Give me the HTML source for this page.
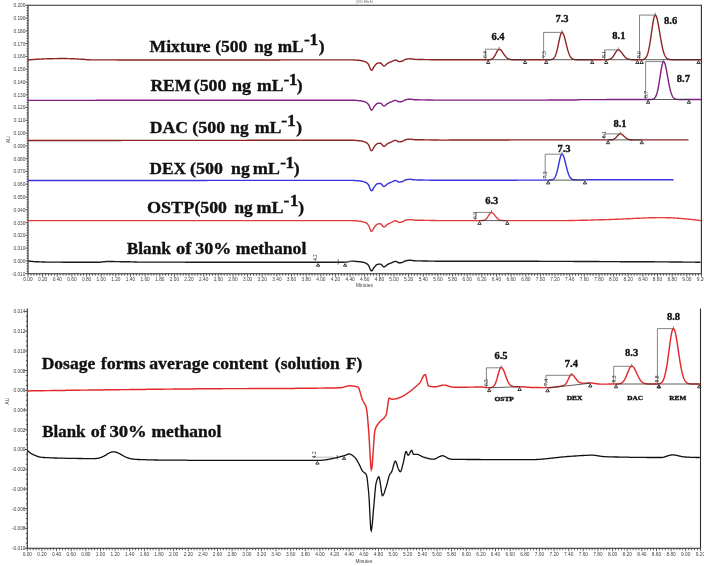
<!DOCTYPE html><html><head><meta charset="utf-8"><style>html,body{margin:0;padding:0;background:#fff;}svg{display:block}.tk{font-family:"Liberation Sans",sans-serif;font-size:4.8px;fill:#3c3c3c}.lb{font-family:"Liberation Serif",serif;font-weight:bold;fill:#111;stroke:#111;stroke-width:0.35px}</style></head><body>
<svg width="704" height="566" viewBox="0 0 704 566">
<rect width="704" height="566" fill="#fff"/>
<line x1="25.3" y1="5.3" x2="28" y2="5.3" stroke="#2e2e2e" stroke-width="0.8"/>
<text x="25.4" y="7.2" text-anchor="end" class="tk">0.200</text>
<line x1="26.6" y1="7.9" x2="28" y2="7.9" stroke="#2e2e2e" stroke-width="0.8"/>
<line x1="26.6" y1="10.4" x2="28" y2="10.4" stroke="#2e2e2e" stroke-width="0.8"/>
<line x1="26.6" y1="13" x2="28" y2="13" stroke="#2e2e2e" stroke-width="0.8"/>
<line x1="26.6" y1="15.5" x2="28" y2="15.5" stroke="#2e2e2e" stroke-width="0.8"/>
<line x1="25.3" y1="18.1" x2="28" y2="18.1" stroke="#2e2e2e" stroke-width="0.8"/>
<text x="25.4" y="20" text-anchor="end" class="tk">0.190</text>
<line x1="26.6" y1="20.6" x2="28" y2="20.6" stroke="#2e2e2e" stroke-width="0.8"/>
<line x1="26.6" y1="23.2" x2="28" y2="23.2" stroke="#2e2e2e" stroke-width="0.8"/>
<line x1="26.6" y1="25.7" x2="28" y2="25.7" stroke="#2e2e2e" stroke-width="0.8"/>
<line x1="26.6" y1="28.3" x2="28" y2="28.3" stroke="#2e2e2e" stroke-width="0.8"/>
<line x1="25.3" y1="30.9" x2="28" y2="30.9" stroke="#2e2e2e" stroke-width="0.8"/>
<text x="25.4" y="32.8" text-anchor="end" class="tk">0.180</text>
<line x1="26.6" y1="33.4" x2="28" y2="33.4" stroke="#2e2e2e" stroke-width="0.8"/>
<line x1="26.6" y1="36" x2="28" y2="36" stroke="#2e2e2e" stroke-width="0.8"/>
<line x1="26.6" y1="38.5" x2="28" y2="38.5" stroke="#2e2e2e" stroke-width="0.8"/>
<line x1="26.6" y1="41.1" x2="28" y2="41.1" stroke="#2e2e2e" stroke-width="0.8"/>
<line x1="25.3" y1="43.6" x2="28" y2="43.6" stroke="#2e2e2e" stroke-width="0.8"/>
<text x="25.4" y="45.5" text-anchor="end" class="tk">0.170</text>
<line x1="26.6" y1="46.2" x2="28" y2="46.2" stroke="#2e2e2e" stroke-width="0.8"/>
<line x1="26.6" y1="48.8" x2="28" y2="48.8" stroke="#2e2e2e" stroke-width="0.8"/>
<line x1="26.6" y1="51.3" x2="28" y2="51.3" stroke="#2e2e2e" stroke-width="0.8"/>
<line x1="26.6" y1="53.9" x2="28" y2="53.9" stroke="#2e2e2e" stroke-width="0.8"/>
<line x1="25.3" y1="56.4" x2="28" y2="56.4" stroke="#2e2e2e" stroke-width="0.8"/>
<text x="25.4" y="58.3" text-anchor="end" class="tk">0.160</text>
<line x1="26.6" y1="59" x2="28" y2="59" stroke="#2e2e2e" stroke-width="0.8"/>
<line x1="26.6" y1="61.5" x2="28" y2="61.5" stroke="#2e2e2e" stroke-width="0.8"/>
<line x1="26.6" y1="64.1" x2="28" y2="64.1" stroke="#2e2e2e" stroke-width="0.8"/>
<line x1="26.6" y1="66.6" x2="28" y2="66.6" stroke="#2e2e2e" stroke-width="0.8"/>
<line x1="25.3" y1="69.2" x2="28" y2="69.2" stroke="#2e2e2e" stroke-width="0.8"/>
<text x="25.4" y="71.1" text-anchor="end" class="tk">0.150</text>
<line x1="26.6" y1="71.8" x2="28" y2="71.8" stroke="#2e2e2e" stroke-width="0.8"/>
<line x1="26.6" y1="74.3" x2="28" y2="74.3" stroke="#2e2e2e" stroke-width="0.8"/>
<line x1="26.6" y1="76.9" x2="28" y2="76.9" stroke="#2e2e2e" stroke-width="0.8"/>
<line x1="26.6" y1="79.4" x2="28" y2="79.4" stroke="#2e2e2e" stroke-width="0.8"/>
<line x1="25.3" y1="82" x2="28" y2="82" stroke="#2e2e2e" stroke-width="0.8"/>
<text x="25.4" y="83.9" text-anchor="end" class="tk">0.140</text>
<line x1="26.6" y1="84.5" x2="28" y2="84.5" stroke="#2e2e2e" stroke-width="0.8"/>
<line x1="26.6" y1="87.1" x2="28" y2="87.1" stroke="#2e2e2e" stroke-width="0.8"/>
<line x1="26.6" y1="89.6" x2="28" y2="89.6" stroke="#2e2e2e" stroke-width="0.8"/>
<line x1="26.6" y1="92.2" x2="28" y2="92.2" stroke="#2e2e2e" stroke-width="0.8"/>
<line x1="25.3" y1="94.8" x2="28" y2="94.8" stroke="#2e2e2e" stroke-width="0.8"/>
<text x="25.4" y="96.7" text-anchor="end" class="tk">0.130</text>
<line x1="26.6" y1="97.3" x2="28" y2="97.3" stroke="#2e2e2e" stroke-width="0.8"/>
<line x1="26.6" y1="99.9" x2="28" y2="99.9" stroke="#2e2e2e" stroke-width="0.8"/>
<line x1="26.6" y1="102.4" x2="28" y2="102.4" stroke="#2e2e2e" stroke-width="0.8"/>
<line x1="26.6" y1="105" x2="28" y2="105" stroke="#2e2e2e" stroke-width="0.8"/>
<line x1="25.3" y1="107.5" x2="28" y2="107.5" stroke="#2e2e2e" stroke-width="0.8"/>
<text x="25.4" y="109.4" text-anchor="end" class="tk">0.120</text>
<line x1="26.6" y1="110.1" x2="28" y2="110.1" stroke="#2e2e2e" stroke-width="0.8"/>
<line x1="26.6" y1="112.7" x2="28" y2="112.7" stroke="#2e2e2e" stroke-width="0.8"/>
<line x1="26.6" y1="115.2" x2="28" y2="115.2" stroke="#2e2e2e" stroke-width="0.8"/>
<line x1="26.6" y1="117.8" x2="28" y2="117.8" stroke="#2e2e2e" stroke-width="0.8"/>
<line x1="25.3" y1="120.3" x2="28" y2="120.3" stroke="#2e2e2e" stroke-width="0.8"/>
<text x="25.4" y="122.2" text-anchor="end" class="tk">0.110</text>
<line x1="26.6" y1="122.9" x2="28" y2="122.9" stroke="#2e2e2e" stroke-width="0.8"/>
<line x1="26.6" y1="125.4" x2="28" y2="125.4" stroke="#2e2e2e" stroke-width="0.8"/>
<line x1="26.6" y1="128" x2="28" y2="128" stroke="#2e2e2e" stroke-width="0.8"/>
<line x1="26.6" y1="130.5" x2="28" y2="130.5" stroke="#2e2e2e" stroke-width="0.8"/>
<line x1="25.3" y1="133.1" x2="28" y2="133.1" stroke="#2e2e2e" stroke-width="0.8"/>
<text x="25.4" y="135" text-anchor="end" class="tk">0.100</text>
<line x1="26.6" y1="135.7" x2="28" y2="135.7" stroke="#2e2e2e" stroke-width="0.8"/>
<line x1="26.6" y1="138.2" x2="28" y2="138.2" stroke="#2e2e2e" stroke-width="0.8"/>
<line x1="26.6" y1="140.8" x2="28" y2="140.8" stroke="#2e2e2e" stroke-width="0.8"/>
<line x1="26.6" y1="143.3" x2="28" y2="143.3" stroke="#2e2e2e" stroke-width="0.8"/>
<line x1="25.3" y1="145.9" x2="28" y2="145.9" stroke="#2e2e2e" stroke-width="0.8"/>
<text x="25.4" y="147.8" text-anchor="end" class="tk">0.090</text>
<line x1="26.6" y1="148.4" x2="28" y2="148.4" stroke="#2e2e2e" stroke-width="0.8"/>
<line x1="26.6" y1="151" x2="28" y2="151" stroke="#2e2e2e" stroke-width="0.8"/>
<line x1="26.6" y1="153.5" x2="28" y2="153.5" stroke="#2e2e2e" stroke-width="0.8"/>
<line x1="26.6" y1="156.1" x2="28" y2="156.1" stroke="#2e2e2e" stroke-width="0.8"/>
<line x1="25.3" y1="158.7" x2="28" y2="158.7" stroke="#2e2e2e" stroke-width="0.8"/>
<text x="25.4" y="160.6" text-anchor="end" class="tk">0.080</text>
<line x1="26.6" y1="161.2" x2="28" y2="161.2" stroke="#2e2e2e" stroke-width="0.8"/>
<line x1="26.6" y1="163.8" x2="28" y2="163.8" stroke="#2e2e2e" stroke-width="0.8"/>
<line x1="26.6" y1="166.3" x2="28" y2="166.3" stroke="#2e2e2e" stroke-width="0.8"/>
<line x1="26.6" y1="168.9" x2="28" y2="168.9" stroke="#2e2e2e" stroke-width="0.8"/>
<line x1="25.3" y1="171.4" x2="28" y2="171.4" stroke="#2e2e2e" stroke-width="0.8"/>
<text x="25.4" y="173.3" text-anchor="end" class="tk">0.070</text>
<line x1="26.6" y1="174" x2="28" y2="174" stroke="#2e2e2e" stroke-width="0.8"/>
<line x1="26.6" y1="176.6" x2="28" y2="176.6" stroke="#2e2e2e" stroke-width="0.8"/>
<line x1="26.6" y1="179.1" x2="28" y2="179.1" stroke="#2e2e2e" stroke-width="0.8"/>
<line x1="26.6" y1="181.7" x2="28" y2="181.7" stroke="#2e2e2e" stroke-width="0.8"/>
<line x1="25.3" y1="184.2" x2="28" y2="184.2" stroke="#2e2e2e" stroke-width="0.8"/>
<text x="25.4" y="186.1" text-anchor="end" class="tk">0.060</text>
<line x1="26.6" y1="186.8" x2="28" y2="186.8" stroke="#2e2e2e" stroke-width="0.8"/>
<line x1="26.6" y1="189.3" x2="28" y2="189.3" stroke="#2e2e2e" stroke-width="0.8"/>
<line x1="26.6" y1="191.9" x2="28" y2="191.9" stroke="#2e2e2e" stroke-width="0.8"/>
<line x1="26.6" y1="194.4" x2="28" y2="194.4" stroke="#2e2e2e" stroke-width="0.8"/>
<line x1="25.3" y1="197" x2="28" y2="197" stroke="#2e2e2e" stroke-width="0.8"/>
<text x="25.4" y="198.9" text-anchor="end" class="tk">0.050</text>
<line x1="26.6" y1="199.6" x2="28" y2="199.6" stroke="#2e2e2e" stroke-width="0.8"/>
<line x1="26.6" y1="202.1" x2="28" y2="202.1" stroke="#2e2e2e" stroke-width="0.8"/>
<line x1="26.6" y1="204.7" x2="28" y2="204.7" stroke="#2e2e2e" stroke-width="0.8"/>
<line x1="26.6" y1="207.2" x2="28" y2="207.2" stroke="#2e2e2e" stroke-width="0.8"/>
<line x1="25.3" y1="209.8" x2="28" y2="209.8" stroke="#2e2e2e" stroke-width="0.8"/>
<text x="25.4" y="211.7" text-anchor="end" class="tk">0.040</text>
<line x1="26.6" y1="212.3" x2="28" y2="212.3" stroke="#2e2e2e" stroke-width="0.8"/>
<line x1="26.6" y1="214.9" x2="28" y2="214.9" stroke="#2e2e2e" stroke-width="0.8"/>
<line x1="26.6" y1="217.4" x2="28" y2="217.4" stroke="#2e2e2e" stroke-width="0.8"/>
<line x1="26.6" y1="220" x2="28" y2="220" stroke="#2e2e2e" stroke-width="0.8"/>
<line x1="25.3" y1="222.6" x2="28" y2="222.6" stroke="#2e2e2e" stroke-width="0.8"/>
<text x="25.4" y="224.5" text-anchor="end" class="tk">0.030</text>
<line x1="26.6" y1="225.1" x2="28" y2="225.1" stroke="#2e2e2e" stroke-width="0.8"/>
<line x1="26.6" y1="227.7" x2="28" y2="227.7" stroke="#2e2e2e" stroke-width="0.8"/>
<line x1="26.6" y1="230.2" x2="28" y2="230.2" stroke="#2e2e2e" stroke-width="0.8"/>
<line x1="26.6" y1="232.8" x2="28" y2="232.8" stroke="#2e2e2e" stroke-width="0.8"/>
<line x1="25.3" y1="235.3" x2="28" y2="235.3" stroke="#2e2e2e" stroke-width="0.8"/>
<text x="25.4" y="237.2" text-anchor="end" class="tk">0.020</text>
<line x1="26.6" y1="237.9" x2="28" y2="237.9" stroke="#2e2e2e" stroke-width="0.8"/>
<line x1="26.6" y1="240.5" x2="28" y2="240.5" stroke="#2e2e2e" stroke-width="0.8"/>
<line x1="26.6" y1="243" x2="28" y2="243" stroke="#2e2e2e" stroke-width="0.8"/>
<line x1="26.6" y1="245.6" x2="28" y2="245.6" stroke="#2e2e2e" stroke-width="0.8"/>
<line x1="25.3" y1="248.1" x2="28" y2="248.1" stroke="#2e2e2e" stroke-width="0.8"/>
<text x="25.4" y="250" text-anchor="end" class="tk">0.010</text>
<line x1="26.6" y1="250.7" x2="28" y2="250.7" stroke="#2e2e2e" stroke-width="0.8"/>
<line x1="26.6" y1="253.2" x2="28" y2="253.2" stroke="#2e2e2e" stroke-width="0.8"/>
<line x1="26.6" y1="255.8" x2="28" y2="255.8" stroke="#2e2e2e" stroke-width="0.8"/>
<line x1="26.6" y1="258.3" x2="28" y2="258.3" stroke="#2e2e2e" stroke-width="0.8"/>
<line x1="25.3" y1="260.9" x2="28" y2="260.9" stroke="#2e2e2e" stroke-width="0.8"/>
<text x="25.4" y="262.8" text-anchor="end" class="tk">0.000</text>
<line x1="26.6" y1="263.5" x2="28" y2="263.5" stroke="#2e2e2e" stroke-width="0.8"/>
<line x1="26.6" y1="266" x2="28" y2="266" stroke="#2e2e2e" stroke-width="0.8"/>
<line x1="26.6" y1="268.6" x2="28" y2="268.6" stroke="#2e2e2e" stroke-width="0.8"/>
<line x1="26.6" y1="271.1" x2="28" y2="271.1" stroke="#2e2e2e" stroke-width="0.8"/>
<line x1="25.3" y1="273.7" x2="28" y2="273.7" stroke="#2e2e2e" stroke-width="0.8"/>
<text x="25.4" y="275.6" text-anchor="end" class="tk">-0.010</text>
<line x1="28" y1="273.7" x2="28" y2="276.7" stroke="#2e2e2e" stroke-width="0.8"/>
<text x="28" y="281.3" text-anchor="middle" class="tk">0.00</text>
<line x1="30.9" y1="273.7" x2="30.9" y2="275.7" stroke="#2e2e2e" stroke-width="0.8"/>
<line x1="33.9" y1="273.7" x2="33.9" y2="275.7" stroke="#2e2e2e" stroke-width="0.8"/>
<line x1="36.8" y1="273.7" x2="36.8" y2="275.7" stroke="#2e2e2e" stroke-width="0.8"/>
<line x1="39.7" y1="273.7" x2="39.7" y2="275.7" stroke="#2e2e2e" stroke-width="0.8"/>
<line x1="42.6" y1="273.7" x2="42.6" y2="276.7" stroke="#2e2e2e" stroke-width="0.8"/>
<text x="42.6" y="281.3" text-anchor="middle" class="tk">0.20</text>
<line x1="45.6" y1="273.7" x2="45.6" y2="275.7" stroke="#2e2e2e" stroke-width="0.8"/>
<line x1="48.5" y1="273.7" x2="48.5" y2="275.7" stroke="#2e2e2e" stroke-width="0.8"/>
<line x1="51.4" y1="273.7" x2="51.4" y2="275.7" stroke="#2e2e2e" stroke-width="0.8"/>
<line x1="54.4" y1="273.7" x2="54.4" y2="275.7" stroke="#2e2e2e" stroke-width="0.8"/>
<line x1="57.3" y1="273.7" x2="57.3" y2="276.7" stroke="#2e2e2e" stroke-width="0.8"/>
<text x="57.3" y="281.3" text-anchor="middle" class="tk">0.40</text>
<line x1="60.2" y1="273.7" x2="60.2" y2="275.7" stroke="#2e2e2e" stroke-width="0.8"/>
<line x1="63.1" y1="273.7" x2="63.1" y2="275.7" stroke="#2e2e2e" stroke-width="0.8"/>
<line x1="66.1" y1="273.7" x2="66.1" y2="275.7" stroke="#2e2e2e" stroke-width="0.8"/>
<line x1="69" y1="273.7" x2="69" y2="275.7" stroke="#2e2e2e" stroke-width="0.8"/>
<line x1="71.9" y1="273.7" x2="71.9" y2="276.7" stroke="#2e2e2e" stroke-width="0.8"/>
<text x="71.9" y="281.3" text-anchor="middle" class="tk">0.60</text>
<line x1="74.8" y1="273.7" x2="74.8" y2="275.7" stroke="#2e2e2e" stroke-width="0.8"/>
<line x1="77.8" y1="273.7" x2="77.8" y2="275.7" stroke="#2e2e2e" stroke-width="0.8"/>
<line x1="80.7" y1="273.7" x2="80.7" y2="275.7" stroke="#2e2e2e" stroke-width="0.8"/>
<line x1="83.6" y1="273.7" x2="83.6" y2="275.7" stroke="#2e2e2e" stroke-width="0.8"/>
<line x1="86.6" y1="273.7" x2="86.6" y2="276.7" stroke="#2e2e2e" stroke-width="0.8"/>
<text x="86.6" y="281.3" text-anchor="middle" class="tk">0.80</text>
<line x1="89.5" y1="273.7" x2="89.5" y2="275.7" stroke="#2e2e2e" stroke-width="0.8"/>
<line x1="92.4" y1="273.7" x2="92.4" y2="275.7" stroke="#2e2e2e" stroke-width="0.8"/>
<line x1="95.3" y1="273.7" x2="95.3" y2="275.7" stroke="#2e2e2e" stroke-width="0.8"/>
<line x1="98.3" y1="273.7" x2="98.3" y2="275.7" stroke="#2e2e2e" stroke-width="0.8"/>
<line x1="101.2" y1="273.7" x2="101.2" y2="276.7" stroke="#2e2e2e" stroke-width="0.8"/>
<text x="101.2" y="281.3" text-anchor="middle" class="tk">1.00</text>
<line x1="104.1" y1="273.7" x2="104.1" y2="275.7" stroke="#2e2e2e" stroke-width="0.8"/>
<line x1="107.1" y1="273.7" x2="107.1" y2="275.7" stroke="#2e2e2e" stroke-width="0.8"/>
<line x1="110" y1="273.7" x2="110" y2="275.7" stroke="#2e2e2e" stroke-width="0.8"/>
<line x1="112.9" y1="273.7" x2="112.9" y2="275.7" stroke="#2e2e2e" stroke-width="0.8"/>
<line x1="115.8" y1="273.7" x2="115.8" y2="276.7" stroke="#2e2e2e" stroke-width="0.8"/>
<text x="115.8" y="281.3" text-anchor="middle" class="tk">1.20</text>
<line x1="118.8" y1="273.7" x2="118.8" y2="275.7" stroke="#2e2e2e" stroke-width="0.8"/>
<line x1="121.7" y1="273.7" x2="121.7" y2="275.7" stroke="#2e2e2e" stroke-width="0.8"/>
<line x1="124.6" y1="273.7" x2="124.6" y2="275.7" stroke="#2e2e2e" stroke-width="0.8"/>
<line x1="127.6" y1="273.7" x2="127.6" y2="275.7" stroke="#2e2e2e" stroke-width="0.8"/>
<line x1="130.5" y1="273.7" x2="130.5" y2="276.7" stroke="#2e2e2e" stroke-width="0.8"/>
<text x="130.5" y="281.3" text-anchor="middle" class="tk">1.40</text>
<line x1="133.4" y1="273.7" x2="133.4" y2="275.7" stroke="#2e2e2e" stroke-width="0.8"/>
<line x1="136.3" y1="273.7" x2="136.3" y2="275.7" stroke="#2e2e2e" stroke-width="0.8"/>
<line x1="139.3" y1="273.7" x2="139.3" y2="275.7" stroke="#2e2e2e" stroke-width="0.8"/>
<line x1="142.2" y1="273.7" x2="142.2" y2="275.7" stroke="#2e2e2e" stroke-width="0.8"/>
<line x1="145.1" y1="273.7" x2="145.1" y2="276.7" stroke="#2e2e2e" stroke-width="0.8"/>
<text x="145.1" y="281.3" text-anchor="middle" class="tk">1.60</text>
<line x1="148" y1="273.7" x2="148" y2="275.7" stroke="#2e2e2e" stroke-width="0.8"/>
<line x1="151" y1="273.7" x2="151" y2="275.7" stroke="#2e2e2e" stroke-width="0.8"/>
<line x1="153.9" y1="273.7" x2="153.9" y2="275.7" stroke="#2e2e2e" stroke-width="0.8"/>
<line x1="156.8" y1="273.7" x2="156.8" y2="275.7" stroke="#2e2e2e" stroke-width="0.8"/>
<line x1="159.8" y1="273.7" x2="159.8" y2="276.7" stroke="#2e2e2e" stroke-width="0.8"/>
<text x="159.8" y="281.3" text-anchor="middle" class="tk">1.80</text>
<line x1="162.7" y1="273.7" x2="162.7" y2="275.7" stroke="#2e2e2e" stroke-width="0.8"/>
<line x1="165.6" y1="273.7" x2="165.6" y2="275.7" stroke="#2e2e2e" stroke-width="0.8"/>
<line x1="168.5" y1="273.7" x2="168.5" y2="275.7" stroke="#2e2e2e" stroke-width="0.8"/>
<line x1="171.5" y1="273.7" x2="171.5" y2="275.7" stroke="#2e2e2e" stroke-width="0.8"/>
<line x1="174.4" y1="273.7" x2="174.4" y2="276.7" stroke="#2e2e2e" stroke-width="0.8"/>
<text x="174.4" y="281.3" text-anchor="middle" class="tk">2.00</text>
<line x1="177.3" y1="273.7" x2="177.3" y2="275.7" stroke="#2e2e2e" stroke-width="0.8"/>
<line x1="180.3" y1="273.7" x2="180.3" y2="275.7" stroke="#2e2e2e" stroke-width="0.8"/>
<line x1="183.2" y1="273.7" x2="183.2" y2="275.7" stroke="#2e2e2e" stroke-width="0.8"/>
<line x1="186.1" y1="273.7" x2="186.1" y2="275.7" stroke="#2e2e2e" stroke-width="0.8"/>
<line x1="189" y1="273.7" x2="189" y2="276.7" stroke="#2e2e2e" stroke-width="0.8"/>
<text x="189" y="281.3" text-anchor="middle" class="tk">2.20</text>
<line x1="192" y1="273.7" x2="192" y2="275.7" stroke="#2e2e2e" stroke-width="0.8"/>
<line x1="194.9" y1="273.7" x2="194.9" y2="275.7" stroke="#2e2e2e" stroke-width="0.8"/>
<line x1="197.8" y1="273.7" x2="197.8" y2="275.7" stroke="#2e2e2e" stroke-width="0.8"/>
<line x1="200.8" y1="273.7" x2="200.8" y2="275.7" stroke="#2e2e2e" stroke-width="0.8"/>
<line x1="203.7" y1="273.7" x2="203.7" y2="276.7" stroke="#2e2e2e" stroke-width="0.8"/>
<text x="203.7" y="281.3" text-anchor="middle" class="tk">2.40</text>
<line x1="206.6" y1="273.7" x2="206.6" y2="275.7" stroke="#2e2e2e" stroke-width="0.8"/>
<line x1="209.5" y1="273.7" x2="209.5" y2="275.7" stroke="#2e2e2e" stroke-width="0.8"/>
<line x1="212.5" y1="273.7" x2="212.5" y2="275.7" stroke="#2e2e2e" stroke-width="0.8"/>
<line x1="215.4" y1="273.7" x2="215.4" y2="275.7" stroke="#2e2e2e" stroke-width="0.8"/>
<line x1="218.3" y1="273.7" x2="218.3" y2="276.7" stroke="#2e2e2e" stroke-width="0.8"/>
<text x="218.3" y="281.3" text-anchor="middle" class="tk">2.60</text>
<line x1="221.2" y1="273.7" x2="221.2" y2="275.7" stroke="#2e2e2e" stroke-width="0.8"/>
<line x1="224.2" y1="273.7" x2="224.2" y2="275.7" stroke="#2e2e2e" stroke-width="0.8"/>
<line x1="227.1" y1="273.7" x2="227.1" y2="275.7" stroke="#2e2e2e" stroke-width="0.8"/>
<line x1="230" y1="273.7" x2="230" y2="275.7" stroke="#2e2e2e" stroke-width="0.8"/>
<line x1="233" y1="273.7" x2="233" y2="276.7" stroke="#2e2e2e" stroke-width="0.8"/>
<text x="233" y="281.3" text-anchor="middle" class="tk">2.80</text>
<line x1="235.9" y1="273.7" x2="235.9" y2="275.7" stroke="#2e2e2e" stroke-width="0.8"/>
<line x1="238.8" y1="273.7" x2="238.8" y2="275.7" stroke="#2e2e2e" stroke-width="0.8"/>
<line x1="241.7" y1="273.7" x2="241.7" y2="275.7" stroke="#2e2e2e" stroke-width="0.8"/>
<line x1="244.7" y1="273.7" x2="244.7" y2="275.7" stroke="#2e2e2e" stroke-width="0.8"/>
<line x1="247.6" y1="273.7" x2="247.6" y2="276.7" stroke="#2e2e2e" stroke-width="0.8"/>
<text x="247.6" y="281.3" text-anchor="middle" class="tk">3.00</text>
<line x1="250.5" y1="273.7" x2="250.5" y2="275.7" stroke="#2e2e2e" stroke-width="0.8"/>
<line x1="253.5" y1="273.7" x2="253.5" y2="275.7" stroke="#2e2e2e" stroke-width="0.8"/>
<line x1="256.4" y1="273.7" x2="256.4" y2="275.7" stroke="#2e2e2e" stroke-width="0.8"/>
<line x1="259.3" y1="273.7" x2="259.3" y2="275.7" stroke="#2e2e2e" stroke-width="0.8"/>
<line x1="262.2" y1="273.7" x2="262.2" y2="276.7" stroke="#2e2e2e" stroke-width="0.8"/>
<text x="262.2" y="281.3" text-anchor="middle" class="tk">3.20</text>
<line x1="265.2" y1="273.7" x2="265.2" y2="275.7" stroke="#2e2e2e" stroke-width="0.8"/>
<line x1="268.1" y1="273.7" x2="268.1" y2="275.7" stroke="#2e2e2e" stroke-width="0.8"/>
<line x1="271" y1="273.7" x2="271" y2="275.7" stroke="#2e2e2e" stroke-width="0.8"/>
<line x1="274" y1="273.7" x2="274" y2="275.7" stroke="#2e2e2e" stroke-width="0.8"/>
<line x1="276.9" y1="273.7" x2="276.9" y2="276.7" stroke="#2e2e2e" stroke-width="0.8"/>
<text x="276.9" y="281.3" text-anchor="middle" class="tk">3.40</text>
<line x1="279.8" y1="273.7" x2="279.8" y2="275.7" stroke="#2e2e2e" stroke-width="0.8"/>
<line x1="282.7" y1="273.7" x2="282.7" y2="275.7" stroke="#2e2e2e" stroke-width="0.8"/>
<line x1="285.7" y1="273.7" x2="285.7" y2="275.7" stroke="#2e2e2e" stroke-width="0.8"/>
<line x1="288.6" y1="273.7" x2="288.6" y2="275.7" stroke="#2e2e2e" stroke-width="0.8"/>
<line x1="291.5" y1="273.7" x2="291.5" y2="276.7" stroke="#2e2e2e" stroke-width="0.8"/>
<text x="291.5" y="281.3" text-anchor="middle" class="tk">3.60</text>
<line x1="294.4" y1="273.7" x2="294.4" y2="275.7" stroke="#2e2e2e" stroke-width="0.8"/>
<line x1="297.4" y1="273.7" x2="297.4" y2="275.7" stroke="#2e2e2e" stroke-width="0.8"/>
<line x1="300.3" y1="273.7" x2="300.3" y2="275.7" stroke="#2e2e2e" stroke-width="0.8"/>
<line x1="303.2" y1="273.7" x2="303.2" y2="275.7" stroke="#2e2e2e" stroke-width="0.8"/>
<line x1="306.2" y1="273.7" x2="306.2" y2="276.7" stroke="#2e2e2e" stroke-width="0.8"/>
<text x="306.2" y="281.3" text-anchor="middle" class="tk">3.80</text>
<line x1="309.1" y1="273.7" x2="309.1" y2="275.7" stroke="#2e2e2e" stroke-width="0.8"/>
<line x1="312" y1="273.7" x2="312" y2="275.7" stroke="#2e2e2e" stroke-width="0.8"/>
<line x1="314.9" y1="273.7" x2="314.9" y2="275.7" stroke="#2e2e2e" stroke-width="0.8"/>
<line x1="317.9" y1="273.7" x2="317.9" y2="275.7" stroke="#2e2e2e" stroke-width="0.8"/>
<line x1="320.8" y1="273.7" x2="320.8" y2="276.7" stroke="#2e2e2e" stroke-width="0.8"/>
<text x="320.8" y="281.3" text-anchor="middle" class="tk">4.00</text>
<line x1="323.7" y1="273.7" x2="323.7" y2="275.7" stroke="#2e2e2e" stroke-width="0.8"/>
<line x1="326.7" y1="273.7" x2="326.7" y2="275.7" stroke="#2e2e2e" stroke-width="0.8"/>
<line x1="329.6" y1="273.7" x2="329.6" y2="275.7" stroke="#2e2e2e" stroke-width="0.8"/>
<line x1="332.5" y1="273.7" x2="332.5" y2="275.7" stroke="#2e2e2e" stroke-width="0.8"/>
<line x1="335.4" y1="273.7" x2="335.4" y2="276.7" stroke="#2e2e2e" stroke-width="0.8"/>
<text x="335.4" y="281.3" text-anchor="middle" class="tk">4.20</text>
<line x1="338.4" y1="273.7" x2="338.4" y2="275.7" stroke="#2e2e2e" stroke-width="0.8"/>
<line x1="341.3" y1="273.7" x2="341.3" y2="275.7" stroke="#2e2e2e" stroke-width="0.8"/>
<line x1="344.2" y1="273.7" x2="344.2" y2="275.7" stroke="#2e2e2e" stroke-width="0.8"/>
<line x1="347.2" y1="273.7" x2="347.2" y2="275.7" stroke="#2e2e2e" stroke-width="0.8"/>
<line x1="350.1" y1="273.7" x2="350.1" y2="276.7" stroke="#2e2e2e" stroke-width="0.8"/>
<text x="350.1" y="281.3" text-anchor="middle" class="tk">4.40</text>
<line x1="353" y1="273.7" x2="353" y2="275.7" stroke="#2e2e2e" stroke-width="0.8"/>
<line x1="355.9" y1="273.7" x2="355.9" y2="275.7" stroke="#2e2e2e" stroke-width="0.8"/>
<line x1="358.9" y1="273.7" x2="358.9" y2="275.7" stroke="#2e2e2e" stroke-width="0.8"/>
<line x1="361.8" y1="273.7" x2="361.8" y2="275.7" stroke="#2e2e2e" stroke-width="0.8"/>
<line x1="364.7" y1="273.7" x2="364.7" y2="276.7" stroke="#2e2e2e" stroke-width="0.8"/>
<text x="364.7" y="281.3" text-anchor="middle" class="tk">4.60</text>
<line x1="367.6" y1="273.7" x2="367.6" y2="275.7" stroke="#2e2e2e" stroke-width="0.8"/>
<line x1="370.6" y1="273.7" x2="370.6" y2="275.7" stroke="#2e2e2e" stroke-width="0.8"/>
<line x1="373.5" y1="273.7" x2="373.5" y2="275.7" stroke="#2e2e2e" stroke-width="0.8"/>
<line x1="376.4" y1="273.7" x2="376.4" y2="275.7" stroke="#2e2e2e" stroke-width="0.8"/>
<line x1="379.4" y1="273.7" x2="379.4" y2="276.7" stroke="#2e2e2e" stroke-width="0.8"/>
<text x="379.4" y="281.3" text-anchor="middle" class="tk">4.80</text>
<line x1="382.3" y1="273.7" x2="382.3" y2="275.7" stroke="#2e2e2e" stroke-width="0.8"/>
<line x1="385.2" y1="273.7" x2="385.2" y2="275.7" stroke="#2e2e2e" stroke-width="0.8"/>
<line x1="388.1" y1="273.7" x2="388.1" y2="275.7" stroke="#2e2e2e" stroke-width="0.8"/>
<line x1="391.1" y1="273.7" x2="391.1" y2="275.7" stroke="#2e2e2e" stroke-width="0.8"/>
<line x1="394" y1="273.7" x2="394" y2="276.7" stroke="#2e2e2e" stroke-width="0.8"/>
<text x="394" y="281.3" text-anchor="middle" class="tk">5.00</text>
<line x1="396.9" y1="273.7" x2="396.9" y2="275.7" stroke="#2e2e2e" stroke-width="0.8"/>
<line x1="399.9" y1="273.7" x2="399.9" y2="275.7" stroke="#2e2e2e" stroke-width="0.8"/>
<line x1="402.8" y1="273.7" x2="402.8" y2="275.7" stroke="#2e2e2e" stroke-width="0.8"/>
<line x1="405.7" y1="273.7" x2="405.7" y2="275.7" stroke="#2e2e2e" stroke-width="0.8"/>
<line x1="408.6" y1="273.7" x2="408.6" y2="276.7" stroke="#2e2e2e" stroke-width="0.8"/>
<text x="408.6" y="281.3" text-anchor="middle" class="tk">5.20</text>
<line x1="411.6" y1="273.7" x2="411.6" y2="275.7" stroke="#2e2e2e" stroke-width="0.8"/>
<line x1="414.5" y1="273.7" x2="414.5" y2="275.7" stroke="#2e2e2e" stroke-width="0.8"/>
<line x1="417.4" y1="273.7" x2="417.4" y2="275.7" stroke="#2e2e2e" stroke-width="0.8"/>
<line x1="420.4" y1="273.7" x2="420.4" y2="275.7" stroke="#2e2e2e" stroke-width="0.8"/>
<line x1="423.3" y1="273.7" x2="423.3" y2="276.7" stroke="#2e2e2e" stroke-width="0.8"/>
<text x="423.3" y="281.3" text-anchor="middle" class="tk">5.40</text>
<line x1="426.2" y1="273.7" x2="426.2" y2="275.7" stroke="#2e2e2e" stroke-width="0.8"/>
<line x1="429.1" y1="273.7" x2="429.1" y2="275.7" stroke="#2e2e2e" stroke-width="0.8"/>
<line x1="432.1" y1="273.7" x2="432.1" y2="275.7" stroke="#2e2e2e" stroke-width="0.8"/>
<line x1="435" y1="273.7" x2="435" y2="275.7" stroke="#2e2e2e" stroke-width="0.8"/>
<line x1="437.9" y1="273.7" x2="437.9" y2="276.7" stroke="#2e2e2e" stroke-width="0.8"/>
<text x="437.9" y="281.3" text-anchor="middle" class="tk">5.60</text>
<line x1="440.8" y1="273.7" x2="440.8" y2="275.7" stroke="#2e2e2e" stroke-width="0.8"/>
<line x1="443.8" y1="273.7" x2="443.8" y2="275.7" stroke="#2e2e2e" stroke-width="0.8"/>
<line x1="446.7" y1="273.7" x2="446.7" y2="275.7" stroke="#2e2e2e" stroke-width="0.8"/>
<line x1="449.6" y1="273.7" x2="449.6" y2="275.7" stroke="#2e2e2e" stroke-width="0.8"/>
<line x1="452.6" y1="273.7" x2="452.6" y2="276.7" stroke="#2e2e2e" stroke-width="0.8"/>
<text x="452.6" y="281.3" text-anchor="middle" class="tk">5.80</text>
<line x1="455.5" y1="273.7" x2="455.5" y2="275.7" stroke="#2e2e2e" stroke-width="0.8"/>
<line x1="458.4" y1="273.7" x2="458.4" y2="275.7" stroke="#2e2e2e" stroke-width="0.8"/>
<line x1="461.3" y1="273.7" x2="461.3" y2="275.7" stroke="#2e2e2e" stroke-width="0.8"/>
<line x1="464.3" y1="273.7" x2="464.3" y2="275.7" stroke="#2e2e2e" stroke-width="0.8"/>
<line x1="467.2" y1="273.7" x2="467.2" y2="276.7" stroke="#2e2e2e" stroke-width="0.8"/>
<text x="467.2" y="281.3" text-anchor="middle" class="tk">6.00</text>
<line x1="470.1" y1="273.7" x2="470.1" y2="275.7" stroke="#2e2e2e" stroke-width="0.8"/>
<line x1="473.1" y1="273.7" x2="473.1" y2="275.7" stroke="#2e2e2e" stroke-width="0.8"/>
<line x1="476" y1="273.7" x2="476" y2="275.7" stroke="#2e2e2e" stroke-width="0.8"/>
<line x1="478.9" y1="273.7" x2="478.9" y2="275.7" stroke="#2e2e2e" stroke-width="0.8"/>
<line x1="481.8" y1="273.7" x2="481.8" y2="276.7" stroke="#2e2e2e" stroke-width="0.8"/>
<text x="481.8" y="281.3" text-anchor="middle" class="tk">6.20</text>
<line x1="484.8" y1="273.7" x2="484.8" y2="275.7" stroke="#2e2e2e" stroke-width="0.8"/>
<line x1="487.7" y1="273.7" x2="487.7" y2="275.7" stroke="#2e2e2e" stroke-width="0.8"/>
<line x1="490.6" y1="273.7" x2="490.6" y2="275.7" stroke="#2e2e2e" stroke-width="0.8"/>
<line x1="493.6" y1="273.7" x2="493.6" y2="275.7" stroke="#2e2e2e" stroke-width="0.8"/>
<line x1="496.5" y1="273.7" x2="496.5" y2="276.7" stroke="#2e2e2e" stroke-width="0.8"/>
<text x="496.5" y="281.3" text-anchor="middle" class="tk">6.40</text>
<line x1="499.4" y1="273.7" x2="499.4" y2="275.7" stroke="#2e2e2e" stroke-width="0.8"/>
<line x1="502.3" y1="273.7" x2="502.3" y2="275.7" stroke="#2e2e2e" stroke-width="0.8"/>
<line x1="505.3" y1="273.7" x2="505.3" y2="275.7" stroke="#2e2e2e" stroke-width="0.8"/>
<line x1="508.2" y1="273.7" x2="508.2" y2="275.7" stroke="#2e2e2e" stroke-width="0.8"/>
<line x1="511.1" y1="273.7" x2="511.1" y2="276.7" stroke="#2e2e2e" stroke-width="0.8"/>
<text x="511.1" y="281.3" text-anchor="middle" class="tk">6.60</text>
<line x1="514" y1="273.7" x2="514" y2="275.7" stroke="#2e2e2e" stroke-width="0.8"/>
<line x1="517" y1="273.7" x2="517" y2="275.7" stroke="#2e2e2e" stroke-width="0.8"/>
<line x1="519.9" y1="273.7" x2="519.9" y2="275.7" stroke="#2e2e2e" stroke-width="0.8"/>
<line x1="522.8" y1="273.7" x2="522.8" y2="275.7" stroke="#2e2e2e" stroke-width="0.8"/>
<line x1="525.8" y1="273.7" x2="525.8" y2="276.7" stroke="#2e2e2e" stroke-width="0.8"/>
<text x="525.8" y="281.3" text-anchor="middle" class="tk">6.80</text>
<line x1="528.7" y1="273.7" x2="528.7" y2="275.7" stroke="#2e2e2e" stroke-width="0.8"/>
<line x1="531.6" y1="273.7" x2="531.6" y2="275.7" stroke="#2e2e2e" stroke-width="0.8"/>
<line x1="534.5" y1="273.7" x2="534.5" y2="275.7" stroke="#2e2e2e" stroke-width="0.8"/>
<line x1="537.5" y1="273.7" x2="537.5" y2="275.7" stroke="#2e2e2e" stroke-width="0.8"/>
<line x1="540.4" y1="273.7" x2="540.4" y2="276.7" stroke="#2e2e2e" stroke-width="0.8"/>
<text x="540.4" y="281.3" text-anchor="middle" class="tk">7.00</text>
<line x1="543.3" y1="273.7" x2="543.3" y2="275.7" stroke="#2e2e2e" stroke-width="0.8"/>
<line x1="546.3" y1="273.7" x2="546.3" y2="275.7" stroke="#2e2e2e" stroke-width="0.8"/>
<line x1="549.2" y1="273.7" x2="549.2" y2="275.7" stroke="#2e2e2e" stroke-width="0.8"/>
<line x1="552.1" y1="273.7" x2="552.1" y2="275.7" stroke="#2e2e2e" stroke-width="0.8"/>
<line x1="555" y1="273.7" x2="555" y2="276.7" stroke="#2e2e2e" stroke-width="0.8"/>
<text x="555" y="281.3" text-anchor="middle" class="tk">7.20</text>
<line x1="558" y1="273.7" x2="558" y2="275.7" stroke="#2e2e2e" stroke-width="0.8"/>
<line x1="560.9" y1="273.7" x2="560.9" y2="275.7" stroke="#2e2e2e" stroke-width="0.8"/>
<line x1="563.8" y1="273.7" x2="563.8" y2="275.7" stroke="#2e2e2e" stroke-width="0.8"/>
<line x1="566.8" y1="273.7" x2="566.8" y2="275.7" stroke="#2e2e2e" stroke-width="0.8"/>
<line x1="569.7" y1="273.7" x2="569.7" y2="276.7" stroke="#2e2e2e" stroke-width="0.8"/>
<text x="569.7" y="281.3" text-anchor="middle" class="tk">7.40</text>
<line x1="572.6" y1="273.7" x2="572.6" y2="275.7" stroke="#2e2e2e" stroke-width="0.8"/>
<line x1="575.5" y1="273.7" x2="575.5" y2="275.7" stroke="#2e2e2e" stroke-width="0.8"/>
<line x1="578.5" y1="273.7" x2="578.5" y2="275.7" stroke="#2e2e2e" stroke-width="0.8"/>
<line x1="581.4" y1="273.7" x2="581.4" y2="275.7" stroke="#2e2e2e" stroke-width="0.8"/>
<line x1="584.3" y1="273.7" x2="584.3" y2="276.7" stroke="#2e2e2e" stroke-width="0.8"/>
<text x="584.3" y="281.3" text-anchor="middle" class="tk">7.60</text>
<line x1="587.2" y1="273.7" x2="587.2" y2="275.7" stroke="#2e2e2e" stroke-width="0.8"/>
<line x1="590.2" y1="273.7" x2="590.2" y2="275.7" stroke="#2e2e2e" stroke-width="0.8"/>
<line x1="593.1" y1="273.7" x2="593.1" y2="275.7" stroke="#2e2e2e" stroke-width="0.8"/>
<line x1="596" y1="273.7" x2="596" y2="275.7" stroke="#2e2e2e" stroke-width="0.8"/>
<line x1="599" y1="273.7" x2="599" y2="276.7" stroke="#2e2e2e" stroke-width="0.8"/>
<text x="599" y="281.3" text-anchor="middle" class="tk">7.80</text>
<line x1="601.9" y1="273.7" x2="601.9" y2="275.7" stroke="#2e2e2e" stroke-width="0.8"/>
<line x1="604.8" y1="273.7" x2="604.8" y2="275.7" stroke="#2e2e2e" stroke-width="0.8"/>
<line x1="607.7" y1="273.7" x2="607.7" y2="275.7" stroke="#2e2e2e" stroke-width="0.8"/>
<line x1="610.7" y1="273.7" x2="610.7" y2="275.7" stroke="#2e2e2e" stroke-width="0.8"/>
<line x1="613.6" y1="273.7" x2="613.6" y2="276.7" stroke="#2e2e2e" stroke-width="0.8"/>
<text x="613.6" y="281.3" text-anchor="middle" class="tk">8.00</text>
<line x1="616.5" y1="273.7" x2="616.5" y2="275.7" stroke="#2e2e2e" stroke-width="0.8"/>
<line x1="619.5" y1="273.7" x2="619.5" y2="275.7" stroke="#2e2e2e" stroke-width="0.8"/>
<line x1="622.4" y1="273.7" x2="622.4" y2="275.7" stroke="#2e2e2e" stroke-width="0.8"/>
<line x1="625.3" y1="273.7" x2="625.3" y2="275.7" stroke="#2e2e2e" stroke-width="0.8"/>
<line x1="628.2" y1="273.7" x2="628.2" y2="276.7" stroke="#2e2e2e" stroke-width="0.8"/>
<text x="628.2" y="281.3" text-anchor="middle" class="tk">8.20</text>
<line x1="631.2" y1="273.7" x2="631.2" y2="275.7" stroke="#2e2e2e" stroke-width="0.8"/>
<line x1="634.1" y1="273.7" x2="634.1" y2="275.7" stroke="#2e2e2e" stroke-width="0.8"/>
<line x1="637" y1="273.7" x2="637" y2="275.7" stroke="#2e2e2e" stroke-width="0.8"/>
<line x1="640" y1="273.7" x2="640" y2="275.7" stroke="#2e2e2e" stroke-width="0.8"/>
<line x1="642.9" y1="273.7" x2="642.9" y2="276.7" stroke="#2e2e2e" stroke-width="0.8"/>
<text x="642.9" y="281.3" text-anchor="middle" class="tk">8.40</text>
<line x1="645.8" y1="273.7" x2="645.8" y2="275.7" stroke="#2e2e2e" stroke-width="0.8"/>
<line x1="648.7" y1="273.7" x2="648.7" y2="275.7" stroke="#2e2e2e" stroke-width="0.8"/>
<line x1="651.7" y1="273.7" x2="651.7" y2="275.7" stroke="#2e2e2e" stroke-width="0.8"/>
<line x1="654.6" y1="273.7" x2="654.6" y2="275.7" stroke="#2e2e2e" stroke-width="0.8"/>
<line x1="657.5" y1="273.7" x2="657.5" y2="276.7" stroke="#2e2e2e" stroke-width="0.8"/>
<text x="657.5" y="281.3" text-anchor="middle" class="tk">8.60</text>
<line x1="660.4" y1="273.7" x2="660.4" y2="275.7" stroke="#2e2e2e" stroke-width="0.8"/>
<line x1="663.4" y1="273.7" x2="663.4" y2="275.7" stroke="#2e2e2e" stroke-width="0.8"/>
<line x1="666.3" y1="273.7" x2="666.3" y2="275.7" stroke="#2e2e2e" stroke-width="0.8"/>
<line x1="669.2" y1="273.7" x2="669.2" y2="275.7" stroke="#2e2e2e" stroke-width="0.8"/>
<line x1="672.2" y1="273.7" x2="672.2" y2="276.7" stroke="#2e2e2e" stroke-width="0.8"/>
<text x="672.2" y="281.3" text-anchor="middle" class="tk">8.80</text>
<line x1="675.1" y1="273.7" x2="675.1" y2="275.7" stroke="#2e2e2e" stroke-width="0.8"/>
<line x1="678" y1="273.7" x2="678" y2="275.7" stroke="#2e2e2e" stroke-width="0.8"/>
<line x1="680.9" y1="273.7" x2="680.9" y2="275.7" stroke="#2e2e2e" stroke-width="0.8"/>
<line x1="683.9" y1="273.7" x2="683.9" y2="275.7" stroke="#2e2e2e" stroke-width="0.8"/>
<line x1="686.8" y1="273.7" x2="686.8" y2="276.7" stroke="#2e2e2e" stroke-width="0.8"/>
<text x="686.8" y="281.3" text-anchor="middle" class="tk">9.00</text>
<line x1="689.7" y1="273.7" x2="689.7" y2="275.7" stroke="#2e2e2e" stroke-width="0.8"/>
<line x1="692.7" y1="273.7" x2="692.7" y2="275.7" stroke="#2e2e2e" stroke-width="0.8"/>
<line x1="695.6" y1="273.7" x2="695.6" y2="275.7" stroke="#2e2e2e" stroke-width="0.8"/>
<line x1="698.5" y1="273.7" x2="698.5" y2="275.7" stroke="#2e2e2e" stroke-width="0.8"/>
<line x1="701.4" y1="273.7" x2="701.4" y2="276.7" stroke="#2e2e2e" stroke-width="0.8"/>
<text x="701.4" y="281.3" text-anchor="middle" class="tk">9.20</text>
<path d="M28,273.7 V5.3 H701.4 V273.7 H28" fill="none" stroke="#2e2e2e" stroke-width="1.1"/>
<text x="364.5" y="287" text-anchor="middle" class="tk" font-size="5">Minutes</text>
<text transform="translate(9.6,143) rotate(-90)" class="tk" font-size="5">AU</text>
<text x="364.5" y="2.8" text-anchor="middle" font-family="Liberation Sans, sans-serif" font-size="2.6" fill="#666">Q5SO MHz 8vl</text>
<line x1="24.6" y1="311.4" x2="27.3" y2="311.4" stroke="#2e2e2e" stroke-width="0.8"/>
<text x="25.5" y="313.3" text-anchor="end" class="tk">0.014</text>
<line x1="25.9" y1="316.3" x2="27.3" y2="316.3" stroke="#2e2e2e" stroke-width="0.8"/>
<line x1="25.9" y1="321.3" x2="27.3" y2="321.3" stroke="#2e2e2e" stroke-width="0.8"/>
<line x1="25.9" y1="326.2" x2="27.3" y2="326.2" stroke="#2e2e2e" stroke-width="0.8"/>
<line x1="24.6" y1="331.1" x2="27.3" y2="331.1" stroke="#2e2e2e" stroke-width="0.8"/>
<text x="25.5" y="333" text-anchor="end" class="tk">0.012</text>
<line x1="25.9" y1="336.1" x2="27.3" y2="336.1" stroke="#2e2e2e" stroke-width="0.8"/>
<line x1="25.9" y1="341" x2="27.3" y2="341" stroke="#2e2e2e" stroke-width="0.8"/>
<line x1="25.9" y1="345.9" x2="27.3" y2="345.9" stroke="#2e2e2e" stroke-width="0.8"/>
<line x1="24.6" y1="350.9" x2="27.3" y2="350.9" stroke="#2e2e2e" stroke-width="0.8"/>
<text x="25.5" y="352.8" text-anchor="end" class="tk">0.010</text>
<line x1="25.9" y1="355.8" x2="27.3" y2="355.8" stroke="#2e2e2e" stroke-width="0.8"/>
<line x1="25.9" y1="360.7" x2="27.3" y2="360.7" stroke="#2e2e2e" stroke-width="0.8"/>
<line x1="25.9" y1="365.7" x2="27.3" y2="365.7" stroke="#2e2e2e" stroke-width="0.8"/>
<line x1="24.6" y1="370.6" x2="27.3" y2="370.6" stroke="#2e2e2e" stroke-width="0.8"/>
<text x="25.5" y="372.5" text-anchor="end" class="tk">0.008</text>
<line x1="25.9" y1="375.5" x2="27.3" y2="375.5" stroke="#2e2e2e" stroke-width="0.8"/>
<line x1="25.9" y1="380.5" x2="27.3" y2="380.5" stroke="#2e2e2e" stroke-width="0.8"/>
<line x1="25.9" y1="385.4" x2="27.3" y2="385.4" stroke="#2e2e2e" stroke-width="0.8"/>
<line x1="24.6" y1="390.3" x2="27.3" y2="390.3" stroke="#2e2e2e" stroke-width="0.8"/>
<text x="25.5" y="392.2" text-anchor="end" class="tk">0.006</text>
<line x1="25.9" y1="395.3" x2="27.3" y2="395.3" stroke="#2e2e2e" stroke-width="0.8"/>
<line x1="25.9" y1="400.2" x2="27.3" y2="400.2" stroke="#2e2e2e" stroke-width="0.8"/>
<line x1="25.9" y1="405.1" x2="27.3" y2="405.1" stroke="#2e2e2e" stroke-width="0.8"/>
<line x1="24.6" y1="410" x2="27.3" y2="410" stroke="#2e2e2e" stroke-width="0.8"/>
<text x="25.5" y="411.9" text-anchor="end" class="tk">0.004</text>
<line x1="25.9" y1="415" x2="27.3" y2="415" stroke="#2e2e2e" stroke-width="0.8"/>
<line x1="25.9" y1="419.9" x2="27.3" y2="419.9" stroke="#2e2e2e" stroke-width="0.8"/>
<line x1="25.9" y1="424.8" x2="27.3" y2="424.8" stroke="#2e2e2e" stroke-width="0.8"/>
<line x1="24.6" y1="429.8" x2="27.3" y2="429.8" stroke="#2e2e2e" stroke-width="0.8"/>
<text x="25.5" y="431.7" text-anchor="end" class="tk">0.002</text>
<line x1="25.9" y1="434.7" x2="27.3" y2="434.7" stroke="#2e2e2e" stroke-width="0.8"/>
<line x1="25.9" y1="439.6" x2="27.3" y2="439.6" stroke="#2e2e2e" stroke-width="0.8"/>
<line x1="25.9" y1="444.6" x2="27.3" y2="444.6" stroke="#2e2e2e" stroke-width="0.8"/>
<line x1="24.6" y1="449.5" x2="27.3" y2="449.5" stroke="#2e2e2e" stroke-width="0.8"/>
<text x="25.5" y="451.4" text-anchor="end" class="tk">0.000</text>
<line x1="25.9" y1="454.4" x2="27.3" y2="454.4" stroke="#2e2e2e" stroke-width="0.8"/>
<line x1="25.9" y1="459.4" x2="27.3" y2="459.4" stroke="#2e2e2e" stroke-width="0.8"/>
<line x1="25.9" y1="464.3" x2="27.3" y2="464.3" stroke="#2e2e2e" stroke-width="0.8"/>
<line x1="24.6" y1="469.2" x2="27.3" y2="469.2" stroke="#2e2e2e" stroke-width="0.8"/>
<text x="25.5" y="471.1" text-anchor="end" class="tk">-0.002</text>
<line x1="25.9" y1="474.2" x2="27.3" y2="474.2" stroke="#2e2e2e" stroke-width="0.8"/>
<line x1="25.9" y1="479.1" x2="27.3" y2="479.1" stroke="#2e2e2e" stroke-width="0.8"/>
<line x1="25.9" y1="484" x2="27.3" y2="484" stroke="#2e2e2e" stroke-width="0.8"/>
<line x1="24.6" y1="489" x2="27.3" y2="489" stroke="#2e2e2e" stroke-width="0.8"/>
<text x="25.5" y="490.9" text-anchor="end" class="tk">-0.004</text>
<line x1="25.9" y1="493.9" x2="27.3" y2="493.9" stroke="#2e2e2e" stroke-width="0.8"/>
<line x1="25.9" y1="498.8" x2="27.3" y2="498.8" stroke="#2e2e2e" stroke-width="0.8"/>
<line x1="25.9" y1="503.8" x2="27.3" y2="503.8" stroke="#2e2e2e" stroke-width="0.8"/>
<line x1="24.6" y1="508.7" x2="27.3" y2="508.7" stroke="#2e2e2e" stroke-width="0.8"/>
<text x="25.5" y="510.6" text-anchor="end" class="tk">-0.006</text>
<line x1="25.9" y1="513.6" x2="27.3" y2="513.6" stroke="#2e2e2e" stroke-width="0.8"/>
<line x1="25.9" y1="518.6" x2="27.3" y2="518.6" stroke="#2e2e2e" stroke-width="0.8"/>
<line x1="25.9" y1="523.5" x2="27.3" y2="523.5" stroke="#2e2e2e" stroke-width="0.8"/>
<line x1="24.6" y1="528.4" x2="27.3" y2="528.4" stroke="#2e2e2e" stroke-width="0.8"/>
<text x="25.5" y="530.3" text-anchor="end" class="tk">-0.008</text>
<line x1="25.9" y1="533.4" x2="27.3" y2="533.4" stroke="#2e2e2e" stroke-width="0.8"/>
<line x1="25.9" y1="538.3" x2="27.3" y2="538.3" stroke="#2e2e2e" stroke-width="0.8"/>
<line x1="25.9" y1="543.2" x2="27.3" y2="543.2" stroke="#2e2e2e" stroke-width="0.8"/>
<line x1="24.6" y1="548.2" x2="27.3" y2="548.2" stroke="#2e2e2e" stroke-width="0.8"/>
<text x="25.5" y="550.1" text-anchor="end" class="tk">-0.010</text>
<line x1="27.3" y1="548.2" x2="27.3" y2="551.2" stroke="#2e2e2e" stroke-width="0.8"/>
<text x="27.3" y="555.8" text-anchor="middle" class="tk">0.00</text>
<line x1="30.2" y1="548.2" x2="30.2" y2="550.2" stroke="#2e2e2e" stroke-width="0.8"/>
<line x1="33.2" y1="548.2" x2="33.2" y2="550.2" stroke="#2e2e2e" stroke-width="0.8"/>
<line x1="36.1" y1="548.2" x2="36.1" y2="550.2" stroke="#2e2e2e" stroke-width="0.8"/>
<line x1="39" y1="548.2" x2="39" y2="550.2" stroke="#2e2e2e" stroke-width="0.8"/>
<line x1="41.9" y1="548.2" x2="41.9" y2="551.2" stroke="#2e2e2e" stroke-width="0.8"/>
<text x="41.9" y="555.8" text-anchor="middle" class="tk">0.20</text>
<line x1="44.9" y1="548.2" x2="44.9" y2="550.2" stroke="#2e2e2e" stroke-width="0.8"/>
<line x1="47.8" y1="548.2" x2="47.8" y2="550.2" stroke="#2e2e2e" stroke-width="0.8"/>
<line x1="50.7" y1="548.2" x2="50.7" y2="550.2" stroke="#2e2e2e" stroke-width="0.8"/>
<line x1="53.6" y1="548.2" x2="53.6" y2="550.2" stroke="#2e2e2e" stroke-width="0.8"/>
<line x1="56.6" y1="548.2" x2="56.6" y2="551.2" stroke="#2e2e2e" stroke-width="0.8"/>
<text x="56.6" y="555.8" text-anchor="middle" class="tk">0.40</text>
<line x1="59.5" y1="548.2" x2="59.5" y2="550.2" stroke="#2e2e2e" stroke-width="0.8"/>
<line x1="62.4" y1="548.2" x2="62.4" y2="550.2" stroke="#2e2e2e" stroke-width="0.8"/>
<line x1="65.3" y1="548.2" x2="65.3" y2="550.2" stroke="#2e2e2e" stroke-width="0.8"/>
<line x1="68.3" y1="548.2" x2="68.3" y2="550.2" stroke="#2e2e2e" stroke-width="0.8"/>
<line x1="71.2" y1="548.2" x2="71.2" y2="551.2" stroke="#2e2e2e" stroke-width="0.8"/>
<text x="71.2" y="555.8" text-anchor="middle" class="tk">0.60</text>
<line x1="74.1" y1="548.2" x2="74.1" y2="550.2" stroke="#2e2e2e" stroke-width="0.8"/>
<line x1="77" y1="548.2" x2="77" y2="550.2" stroke="#2e2e2e" stroke-width="0.8"/>
<line x1="80" y1="548.2" x2="80" y2="550.2" stroke="#2e2e2e" stroke-width="0.8"/>
<line x1="82.9" y1="548.2" x2="82.9" y2="550.2" stroke="#2e2e2e" stroke-width="0.8"/>
<line x1="85.8" y1="548.2" x2="85.8" y2="551.2" stroke="#2e2e2e" stroke-width="0.8"/>
<text x="85.8" y="555.8" text-anchor="middle" class="tk">0.80</text>
<line x1="88.8" y1="548.2" x2="88.8" y2="550.2" stroke="#2e2e2e" stroke-width="0.8"/>
<line x1="91.7" y1="548.2" x2="91.7" y2="550.2" stroke="#2e2e2e" stroke-width="0.8"/>
<line x1="94.6" y1="548.2" x2="94.6" y2="550.2" stroke="#2e2e2e" stroke-width="0.8"/>
<line x1="97.5" y1="548.2" x2="97.5" y2="550.2" stroke="#2e2e2e" stroke-width="0.8"/>
<line x1="100.5" y1="548.2" x2="100.5" y2="551.2" stroke="#2e2e2e" stroke-width="0.8"/>
<text x="100.5" y="555.8" text-anchor="middle" class="tk">1.00</text>
<line x1="103.4" y1="548.2" x2="103.4" y2="550.2" stroke="#2e2e2e" stroke-width="0.8"/>
<line x1="106.3" y1="548.2" x2="106.3" y2="550.2" stroke="#2e2e2e" stroke-width="0.8"/>
<line x1="109.2" y1="548.2" x2="109.2" y2="550.2" stroke="#2e2e2e" stroke-width="0.8"/>
<line x1="112.2" y1="548.2" x2="112.2" y2="550.2" stroke="#2e2e2e" stroke-width="0.8"/>
<line x1="115.1" y1="548.2" x2="115.1" y2="551.2" stroke="#2e2e2e" stroke-width="0.8"/>
<text x="115.1" y="555.8" text-anchor="middle" class="tk">1.20</text>
<line x1="118" y1="548.2" x2="118" y2="550.2" stroke="#2e2e2e" stroke-width="0.8"/>
<line x1="120.9" y1="548.2" x2="120.9" y2="550.2" stroke="#2e2e2e" stroke-width="0.8"/>
<line x1="123.9" y1="548.2" x2="123.9" y2="550.2" stroke="#2e2e2e" stroke-width="0.8"/>
<line x1="126.8" y1="548.2" x2="126.8" y2="550.2" stroke="#2e2e2e" stroke-width="0.8"/>
<line x1="129.7" y1="548.2" x2="129.7" y2="551.2" stroke="#2e2e2e" stroke-width="0.8"/>
<text x="129.7" y="555.8" text-anchor="middle" class="tk">1.40</text>
<line x1="132.7" y1="548.2" x2="132.7" y2="550.2" stroke="#2e2e2e" stroke-width="0.8"/>
<line x1="135.6" y1="548.2" x2="135.6" y2="550.2" stroke="#2e2e2e" stroke-width="0.8"/>
<line x1="138.5" y1="548.2" x2="138.5" y2="550.2" stroke="#2e2e2e" stroke-width="0.8"/>
<line x1="141.4" y1="548.2" x2="141.4" y2="550.2" stroke="#2e2e2e" stroke-width="0.8"/>
<line x1="144.4" y1="548.2" x2="144.4" y2="551.2" stroke="#2e2e2e" stroke-width="0.8"/>
<text x="144.4" y="555.8" text-anchor="middle" class="tk">1.60</text>
<line x1="147.3" y1="548.2" x2="147.3" y2="550.2" stroke="#2e2e2e" stroke-width="0.8"/>
<line x1="150.2" y1="548.2" x2="150.2" y2="550.2" stroke="#2e2e2e" stroke-width="0.8"/>
<line x1="153.1" y1="548.2" x2="153.1" y2="550.2" stroke="#2e2e2e" stroke-width="0.8"/>
<line x1="156.1" y1="548.2" x2="156.1" y2="550.2" stroke="#2e2e2e" stroke-width="0.8"/>
<line x1="159" y1="548.2" x2="159" y2="551.2" stroke="#2e2e2e" stroke-width="0.8"/>
<text x="159" y="555.8" text-anchor="middle" class="tk">1.80</text>
<line x1="161.9" y1="548.2" x2="161.9" y2="550.2" stroke="#2e2e2e" stroke-width="0.8"/>
<line x1="164.8" y1="548.2" x2="164.8" y2="550.2" stroke="#2e2e2e" stroke-width="0.8"/>
<line x1="167.8" y1="548.2" x2="167.8" y2="550.2" stroke="#2e2e2e" stroke-width="0.8"/>
<line x1="170.7" y1="548.2" x2="170.7" y2="550.2" stroke="#2e2e2e" stroke-width="0.8"/>
<line x1="173.6" y1="548.2" x2="173.6" y2="551.2" stroke="#2e2e2e" stroke-width="0.8"/>
<text x="173.6" y="555.8" text-anchor="middle" class="tk">2.00</text>
<line x1="176.5" y1="548.2" x2="176.5" y2="550.2" stroke="#2e2e2e" stroke-width="0.8"/>
<line x1="179.5" y1="548.2" x2="179.5" y2="550.2" stroke="#2e2e2e" stroke-width="0.8"/>
<line x1="182.4" y1="548.2" x2="182.4" y2="550.2" stroke="#2e2e2e" stroke-width="0.8"/>
<line x1="185.3" y1="548.2" x2="185.3" y2="550.2" stroke="#2e2e2e" stroke-width="0.8"/>
<line x1="188.3" y1="548.2" x2="188.3" y2="551.2" stroke="#2e2e2e" stroke-width="0.8"/>
<text x="188.3" y="555.8" text-anchor="middle" class="tk">2.20</text>
<line x1="191.2" y1="548.2" x2="191.2" y2="550.2" stroke="#2e2e2e" stroke-width="0.8"/>
<line x1="194.1" y1="548.2" x2="194.1" y2="550.2" stroke="#2e2e2e" stroke-width="0.8"/>
<line x1="197" y1="548.2" x2="197" y2="550.2" stroke="#2e2e2e" stroke-width="0.8"/>
<line x1="200" y1="548.2" x2="200" y2="550.2" stroke="#2e2e2e" stroke-width="0.8"/>
<line x1="202.9" y1="548.2" x2="202.9" y2="551.2" stroke="#2e2e2e" stroke-width="0.8"/>
<text x="202.9" y="555.8" text-anchor="middle" class="tk">2.40</text>
<line x1="205.8" y1="548.2" x2="205.8" y2="550.2" stroke="#2e2e2e" stroke-width="0.8"/>
<line x1="208.7" y1="548.2" x2="208.7" y2="550.2" stroke="#2e2e2e" stroke-width="0.8"/>
<line x1="211.7" y1="548.2" x2="211.7" y2="550.2" stroke="#2e2e2e" stroke-width="0.8"/>
<line x1="214.6" y1="548.2" x2="214.6" y2="550.2" stroke="#2e2e2e" stroke-width="0.8"/>
<line x1="217.5" y1="548.2" x2="217.5" y2="551.2" stroke="#2e2e2e" stroke-width="0.8"/>
<text x="217.5" y="555.8" text-anchor="middle" class="tk">2.60</text>
<line x1="220.4" y1="548.2" x2="220.4" y2="550.2" stroke="#2e2e2e" stroke-width="0.8"/>
<line x1="223.4" y1="548.2" x2="223.4" y2="550.2" stroke="#2e2e2e" stroke-width="0.8"/>
<line x1="226.3" y1="548.2" x2="226.3" y2="550.2" stroke="#2e2e2e" stroke-width="0.8"/>
<line x1="229.2" y1="548.2" x2="229.2" y2="550.2" stroke="#2e2e2e" stroke-width="0.8"/>
<line x1="232.1" y1="548.2" x2="232.1" y2="551.2" stroke="#2e2e2e" stroke-width="0.8"/>
<text x="232.1" y="555.8" text-anchor="middle" class="tk">2.80</text>
<line x1="235.1" y1="548.2" x2="235.1" y2="550.2" stroke="#2e2e2e" stroke-width="0.8"/>
<line x1="238" y1="548.2" x2="238" y2="550.2" stroke="#2e2e2e" stroke-width="0.8"/>
<line x1="240.9" y1="548.2" x2="240.9" y2="550.2" stroke="#2e2e2e" stroke-width="0.8"/>
<line x1="243.9" y1="548.2" x2="243.9" y2="550.2" stroke="#2e2e2e" stroke-width="0.8"/>
<line x1="246.8" y1="548.2" x2="246.8" y2="551.2" stroke="#2e2e2e" stroke-width="0.8"/>
<text x="246.8" y="555.8" text-anchor="middle" class="tk">3.00</text>
<line x1="249.7" y1="548.2" x2="249.7" y2="550.2" stroke="#2e2e2e" stroke-width="0.8"/>
<line x1="252.6" y1="548.2" x2="252.6" y2="550.2" stroke="#2e2e2e" stroke-width="0.8"/>
<line x1="255.6" y1="548.2" x2="255.6" y2="550.2" stroke="#2e2e2e" stroke-width="0.8"/>
<line x1="258.5" y1="548.2" x2="258.5" y2="550.2" stroke="#2e2e2e" stroke-width="0.8"/>
<line x1="261.4" y1="548.2" x2="261.4" y2="551.2" stroke="#2e2e2e" stroke-width="0.8"/>
<text x="261.4" y="555.8" text-anchor="middle" class="tk">3.20</text>
<line x1="264.3" y1="548.2" x2="264.3" y2="550.2" stroke="#2e2e2e" stroke-width="0.8"/>
<line x1="267.3" y1="548.2" x2="267.3" y2="550.2" stroke="#2e2e2e" stroke-width="0.8"/>
<line x1="270.2" y1="548.2" x2="270.2" y2="550.2" stroke="#2e2e2e" stroke-width="0.8"/>
<line x1="273.1" y1="548.2" x2="273.1" y2="550.2" stroke="#2e2e2e" stroke-width="0.8"/>
<line x1="276" y1="548.2" x2="276" y2="551.2" stroke="#2e2e2e" stroke-width="0.8"/>
<text x="276" y="555.8" text-anchor="middle" class="tk">3.40</text>
<line x1="279" y1="548.2" x2="279" y2="550.2" stroke="#2e2e2e" stroke-width="0.8"/>
<line x1="281.9" y1="548.2" x2="281.9" y2="550.2" stroke="#2e2e2e" stroke-width="0.8"/>
<line x1="284.8" y1="548.2" x2="284.8" y2="550.2" stroke="#2e2e2e" stroke-width="0.8"/>
<line x1="287.7" y1="548.2" x2="287.7" y2="550.2" stroke="#2e2e2e" stroke-width="0.8"/>
<line x1="290.7" y1="548.2" x2="290.7" y2="551.2" stroke="#2e2e2e" stroke-width="0.8"/>
<text x="290.7" y="555.8" text-anchor="middle" class="tk">3.60</text>
<line x1="293.6" y1="548.2" x2="293.6" y2="550.2" stroke="#2e2e2e" stroke-width="0.8"/>
<line x1="296.5" y1="548.2" x2="296.5" y2="550.2" stroke="#2e2e2e" stroke-width="0.8"/>
<line x1="299.5" y1="548.2" x2="299.5" y2="550.2" stroke="#2e2e2e" stroke-width="0.8"/>
<line x1="302.4" y1="548.2" x2="302.4" y2="550.2" stroke="#2e2e2e" stroke-width="0.8"/>
<line x1="305.3" y1="548.2" x2="305.3" y2="551.2" stroke="#2e2e2e" stroke-width="0.8"/>
<text x="305.3" y="555.8" text-anchor="middle" class="tk">3.80</text>
<line x1="308.2" y1="548.2" x2="308.2" y2="550.2" stroke="#2e2e2e" stroke-width="0.8"/>
<line x1="311.2" y1="548.2" x2="311.2" y2="550.2" stroke="#2e2e2e" stroke-width="0.8"/>
<line x1="314.1" y1="548.2" x2="314.1" y2="550.2" stroke="#2e2e2e" stroke-width="0.8"/>
<line x1="317" y1="548.2" x2="317" y2="550.2" stroke="#2e2e2e" stroke-width="0.8"/>
<line x1="319.9" y1="548.2" x2="319.9" y2="551.2" stroke="#2e2e2e" stroke-width="0.8"/>
<text x="319.9" y="555.8" text-anchor="middle" class="tk">4.00</text>
<line x1="322.9" y1="548.2" x2="322.9" y2="550.2" stroke="#2e2e2e" stroke-width="0.8"/>
<line x1="325.8" y1="548.2" x2="325.8" y2="550.2" stroke="#2e2e2e" stroke-width="0.8"/>
<line x1="328.7" y1="548.2" x2="328.7" y2="550.2" stroke="#2e2e2e" stroke-width="0.8"/>
<line x1="331.6" y1="548.2" x2="331.6" y2="550.2" stroke="#2e2e2e" stroke-width="0.8"/>
<line x1="334.6" y1="548.2" x2="334.6" y2="551.2" stroke="#2e2e2e" stroke-width="0.8"/>
<text x="334.6" y="555.8" text-anchor="middle" class="tk">4.20</text>
<line x1="337.5" y1="548.2" x2="337.5" y2="550.2" stroke="#2e2e2e" stroke-width="0.8"/>
<line x1="340.4" y1="548.2" x2="340.4" y2="550.2" stroke="#2e2e2e" stroke-width="0.8"/>
<line x1="343.4" y1="548.2" x2="343.4" y2="550.2" stroke="#2e2e2e" stroke-width="0.8"/>
<line x1="346.3" y1="548.2" x2="346.3" y2="550.2" stroke="#2e2e2e" stroke-width="0.8"/>
<line x1="349.2" y1="548.2" x2="349.2" y2="551.2" stroke="#2e2e2e" stroke-width="0.8"/>
<text x="349.2" y="555.8" text-anchor="middle" class="tk">4.40</text>
<line x1="352.1" y1="548.2" x2="352.1" y2="550.2" stroke="#2e2e2e" stroke-width="0.8"/>
<line x1="355.1" y1="548.2" x2="355.1" y2="550.2" stroke="#2e2e2e" stroke-width="0.8"/>
<line x1="358" y1="548.2" x2="358" y2="550.2" stroke="#2e2e2e" stroke-width="0.8"/>
<line x1="360.9" y1="548.2" x2="360.9" y2="550.2" stroke="#2e2e2e" stroke-width="0.8"/>
<line x1="363.8" y1="548.2" x2="363.8" y2="551.2" stroke="#2e2e2e" stroke-width="0.8"/>
<text x="363.8" y="555.8" text-anchor="middle" class="tk">4.60</text>
<line x1="366.8" y1="548.2" x2="366.8" y2="550.2" stroke="#2e2e2e" stroke-width="0.8"/>
<line x1="369.7" y1="548.2" x2="369.7" y2="550.2" stroke="#2e2e2e" stroke-width="0.8"/>
<line x1="372.6" y1="548.2" x2="372.6" y2="550.2" stroke="#2e2e2e" stroke-width="0.8"/>
<line x1="375.5" y1="548.2" x2="375.5" y2="550.2" stroke="#2e2e2e" stroke-width="0.8"/>
<line x1="378.5" y1="548.2" x2="378.5" y2="551.2" stroke="#2e2e2e" stroke-width="0.8"/>
<text x="378.5" y="555.8" text-anchor="middle" class="tk">4.80</text>
<line x1="381.4" y1="548.2" x2="381.4" y2="550.2" stroke="#2e2e2e" stroke-width="0.8"/>
<line x1="384.3" y1="548.2" x2="384.3" y2="550.2" stroke="#2e2e2e" stroke-width="0.8"/>
<line x1="387.2" y1="548.2" x2="387.2" y2="550.2" stroke="#2e2e2e" stroke-width="0.8"/>
<line x1="390.2" y1="548.2" x2="390.2" y2="550.2" stroke="#2e2e2e" stroke-width="0.8"/>
<line x1="393.1" y1="548.2" x2="393.1" y2="551.2" stroke="#2e2e2e" stroke-width="0.8"/>
<text x="393.1" y="555.8" text-anchor="middle" class="tk">5.00</text>
<line x1="396" y1="548.2" x2="396" y2="550.2" stroke="#2e2e2e" stroke-width="0.8"/>
<line x1="399" y1="548.2" x2="399" y2="550.2" stroke="#2e2e2e" stroke-width="0.8"/>
<line x1="401.9" y1="548.2" x2="401.9" y2="550.2" stroke="#2e2e2e" stroke-width="0.8"/>
<line x1="404.8" y1="548.2" x2="404.8" y2="550.2" stroke="#2e2e2e" stroke-width="0.8"/>
<line x1="407.7" y1="548.2" x2="407.7" y2="551.2" stroke="#2e2e2e" stroke-width="0.8"/>
<text x="407.7" y="555.8" text-anchor="middle" class="tk">5.20</text>
<line x1="410.7" y1="548.2" x2="410.7" y2="550.2" stroke="#2e2e2e" stroke-width="0.8"/>
<line x1="413.6" y1="548.2" x2="413.6" y2="550.2" stroke="#2e2e2e" stroke-width="0.8"/>
<line x1="416.5" y1="548.2" x2="416.5" y2="550.2" stroke="#2e2e2e" stroke-width="0.8"/>
<line x1="419.4" y1="548.2" x2="419.4" y2="550.2" stroke="#2e2e2e" stroke-width="0.8"/>
<line x1="422.4" y1="548.2" x2="422.4" y2="551.2" stroke="#2e2e2e" stroke-width="0.8"/>
<text x="422.4" y="555.8" text-anchor="middle" class="tk">5.40</text>
<line x1="425.3" y1="548.2" x2="425.3" y2="550.2" stroke="#2e2e2e" stroke-width="0.8"/>
<line x1="428.2" y1="548.2" x2="428.2" y2="550.2" stroke="#2e2e2e" stroke-width="0.8"/>
<line x1="431.1" y1="548.2" x2="431.1" y2="550.2" stroke="#2e2e2e" stroke-width="0.8"/>
<line x1="434.1" y1="548.2" x2="434.1" y2="550.2" stroke="#2e2e2e" stroke-width="0.8"/>
<line x1="437" y1="548.2" x2="437" y2="551.2" stroke="#2e2e2e" stroke-width="0.8"/>
<text x="437" y="555.8" text-anchor="middle" class="tk">5.60</text>
<line x1="439.9" y1="548.2" x2="439.9" y2="550.2" stroke="#2e2e2e" stroke-width="0.8"/>
<line x1="442.8" y1="548.2" x2="442.8" y2="550.2" stroke="#2e2e2e" stroke-width="0.8"/>
<line x1="445.8" y1="548.2" x2="445.8" y2="550.2" stroke="#2e2e2e" stroke-width="0.8"/>
<line x1="448.7" y1="548.2" x2="448.7" y2="550.2" stroke="#2e2e2e" stroke-width="0.8"/>
<line x1="451.6" y1="548.2" x2="451.6" y2="551.2" stroke="#2e2e2e" stroke-width="0.8"/>
<text x="451.6" y="555.8" text-anchor="middle" class="tk">5.80</text>
<line x1="454.6" y1="548.2" x2="454.6" y2="550.2" stroke="#2e2e2e" stroke-width="0.8"/>
<line x1="457.5" y1="548.2" x2="457.5" y2="550.2" stroke="#2e2e2e" stroke-width="0.8"/>
<line x1="460.4" y1="548.2" x2="460.4" y2="550.2" stroke="#2e2e2e" stroke-width="0.8"/>
<line x1="463.3" y1="548.2" x2="463.3" y2="550.2" stroke="#2e2e2e" stroke-width="0.8"/>
<line x1="466.3" y1="548.2" x2="466.3" y2="551.2" stroke="#2e2e2e" stroke-width="0.8"/>
<text x="466.3" y="555.8" text-anchor="middle" class="tk">6.00</text>
<line x1="469.2" y1="548.2" x2="469.2" y2="550.2" stroke="#2e2e2e" stroke-width="0.8"/>
<line x1="472.1" y1="548.2" x2="472.1" y2="550.2" stroke="#2e2e2e" stroke-width="0.8"/>
<line x1="475" y1="548.2" x2="475" y2="550.2" stroke="#2e2e2e" stroke-width="0.8"/>
<line x1="478" y1="548.2" x2="478" y2="550.2" stroke="#2e2e2e" stroke-width="0.8"/>
<line x1="480.9" y1="548.2" x2="480.9" y2="551.2" stroke="#2e2e2e" stroke-width="0.8"/>
<text x="480.9" y="555.8" text-anchor="middle" class="tk">6.20</text>
<line x1="483.8" y1="548.2" x2="483.8" y2="550.2" stroke="#2e2e2e" stroke-width="0.8"/>
<line x1="486.7" y1="548.2" x2="486.7" y2="550.2" stroke="#2e2e2e" stroke-width="0.8"/>
<line x1="489.7" y1="548.2" x2="489.7" y2="550.2" stroke="#2e2e2e" stroke-width="0.8"/>
<line x1="492.6" y1="548.2" x2="492.6" y2="550.2" stroke="#2e2e2e" stroke-width="0.8"/>
<line x1="495.5" y1="548.2" x2="495.5" y2="551.2" stroke="#2e2e2e" stroke-width="0.8"/>
<text x="495.5" y="555.8" text-anchor="middle" class="tk">6.40</text>
<line x1="498.5" y1="548.2" x2="498.5" y2="550.2" stroke="#2e2e2e" stroke-width="0.8"/>
<line x1="501.4" y1="548.2" x2="501.4" y2="550.2" stroke="#2e2e2e" stroke-width="0.8"/>
<line x1="504.3" y1="548.2" x2="504.3" y2="550.2" stroke="#2e2e2e" stroke-width="0.8"/>
<line x1="507.2" y1="548.2" x2="507.2" y2="550.2" stroke="#2e2e2e" stroke-width="0.8"/>
<line x1="510.2" y1="548.2" x2="510.2" y2="551.2" stroke="#2e2e2e" stroke-width="0.8"/>
<text x="510.2" y="555.8" text-anchor="middle" class="tk">6.60</text>
<line x1="513.1" y1="548.2" x2="513.1" y2="550.2" stroke="#2e2e2e" stroke-width="0.8"/>
<line x1="516" y1="548.2" x2="516" y2="550.2" stroke="#2e2e2e" stroke-width="0.8"/>
<line x1="518.9" y1="548.2" x2="518.9" y2="550.2" stroke="#2e2e2e" stroke-width="0.8"/>
<line x1="521.9" y1="548.2" x2="521.9" y2="550.2" stroke="#2e2e2e" stroke-width="0.8"/>
<line x1="524.8" y1="548.2" x2="524.8" y2="551.2" stroke="#2e2e2e" stroke-width="0.8"/>
<text x="524.8" y="555.8" text-anchor="middle" class="tk">6.80</text>
<line x1="527.7" y1="548.2" x2="527.7" y2="550.2" stroke="#2e2e2e" stroke-width="0.8"/>
<line x1="530.6" y1="548.2" x2="530.6" y2="550.2" stroke="#2e2e2e" stroke-width="0.8"/>
<line x1="533.6" y1="548.2" x2="533.6" y2="550.2" stroke="#2e2e2e" stroke-width="0.8"/>
<line x1="536.5" y1="548.2" x2="536.5" y2="550.2" stroke="#2e2e2e" stroke-width="0.8"/>
<line x1="539.4" y1="548.2" x2="539.4" y2="551.2" stroke="#2e2e2e" stroke-width="0.8"/>
<text x="539.4" y="555.8" text-anchor="middle" class="tk">7.00</text>
<line x1="542.3" y1="548.2" x2="542.3" y2="550.2" stroke="#2e2e2e" stroke-width="0.8"/>
<line x1="545.3" y1="548.2" x2="545.3" y2="550.2" stroke="#2e2e2e" stroke-width="0.8"/>
<line x1="548.2" y1="548.2" x2="548.2" y2="550.2" stroke="#2e2e2e" stroke-width="0.8"/>
<line x1="551.1" y1="548.2" x2="551.1" y2="550.2" stroke="#2e2e2e" stroke-width="0.8"/>
<line x1="554.1" y1="548.2" x2="554.1" y2="551.2" stroke="#2e2e2e" stroke-width="0.8"/>
<text x="554.1" y="555.8" text-anchor="middle" class="tk">7.20</text>
<line x1="557" y1="548.2" x2="557" y2="550.2" stroke="#2e2e2e" stroke-width="0.8"/>
<line x1="559.9" y1="548.2" x2="559.9" y2="550.2" stroke="#2e2e2e" stroke-width="0.8"/>
<line x1="562.8" y1="548.2" x2="562.8" y2="550.2" stroke="#2e2e2e" stroke-width="0.8"/>
<line x1="565.8" y1="548.2" x2="565.8" y2="550.2" stroke="#2e2e2e" stroke-width="0.8"/>
<line x1="568.7" y1="548.2" x2="568.7" y2="551.2" stroke="#2e2e2e" stroke-width="0.8"/>
<text x="568.7" y="555.8" text-anchor="middle" class="tk">7.40</text>
<line x1="571.6" y1="548.2" x2="571.6" y2="550.2" stroke="#2e2e2e" stroke-width="0.8"/>
<line x1="574.5" y1="548.2" x2="574.5" y2="550.2" stroke="#2e2e2e" stroke-width="0.8"/>
<line x1="577.5" y1="548.2" x2="577.5" y2="550.2" stroke="#2e2e2e" stroke-width="0.8"/>
<line x1="580.4" y1="548.2" x2="580.4" y2="550.2" stroke="#2e2e2e" stroke-width="0.8"/>
<line x1="583.3" y1="548.2" x2="583.3" y2="551.2" stroke="#2e2e2e" stroke-width="0.8"/>
<text x="583.3" y="555.8" text-anchor="middle" class="tk">7.60</text>
<line x1="586.2" y1="548.2" x2="586.2" y2="550.2" stroke="#2e2e2e" stroke-width="0.8"/>
<line x1="589.2" y1="548.2" x2="589.2" y2="550.2" stroke="#2e2e2e" stroke-width="0.8"/>
<line x1="592.1" y1="548.2" x2="592.1" y2="550.2" stroke="#2e2e2e" stroke-width="0.8"/>
<line x1="595" y1="548.2" x2="595" y2="550.2" stroke="#2e2e2e" stroke-width="0.8"/>
<line x1="597.9" y1="548.2" x2="597.9" y2="551.2" stroke="#2e2e2e" stroke-width="0.8"/>
<text x="597.9" y="555.8" text-anchor="middle" class="tk">7.80</text>
<line x1="600.9" y1="548.2" x2="600.9" y2="550.2" stroke="#2e2e2e" stroke-width="0.8"/>
<line x1="603.8" y1="548.2" x2="603.8" y2="550.2" stroke="#2e2e2e" stroke-width="0.8"/>
<line x1="606.7" y1="548.2" x2="606.7" y2="550.2" stroke="#2e2e2e" stroke-width="0.8"/>
<line x1="609.7" y1="548.2" x2="609.7" y2="550.2" stroke="#2e2e2e" stroke-width="0.8"/>
<line x1="612.6" y1="548.2" x2="612.6" y2="551.2" stroke="#2e2e2e" stroke-width="0.8"/>
<text x="612.6" y="555.8" text-anchor="middle" class="tk">8.00</text>
<line x1="615.5" y1="548.2" x2="615.5" y2="550.2" stroke="#2e2e2e" stroke-width="0.8"/>
<line x1="618.4" y1="548.2" x2="618.4" y2="550.2" stroke="#2e2e2e" stroke-width="0.8"/>
<line x1="621.4" y1="548.2" x2="621.4" y2="550.2" stroke="#2e2e2e" stroke-width="0.8"/>
<line x1="624.3" y1="548.2" x2="624.3" y2="550.2" stroke="#2e2e2e" stroke-width="0.8"/>
<line x1="627.2" y1="548.2" x2="627.2" y2="551.2" stroke="#2e2e2e" stroke-width="0.8"/>
<text x="627.2" y="555.8" text-anchor="middle" class="tk">8.20</text>
<line x1="630.1" y1="548.2" x2="630.1" y2="550.2" stroke="#2e2e2e" stroke-width="0.8"/>
<line x1="633.1" y1="548.2" x2="633.1" y2="550.2" stroke="#2e2e2e" stroke-width="0.8"/>
<line x1="636" y1="548.2" x2="636" y2="550.2" stroke="#2e2e2e" stroke-width="0.8"/>
<line x1="638.9" y1="548.2" x2="638.9" y2="550.2" stroke="#2e2e2e" stroke-width="0.8"/>
<line x1="641.8" y1="548.2" x2="641.8" y2="551.2" stroke="#2e2e2e" stroke-width="0.8"/>
<text x="641.8" y="555.8" text-anchor="middle" class="tk">8.40</text>
<line x1="644.8" y1="548.2" x2="644.8" y2="550.2" stroke="#2e2e2e" stroke-width="0.8"/>
<line x1="647.7" y1="548.2" x2="647.7" y2="550.2" stroke="#2e2e2e" stroke-width="0.8"/>
<line x1="650.6" y1="548.2" x2="650.6" y2="550.2" stroke="#2e2e2e" stroke-width="0.8"/>
<line x1="653.5" y1="548.2" x2="653.5" y2="550.2" stroke="#2e2e2e" stroke-width="0.8"/>
<line x1="656.5" y1="548.2" x2="656.5" y2="551.2" stroke="#2e2e2e" stroke-width="0.8"/>
<text x="656.5" y="555.8" text-anchor="middle" class="tk">8.60</text>
<line x1="659.4" y1="548.2" x2="659.4" y2="550.2" stroke="#2e2e2e" stroke-width="0.8"/>
<line x1="662.3" y1="548.2" x2="662.3" y2="550.2" stroke="#2e2e2e" stroke-width="0.8"/>
<line x1="665.3" y1="548.2" x2="665.3" y2="550.2" stroke="#2e2e2e" stroke-width="0.8"/>
<line x1="668.2" y1="548.2" x2="668.2" y2="550.2" stroke="#2e2e2e" stroke-width="0.8"/>
<line x1="671.1" y1="548.2" x2="671.1" y2="551.2" stroke="#2e2e2e" stroke-width="0.8"/>
<text x="671.1" y="555.8" text-anchor="middle" class="tk">8.80</text>
<line x1="674" y1="548.2" x2="674" y2="550.2" stroke="#2e2e2e" stroke-width="0.8"/>
<line x1="677" y1="548.2" x2="677" y2="550.2" stroke="#2e2e2e" stroke-width="0.8"/>
<line x1="679.9" y1="548.2" x2="679.9" y2="550.2" stroke="#2e2e2e" stroke-width="0.8"/>
<line x1="682.8" y1="548.2" x2="682.8" y2="550.2" stroke="#2e2e2e" stroke-width="0.8"/>
<line x1="685.7" y1="548.2" x2="685.7" y2="551.2" stroke="#2e2e2e" stroke-width="0.8"/>
<text x="685.7" y="555.8" text-anchor="middle" class="tk">9.00</text>
<line x1="688.7" y1="548.2" x2="688.7" y2="550.2" stroke="#2e2e2e" stroke-width="0.8"/>
<line x1="691.6" y1="548.2" x2="691.6" y2="550.2" stroke="#2e2e2e" stroke-width="0.8"/>
<line x1="694.5" y1="548.2" x2="694.5" y2="550.2" stroke="#2e2e2e" stroke-width="0.8"/>
<line x1="697.4" y1="548.2" x2="697.4" y2="550.2" stroke="#2e2e2e" stroke-width="0.8"/>
<line x1="700.4" y1="548.2" x2="700.4" y2="551.2" stroke="#2e2e2e" stroke-width="0.8"/>
<text x="700.4" y="555.8" text-anchor="middle" class="tk">9.20</text>
<path d="M27.3,308.5 V548.2 H700.5 V308.5" fill="none" stroke="#2e2e2e" stroke-width="1.1"/>
<text x="364" y="562.5" text-anchor="middle" class="tk" font-size="5">Minutes</text>
<text transform="translate(9.2,404.5) rotate(-90)" class="tk" font-size="5">AU</text>
<path d="M28,59.9 L28.5,59.9 L29,59.8 L29.5,59.8 L30,59.7 L30.5,59.7 L31,59.7 L31.5,59.6 L32,59.6 L32.5,59.6 L33,59.5 L33.5,59.5 L34,59.5 L34.5,59.4 L35,59.4 L35.5,59.4 L36,59.3 L36.5,59.3 L37,59.3 L37.5,59.2 L38,59.2 L38.5,59.2 L39,59.2 L39.5,59.1 L40,59.1 L40.5,59.1 L41,59.1 L41.5,59 L42,59 L42.5,59 L43,59 L43.5,59 L44,58.9 L44.5,58.9 L45,58.9 L45.5,58.9 L46,58.9 L46.5,58.9 L47,58.8 L47.5,58.8 L48,58.8 L48.5,58.8 L49,58.8 L49.5,58.8 L50,58.7 L50.5,58.7 L51,58.7 L51.5,58.7 L52,58.7 L52.5,58.7 L53,58.7 L53.5,58.6 L54,58.6 L54.5,58.6 L55,58.6 L55.5,58.6 L56,58.6 L56.5,58.6 L57,58.6 L57.5,58.6 L58,58.5 L58.5,58.5 L59,58.5 L59.5,58.5 L60,58.5 L60.5,58.5 L61,58.5 L61.5,58.5 L62,58.5 L62.5,58.5 L63,58.5 L63.5,58.5 L64,58.5 L64.5,58.5 L65,58.5 L65.5,58.5 L66,58.5 L66.5,58.5 L67,58.6 L67.5,58.6 L68,58.6 L68.5,58.6 L69,58.6 L69.5,58.6 L70,58.6 L70.5,58.7 L71,58.7 L71.5,58.7 L72,58.7 L72.5,58.7 L73,58.8 L73.5,58.8 L74,58.8 L74.5,58.8 L75,58.9 L75.5,58.9 L76,58.9 L76.5,58.9 L77,59 L77.5,59 L78,59 L78.5,59 L79,59.1 L79.5,59.1 L80,59.1 L80.5,59.1 L81,59.2 L81.5,59.2 L82,59.2 L82.5,59.3 L83,59.3 L83.5,59.3 L84,59.4 L84.5,59.4 L85,59.5 L85.5,59.5 L86,59.6 L86.5,59.6 L87,59.7 L87.5,59.7 L88,59.7 L88.5,59.8 L89,59.8 L89.5,59.8 L90,59.9 L90.5,59.9 L91,59.9 L91.5,59.9 L92,59.9 L92.5,59.9 L93,59.9 L93.5,59.9 L94,59.9 L94.5,59.9 L95,59.9 L95.5,59.9 L96,59.9 L96.5,59.9 L97,59.9 L97.5,59.9 L98,59.9 L98.5,59.9 L99,59.9 L99.5,59.9 L100,59.9 L100.5,59.9 L101,59.9 L101.5,59.9 L102,59.9 L102.5,59.9 L103,59.9 L103.5,59.9 L104,59.9 L104.5,59.9 L105,59.9 L105.5,59.9 L106,59.9 L106.5,59.9 L107,59.9 L107.5,59.9 L108,59.9 L108.5,59.9 L109,59.9 L109.5,59.9 L110,59.9 L110.5,59.9 L111,59.9 L111.5,59.9 L112,59.9 L112.5,59.9 L113,59.9 L113.5,59.9 L114,59.9 L114.5,59.9 L115,59.9 L115.5,59.9 L116,59.9 L116.5,59.9 L117,60 L117.5,60 L118,60 L118.5,60 L119,60 L119.5,60 L120,60 L120.5,60 L121,60 L121.5,60 L122,60 L122.5,60 L123,60 L123.5,60 L124,60 L124.5,60 L125,60 L125.5,60 L126,60 L126.5,60 L127,60 L127.5,60 L128,60 L128.5,60 L129,60 L129.5,60 L130,60 L130.5,60 L131,60 L131.5,60 L132,60 L132.5,60 L133,60 L133.5,60 L134,60 L134.5,60 L135,60 L135.5,60 L136,60 L136.5,60 L137,60 L137.5,60 L138,60 L138.5,60 L139,60 L139.5,60 L140,60 L140.5,60 L141,60 L141.5,60 L142,60 L142.5,60 L143,60 L143.5,60 L144,60 L144.5,60 L145,60 L145.5,60 L146,60 L146.5,60 L147,60 L147.5,60 L148,60 L148.5,60 L149,60 L149.5,60 L150,60 L150.5,60 L151,60 L151.5,60 L152,60 L152.5,60 L153,60 L153.5,60 L154,60 L154.5,60 L155,60 L155.5,60 L156,60 L156.5,60 L157,60 L157.5,60 L158,60 L158.5,60 L159,60 L159.5,60 L160,60 L160.5,60 L161,60 L161.5,60 L162,60 L162.5,60 L163,60 L163.5,60 L164,60 L164.5,60 L165,60 L165.5,60 L166,60 L166.5,60 L167,60 L167.5,60 L168,60 L168.5,60 L169,60 L169.5,60 L170,60 L170.5,60 L171,60 L171.5,60 L172,60 L172.5,60 L173,60 L173.5,60 L174,60 L174.5,60 L175,60 L175.5,60 L176,60 L176.5,60 L177,60 L177.5,60 L178,60 L178.5,60 L179,60 L179.5,60 L180,60 L180.5,60 L181,60 L181.5,60 L182,60 L182.5,60 L183,60 L183.5,60 L184,60 L184.5,60 L185,60 L185.5,60 L186,60 L186.5,60 L187,60 L187.5,60 L188,60 L188.5,60 L189,60 L189.5,60 L190,60 L190.5,60 L191,60 L191.5,60 L192,60 L192.5,60 L193,60 L193.5,60 L194,60 L194.5,60 L195,60 L195.5,60 L196,60 L196.5,60 L197,60 L197.5,60 L198,60 L198.5,60 L199,60 L199.5,60 L200,60 L200.5,60 L201,60 L201.5,60 L202,60 L202.5,60 L203,60 L203.5,60 L204,60 L204.5,60 L205,60 L205.5,60 L206,60 L206.5,60 L207,60 L207.5,60 L208,60 L208.5,60 L209,60 L209.5,60 L210,60 L210.5,60 L211,60 L211.5,60 L212,60 L212.5,60 L213,60 L213.5,60 L214,60 L214.5,60 L215,60 L215.5,60 L216,60 L216.5,60 L217,60 L217.5,60 L218,60 L218.5,60 L219,60 L219.5,60 L220,60 L220.5,60 L221,60 L221.5,60 L222,60 L222.5,60 L223,60 L223.5,60 L224,60 L224.5,60 L225,60 L225.5,60 L226,60 L226.5,60 L227,60 L227.5,60 L228,60 L228.5,60 L229,60 L229.5,60 L230,60 L230.5,60 L231,60 L231.5,60 L232,60 L232.5,60 L233,60 L233.5,60 L234,60 L234.5,60 L235,60 L235.5,60 L236,60 L236.5,60 L237,60 L237.5,60 L238,60 L238.5,60 L239,60 L239.5,60 L240,60 L240.5,60 L241,60 L241.5,60 L242,60 L242.5,60 L243,60 L243.5,60 L244,60 L244.5,60 L245,60 L245.5,60 L246,60 L246.5,60 L247,60 L247.5,60 L248,60 L248.5,60 L249,60 L249.5,60 L250,60 L250.5,60 L251,60 L251.5,60 L252,60 L252.5,60 L253,60 L253.5,60 L254,60 L254.5,60 L255,60 L255.5,60 L256,60 L256.5,60 L257,60 L257.5,60 L258,60 L258.5,60 L259,60 L259.5,60 L260,60 L260.5,60 L261,60 L261.5,60 L262,60 L262.5,60 L263,60 L263.5,60 L264,60 L264.5,60 L265,60 L265.5,60 L266,60 L266.5,60 L267,60 L267.5,60 L268,60 L268.5,60 L269,60 L269.5,60 L270,60 L270.5,60 L271,60 L271.5,60 L272,60 L272.5,60 L273,60 L273.5,60 L274,60 L274.5,60 L275,60 L275.5,60 L276,60 L276.5,60 L277,60 L277.5,60 L278,60 L278.5,60 L279,60 L279.5,60 L280,59.9 L280.5,59.9 L281,59.9 L281.5,59.9 L282,59.9 L282.5,59.9 L283,59.9 L283.5,59.9 L284,59.9 L284.5,59.9 L285,59.9 L285.5,59.9 L286,59.9 L286.5,59.9 L287,59.9 L287.5,59.9 L288,59.9 L288.5,59.9 L289,59.9 L289.5,59.9 L290,59.9 L290.5,59.9 L291,59.9 L291.5,59.9 L292,59.9 L292.5,59.9 L293,59.9 L293.5,59.9 L294,59.9 L294.5,59.9 L295,59.9 L295.5,59.9 L296,59.9 L296.5,59.9 L297,59.9 L297.5,59.9 L298,59.9 L298.5,59.9 L299,59.9 L299.5,59.9 L300,59.9 L300.5,59.9 L301,59.9 L301.5,59.9 L302,59.9 L302.5,59.9 L303,59.9 L303.5,59.9 L304,59.9 L304.5,59.9 L305,59.9 L305.5,59.9 L306,59.9 L306.5,59.9 L307,59.9 L307.5,59.9 L308,59.9 L308.5,59.9 L309,59.9 L309.5,59.9 L310,59.9 L310.5,59.9 L311,59.9 L311.5,59.9 L312,59.9 L312.5,59.9 L313,59.9 L313.5,59.9 L314,59.9 L314.5,59.9 L315,59.9 L315.5,59.9 L316,59.9 L316.5,59.9 L317,59.9 L317.5,59.9 L318,59.9 L318.5,59.9 L319,59.9 L319.5,59.9 L320,59.9 L320.5,59.9 L321,59.9 L321.5,59.9 L322,59.9 L322.5,59.9 L323,59.9 L323.5,59.9 L324,59.9 L324.5,59.9 L325,59.9 L325.5,59.9 L326,59.9 L326.5,59.9 L327,59.9 L327.5,59.9 L328,59.9 L328.5,59.9 L329,59.9 L329.5,59.9 L330,59.9 L330.5,59.9 L331,59.9 L331.5,59.9 L332,59.9 L332.5,59.9 L333,59.9 L333.5,59.9 L334,59.9 L334.5,59.9 L335,59.9 L335.5,59.9 L336,59.9 L336.5,59.9 L337,59.9 L337.5,59.9 L338,59.9 L338.5,59.9 L339,59.9 L339.5,59.9 L340,59.9 L340.5,59.9 L341,59.9 L341.5,59.9 L342,59.9 L342.5,59.9 L343,59.9 L343.5,59.9 L344,59.9 L344.5,59.9 L345,59.9 L345.5,59.9 L346,59.9 L346.5,59.9 L347,59.9 L347.5,59.9 L348,59.9 L348.5,59.9 L349,59.9 L349.5,59.9 L350,59.9 L350.5,59.9 L351,59.9 L351.5,59.9 L352,59.9 L352.5,59.9 L353,59.9 L353.5,59.9 L354,60 L354.5,60 L355,60 L355.5,60.1 L356,60.1 L356.5,60.1 L357,60.2 L357.5,60.2 L358,60.3 L358.5,60.3 L359,60.3 L359.5,60.4 L360,60.5 L360.5,60.5 L361,60.6 L361.5,60.7 L362,60.8 L362.5,60.9 L363,61 L363.5,61.2 L364,61.3 L364.5,61.5 L365,61.6 L365.5,61.8 L366,62.1 L366.5,62.4 L367,62.8 L367.5,63.2 L368,63.7 L368.5,64.4 L369,65.4 L369.5,66.7 L370,68 L370.5,69.2 L371,70 L371.5,70.3 L372,70.1 L372.5,69.5 L373,68.6 L373.5,67.7 L374,66.8 L374.5,66.1 L375,65.5 L375.5,64.9 L376,64.3 L376.5,63.8 L377,63.4 L377.5,63.2 L378,63.1 L378.5,63.1 L379,63 L379.5,63 L380,62.9 L380.5,63 L381,63.2 L381.5,63.7 L382,64.3 L382.5,64.9 L383,65.5 L383.5,65.9 L384,66 L384.5,65.9 L385,65.6 L385.5,65.2 L386,64.7 L386.5,64.2 L387,63.8 L387.5,63.4 L388,63.1 L388.5,62.9 L389,62.6 L389.5,62.4 L390,62.2 L390.5,62 L391,61.8 L391.5,61.6 L392,61.3 L392.5,61.1 L393,60.8 L393.5,60.6 L394,60.4 L394.5,60.2 L395,60.1 L395.5,60 L396,60.1 L396.5,60.2 L397,60.5 L397.5,60.9 L398,61.2 L398.5,61.5 L399,61.6 L399.5,61.6 L400,61.6 L400.5,61.5 L401,61.4 L401.5,61.3 L402,61.2 L402.5,61 L403,60.8 L403.5,60.5 L404,60.1 L404.5,59.8 L405,59.6 L405.5,59.4 L406,59.3 L406.5,59.2 L407,59.1 L407.5,59 L408,58.9 L408.5,58.9 L409,58.9 L409.5,58.8 L410,58.8 L410.5,58.8 L411,58.8 L411.5,58.9 L412,59 L412.5,59.1 L413,59.2 L413.5,59.2 L414,59.3 L414.5,59.4 L415,59.4 L415.5,59.4 L416,59.4 L416.5,59.4 L417,59.5 L417.5,59.5 L418,59.5 L418.5,59.5 L419,59.5 L419.5,59.5 L420,59.5 L420.5,59.5 L421,59.5 L421.5,59.5 L422,59.5 L422.5,59.5 L423,59.5 L423.5,59.5 L424,59.6 L424.5,59.6 L425,59.6 L425.5,59.6 L426,59.6 L426.5,59.6 L427,59.6 L427.5,59.6 L428,59.6 L428.5,59.6 L429,59.6 L429.5,59.6 L430,59.6 L430.5,59.7 L431,59.7 L431.5,59.7 L432,59.7 L432.5,59.7 L433,59.7 L433.5,59.7 L434,59.7 L434.5,59.7 L435,59.7 L435.5,59.7 L436,59.7 L436.5,59.7 L437,59.8 L437.5,59.8 L438,59.8 L438.5,59.8 L439,59.8 L439.5,59.8 L440,59.8 L440.5,59.8 L441,59.8 L441.5,59.8 L442,59.8 L442.5,59.8 L443,59.8 L443.5,59.8 L444,59.8 L444.5,59.8 L445,59.8 L445.5,59.8 L446,59.8 L446.5,59.8 L447,59.8 L447.5,59.8 L448,59.8 L448.5,59.8 L449,59.8 L449.5,59.8 L450,59.8 L450.5,59.8 L451,59.8 L451.5,59.8 L452,59.8 L452.5,59.8 L453,59.8 L453.5,59.8 L454,59.8 L454.5,59.8 L455,59.8 L455.5,59.8 L456,59.8 L456.5,59.8 L457,59.8 L457.5,59.8 L458,59.8 L458.5,59.8 L459,59.8 L459.5,59.8 L460,59.8 L460.5,59.8 L461,59.8 L461.5,59.8 L462,59.8 L462.5,59.8 L463,59.8 L463.5,59.8 L464,59.8 L464.5,59.8 L465,59.8 L465.5,59.8 L466,59.8 L466.5,59.8 L467,59.8 L467.5,59.8 L468,59.8 L468.5,59.8 L469,59.8 L469.5,59.8 L470,59.8 L470.5,59.8 L471,59.8 L471.5,59.8 L472,59.8 L472.5,59.8 L473,59.8 L473.5,59.8 L474,59.8 L474.5,59.8 L475,59.8 L475.5,59.8 L476,59.8 L476.5,59.8 L477,59.8 L477.5,59.8 L478,59.8 L478.5,59.8 L479,59.8 L479.5,59.8 L480,59.8 L480.5,59.8 L481,59.8 L481.5,59.8 L482,59.8 L482.5,59.8 L483,59.8 L483.5,59.8 L484,59.8 L484.5,59.8 L485,59.8 L485.5,59.8 L486,59.8 L486.5,59.8 L487,59.8 L487.5,59.8 L488,59.7 L488.5,59.7 L489,59.7 L489.5,59.7 L490,59.6 L490.5,59.5 L491,59.4 L491.5,59.2 L492,58.9 L492.5,58.6 L493,58.2 L493.5,57.6 L494,57 L494.5,56.2 L495,55.4 L495.5,54.4 L496,53.5 L496.5,52.5 L497,51.6 L497.5,50.7 L498,50.1 L498.5,49.6 L499,49.4 L499.5,49.4 L500,49.5 L500.5,49.8 L501,50.3 L501.5,50.8 L502,51.4 L502.5,52.1 L503,52.9 L503.5,53.6 L504,54.3 L504.5,55.1 L505,55.7 L505.5,56.4 L506,57 L506.5,57.5 L507,57.9 L507.5,58.3 L508,58.6 L508.5,58.9 L509,59.1 L509.5,59.2 L510,59.4 L510.5,59.5 L511,59.6 L511.5,59.6 L512,59.7 L512.5,59.7 L513,59.7 L513.5,59.7 L514,59.7 L514.5,59.7 L515,59.7 L515.5,59.7 L516,59.7 L516.5,59.7 L517,59.8 L517.5,59.8 L518,59.8 L518.5,59.8 L519,59.8 L519.5,59.8 L520,59.8 L520.5,59.8 L521,59.7 L521.5,59.7 L522,59.7 L522.5,59.7 L523,59.7 L523.5,59.7 L524,59.7 L524.5,59.7 L525,59.7 L525.5,59.7 L526,59.7 L526.5,59.7 L527,59.7 L527.5,59.7 L528,59.7 L528.5,59.7 L529,59.7 L529.5,59.7 L530,59.7 L530.5,59.7 L531,59.7 L531.5,59.7 L532,59.7 L532.5,59.7 L533,59.7 L533.5,59.7 L534,59.7 L534.5,59.7 L535,59.7 L535.5,59.7 L536,59.7 L536.5,59.7 L537,59.7 L537.5,59.7 L538,59.7 L538.5,59.7 L539,59.7 L539.5,59.7 L540,59.7 L540.5,59.7 L541,59.7 L541.5,59.7 L542,59.7 L542.5,59.7 L543,59.7 L543.5,59.7 L544,59.7 L544.5,59.7 L545,59.7 L545.5,59.7 L546,59.7 L546.5,59.7 L547,59.7 L547.5,59.7 L548,59.7 L548.5,59.7 L549,59.7 L549.5,59.7 L550,59.7 L550.5,59.6 L551,59.6 L551.5,59.5 L552,59.4 L552.5,59.2 L553,58.9 L553.5,58.5 L554,58 L554.5,57.3 L555,56.5 L555.5,55.3 L556,54 L556.5,52.4 L557,50.5 L557.5,48.4 L558,46.1 L558.5,43.7 L559,41.2 L559.5,38.9 L560,36.8 L560.5,35 L561,33.6 L561.5,32.7 L562,32.4 L562.5,32.6 L563,33.3 L563.5,34.3 L564,35.6 L564.5,37.3 L565,39.1 L565.5,41.1 L566,43.2 L566.5,45.2 L567,47.2 L567.5,49.1 L568,50.9 L568.5,52.4 L569,53.8 L569.5,55 L570,56 L570.5,56.9 L571,57.6 L571.5,58.1 L572,58.5 L572.5,58.9 L573,59.1 L573.5,59.3 L574,59.4 L574.5,59.5 L575,59.6 L575.5,59.6 L576,59.7 L576.5,59.7 L577,59.7 L577.5,59.7 L578,59.7 L578.5,59.7 L579,59.7 L579.5,59.7 L580,59.7 L580.5,59.7 L581,59.7 L581.5,59.7 L582,59.7 L582.5,59.7 L583,59.7 L583.5,59.7 L584,59.7 L584.5,59.7 L585,59.7 L585.5,59.7 L586,59.7 L586.5,59.7 L587,59.7 L587.5,59.7 L588,59.7 L588.5,59.7 L589,59.7 L589.5,59.7 L590,59.7 L590.5,59.7 L591,59.7 L591.5,59.7 L592,59.7 L592.5,59.7 L593,59.7 L593.5,59.7 L594,59.7 L594.5,59.7 L595,59.7 L595.5,59.7 L596,59.7 L596.5,59.7 L597,59.7 L597.5,59.7 L598,59.7 L598.5,59.7 L599,59.7 L599.5,59.7 L600,59.7 L600.5,59.7 L601,59.7 L601.5,59.7 L602,59.7 L602.5,59.7 L603,59.7 L603.5,59.7 L604,59.7 L604.5,59.7 L605,59.7 L605.5,59.7 L606,59.7 L606.5,59.7 L607,59.7 L607.5,59.6 L608,59.6 L608.5,59.5 L609,59.4 L609.5,59.3 L610,59.1 L610.5,58.9 L611,58.6 L611.5,58.2 L612,57.8 L612.5,57.2 L613,56.6 L613.5,55.9 L614,55.1 L614.5,54.3 L615,53.4 L615.5,52.6 L616,51.8 L616.5,51.1 L617,50.6 L617.5,50.2 L618,49.9 L618.5,49.9 L619,50 L619.5,50.3 L620,50.7 L620.5,51.2 L621,51.7 L621.5,52.4 L622,53.1 L622.5,53.8 L623,54.5 L623.5,55.2 L624,55.8 L624.5,56.4 L625,57 L625.5,57.5 L626,57.9 L626.5,58.3 L627,58.6 L627.5,58.8 L628,59 L628.5,59.2 L629,59.3 L629.5,59.4 L630,59.5 L630.5,59.6 L631,59.6 L631.5,59.6 L632,59.7 L632.5,59.7 L633,59.7 L633.5,59.7 L634,59.7 L634.5,59.7 L635,59.7 L635.5,59.7 L636,59.7 L636.5,59.7 L637,59.7 L637.5,59.7 L638,59.7 L638.5,59.7 L639,59.7 L639.5,59.7 L640,59.7 L640.5,59.7 L641,59.7 L641.5,59.6 L642,59.6 L642.5,59.6 L643,59.5 L643.5,59.3 L644,59.2 L644.5,58.9 L645,58.6 L645.5,58.1 L646,57.5 L646.5,56.7 L647,55.6 L647.5,54.3 L648,52.7 L648.5,50.7 L649,48.4 L649.5,45.8 L650,42.8 L650.5,39.6 L651,36.2 L651.5,32.7 L652,29.1 L652.5,25.7 L653,22.6 L653.5,19.8 L654,17.6 L654.5,16.1 L655,15.2 L655.5,15.2 L656,15.7 L656.5,16.7 L657,18.3 L657.5,20.3 L658,22.8 L658.5,25.5 L659,28.4 L659.5,31.4 L660,34.5 L660.5,37.5 L661,40.4 L661.5,43.2 L662,45.7 L662.5,48 L663,50.1 L663.5,51.8 L664,53.4 L664.5,54.7 L665,55.8 L665.5,56.7 L666,57.4 L666.5,58 L667,58.4 L667.5,58.7 L668,59 L668.5,59.2 L669,59.4 L669.5,59.5 L670,59.5 L670.5,59.6 L671,59.6 L671.5,59.7 L672,59.7 L672.5,59.7 L673,59.7 L673.5,59.7 L674,59.7 L674.5,59.7 L675,59.7 L675.5,59.7 L676,59.7 L676.5,59.7 L677,59.7 L677.5,59.7 L678,59.7 L678.5,59.7 L679,59.7 L679.5,59.7 L680,59.7 L680.5,59.7 L681,59.7 L681.5,59.7 L682,59.7 L682.5,59.7 L683,59.7 L683.5,59.7 L684,59.7 L684.5,59.7 L685,59.7 L685.5,59.7 L686,59.7 L686.5,59.7 L687,59.7 L687.5,59.7 L688,59.7 L688.5,59.7 L689,59.7 L689.5,59.7 L690,59.7 L690.5,59.7 L691,59.7 L691.5,59.7 L692,59.7 L692.5,59.7 L693,59.7 L693.5,59.7 L694,59.7 L694.5,59.7 L695,59.7 L695.5,59.7 L696,59.7 L696.5,59.7 L697,59.7 L697.5,59.7 L698,59.7 L698.5,59.7 L699,59.7 L699.5,59.7 L700,59.7 L700.5,59.7 L701,59.7" fill="none" stroke="#8e2323" stroke-width="1.4"/>
<path d="M28,100.4 L28.5,100.4 L29,100.4 L29.5,100.4 L30,100.4 L30.5,100.4 L31,100.4 L31.5,100.4 L32,100.4 L32.5,100.4 L33,100.4 L33.5,100.4 L34,100.4 L34.5,100.4 L35,100.4 L35.5,100.4 L36,100.4 L36.5,100.4 L37,100.4 L37.5,100.4 L38,100.4 L38.5,100.4 L39,100.4 L39.5,100.4 L40,100.4 L40.5,100.4 L41,100.4 L41.5,100.4 L42,100.4 L42.5,100.4 L43,100.4 L43.5,100.4 L44,100.4 L44.5,100.4 L45,100.4 L45.5,100.4 L46,100.4 L46.5,100.4 L47,100.4 L47.5,100.4 L48,100.4 L48.5,100.4 L49,100.4 L49.5,100.4 L50,100.4 L50.5,100.4 L51,100.4 L51.5,100.4 L52,100.4 L52.5,100.4 L53,100.4 L53.5,100.4 L54,100.4 L54.5,100.4 L55,100.4 L55.5,100.4 L56,100.4 L56.5,100.4 L57,100.4 L57.5,100.4 L58,100.4 L58.5,100.4 L59,100.4 L59.5,100.4 L60,100.4 L60.5,100.4 L61,100.4 L61.5,100.4 L62,100.4 L62.5,100.4 L63,100.4 L63.5,100.4 L64,100.4 L64.5,100.4 L65,100.4 L65.5,100.4 L66,100.4 L66.5,100.4 L67,100.4 L67.5,100.4 L68,100.4 L68.5,100.4 L69,100.4 L69.5,100.4 L70,100.4 L70.5,100.4 L71,100.4 L71.5,100.4 L72,100.4 L72.5,100.4 L73,100.4 L73.5,100.4 L74,100.4 L74.5,100.4 L75,100.4 L75.5,100.4 L76,100.4 L76.5,100.4 L77,100.4 L77.5,100.4 L78,100.4 L78.5,100.4 L79,100.4 L79.5,100.4 L80,100.4 L80.5,100.4 L81,100.4 L81.5,100.4 L82,100.4 L82.5,100.4 L83,100.4 L83.5,100.4 L84,100.4 L84.5,100.4 L85,100.4 L85.5,100.4 L86,100.4 L86.5,100.4 L87,100.4 L87.5,100.4 L88,100.4 L88.5,100.4 L89,100.4 L89.5,100.4 L90,100.4 L90.5,100.4 L91,100.4 L91.5,100.4 L92,100.4 L92.5,100.4 L93,100.4 L93.5,100.4 L94,100.4 L94.5,100.4 L95,100.4 L95.5,100.4 L96,100.3 L96.5,100.3 L97,100.3 L97.5,100.3 L98,100.3 L98.5,100.3 L99,100.3 L99.5,100.3 L100,100.3 L100.5,100.3 L101,100.3 L101.5,100.3 L102,100.3 L102.5,100.3 L103,100.3 L103.5,100.3 L104,100.3 L104.5,100.3 L105,100.3 L105.5,100.3 L106,100.3 L106.5,100.3 L107,100.3 L107.5,100.3 L108,100.3 L108.5,100.3 L109,100.3 L109.5,100.3 L110,100.3 L110.5,100.3 L111,100.3 L111.5,100.3 L112,100.3 L112.5,100.3 L113,100.3 L113.5,100.3 L114,100.3 L114.5,100.3 L115,100.3 L115.5,100.3 L116,100.3 L116.5,100.3 L117,100.3 L117.5,100.3 L118,100.3 L118.5,100.3 L119,100.3 L119.5,100.3 L120,100.3 L120.5,100.3 L121,100.3 L121.5,100.3 L122,100.3 L122.5,100.3 L123,100.3 L123.5,100.3 L124,100.3 L124.5,100.3 L125,100.3 L125.5,100.3 L126,100.3 L126.5,100.3 L127,100.3 L127.5,100.3 L128,100.3 L128.5,100.3 L129,100.3 L129.5,100.3 L130,100.3 L130.5,100.3 L131,100.3 L131.5,100.3 L132,100.3 L132.5,100.3 L133,100.3 L133.5,100.3 L134,100.3 L134.5,100.3 L135,100.3 L135.5,100.3 L136,100.3 L136.5,100.3 L137,100.3 L137.5,100.3 L138,100.3 L138.5,100.3 L139,100.3 L139.5,100.3 L140,100.3 L140.5,100.3 L141,100.3 L141.5,100.3 L142,100.3 L142.5,100.3 L143,100.3 L143.5,100.3 L144,100.3 L144.5,100.3 L145,100.3 L145.5,100.3 L146,100.3 L146.5,100.3 L147,100.3 L147.5,100.3 L148,100.3 L148.5,100.3 L149,100.3 L149.5,100.3 L150,100.3 L150.5,100.3 L151,100.3 L151.5,100.3 L152,100.3 L152.5,100.3 L153,100.3 L153.5,100.3 L154,100.3 L154.5,100.3 L155,100.3 L155.5,100.3 L156,100.3 L156.5,100.3 L157,100.3 L157.5,100.3 L158,100.3 L158.5,100.3 L159,100.3 L159.5,100.3 L160,100.3 L160.5,100.3 L161,100.3 L161.5,100.3 L162,100.3 L162.5,100.3 L163,100.3 L163.5,100.3 L164,100.3 L164.5,100.3 L165,100.3 L165.5,100.3 L166,100.3 L166.5,100.3 L167,100.3 L167.5,100.3 L168,100.3 L168.5,100.3 L169,100.3 L169.5,100.3 L170,100.3 L170.5,100.3 L171,100.3 L171.5,100.3 L172,100.3 L172.5,100.3 L173,100.3 L173.5,100.3 L174,100.3 L174.5,100.3 L175,100.3 L175.5,100.3 L176,100.3 L176.5,100.3 L177,100.3 L177.5,100.3 L178,100.3 L178.5,100.3 L179,100.3 L179.5,100.3 L180,100.3 L180.5,100.3 L181,100.3 L181.5,100.3 L182,100.3 L182.5,100.3 L183,100.3 L183.5,100.3 L184,100.3 L184.5,100.3 L185,100.3 L185.5,100.3 L186,100.3 L186.5,100.3 L187,100.3 L187.5,100.3 L188,100.3 L188.5,100.3 L189,100.3 L189.5,100.3 L190,100.3 L190.5,100.3 L191,100.3 L191.5,100.3 L192,100.3 L192.5,100.3 L193,100.3 L193.5,100.3 L194,100.3 L194.5,100.3 L195,100.3 L195.5,100.3 L196,100.3 L196.5,100.3 L197,100.3 L197.5,100.3 L198,100.3 L198.5,100.3 L199,100.3 L199.5,100.3 L200,100.3 L200.5,100.3 L201,100.3 L201.5,100.3 L202,100.3 L202.5,100.3 L203,100.3 L203.5,100.3 L204,100.3 L204.5,100.3 L205,100.3 L205.5,100.3 L206,100.3 L206.5,100.3 L207,100.3 L207.5,100.3 L208,100.3 L208.5,100.3 L209,100.3 L209.5,100.3 L210,100.3 L210.5,100.3 L211,100.3 L211.5,100.3 L212,100.3 L212.5,100.3 L213,100.3 L213.5,100.3 L214,100.3 L214.5,100.3 L215,100.3 L215.5,100.3 L216,100.3 L216.5,100.3 L217,100.3 L217.5,100.3 L218,100.3 L218.5,100.3 L219,100.3 L219.5,100.3 L220,100.3 L220.5,100.3 L221,100.3 L221.5,100.3 L222,100.3 L222.5,100.3 L223,100.3 L223.5,100.3 L224,100.3 L224.5,100.3 L225,100.3 L225.5,100.3 L226,100.3 L226.5,100.3 L227,100.3 L227.5,100.3 L228,100.3 L228.5,100.3 L229,100.3 L229.5,100.3 L230,100.3 L230.5,100.3 L231,100.3 L231.5,100.3 L232,100.2 L232.5,100.2 L233,100.2 L233.5,100.2 L234,100.2 L234.5,100.2 L235,100.2 L235.5,100.2 L236,100.2 L236.5,100.2 L237,100.2 L237.5,100.2 L238,100.2 L238.5,100.2 L239,100.2 L239.5,100.2 L240,100.2 L240.5,100.2 L241,100.2 L241.5,100.2 L242,100.2 L242.5,100.2 L243,100.2 L243.5,100.2 L244,100.2 L244.5,100.2 L245,100.2 L245.5,100.2 L246,100.2 L246.5,100.2 L247,100.2 L247.5,100.2 L248,100.2 L248.5,100.2 L249,100.2 L249.5,100.2 L250,100.2 L250.5,100.2 L251,100.2 L251.5,100.2 L252,100.2 L252.5,100.2 L253,100.2 L253.5,100.2 L254,100.2 L254.5,100.2 L255,100.2 L255.5,100.2 L256,100.2 L256.5,100.2 L257,100.2 L257.5,100.2 L258,100.2 L258.5,100.2 L259,100.2 L259.5,100.2 L260,100.2 L260.5,100.2 L261,100.2 L261.5,100.2 L262,100.2 L262.5,100.2 L263,100.2 L263.5,100.2 L264,100.2 L264.5,100.2 L265,100.2 L265.5,100.2 L266,100.2 L266.5,100.2 L267,100.2 L267.5,100.2 L268,100.2 L268.5,100.2 L269,100.2 L269.5,100.2 L270,100.2 L270.5,100.2 L271,100.2 L271.5,100.2 L272,100.2 L272.5,100.2 L273,100.2 L273.5,100.2 L274,100.2 L274.5,100.2 L275,100.2 L275.5,100.2 L276,100.2 L276.5,100.2 L277,100.2 L277.5,100.2 L278,100.2 L278.5,100.2 L279,100.2 L279.5,100.2 L280,100.2 L280.5,100.2 L281,100.2 L281.5,100.2 L282,100.2 L282.5,100.2 L283,100.2 L283.5,100.2 L284,100.2 L284.5,100.2 L285,100.2 L285.5,100.2 L286,100.2 L286.5,100.2 L287,100.2 L287.5,100.2 L288,100.2 L288.5,100.2 L289,100.2 L289.5,100.2 L290,100.2 L290.5,100.2 L291,100.2 L291.5,100.2 L292,100.2 L292.5,100.2 L293,100.2 L293.5,100.2 L294,100.2 L294.5,100.2 L295,100.2 L295.5,100.2 L296,100.2 L296.5,100.2 L297,100.2 L297.5,100.2 L298,100.2 L298.5,100.2 L299,100.2 L299.5,100.2 L300,100.2 L300.5,100.2 L301,100.2 L301.5,100.2 L302,100.2 L302.5,100.2 L303,100.2 L303.5,100.2 L304,100.2 L304.5,100.2 L305,100.2 L305.5,100.2 L306,100.2 L306.5,100.2 L307,100.2 L307.5,100.2 L308,100.2 L308.5,100.2 L309,100.2 L309.5,100.2 L310,100.2 L310.5,100.2 L311,100.2 L311.5,100.2 L312,100.2 L312.5,100.2 L313,100.2 L313.5,100.2 L314,100.2 L314.5,100.2 L315,100.2 L315.5,100.2 L316,100.2 L316.5,100.2 L317,100.2 L317.5,100.2 L318,100.2 L318.5,100.2 L319,100.2 L319.5,100.2 L320,100.2 L320.5,100.2 L321,100.2 L321.5,100.2 L322,100.2 L322.5,100.2 L323,100.2 L323.5,100.2 L324,100.2 L324.5,100.2 L325,100.2 L325.5,100.2 L326,100.2 L326.5,100.2 L327,100.2 L327.5,100.2 L328,100.2 L328.5,100.2 L329,100.2 L329.5,100.2 L330,100.2 L330.5,100.2 L331,100.2 L331.5,100.2 L332,100.2 L332.5,100.2 L333,100.2 L333.5,100.2 L334,100.2 L334.5,100.2 L335,100.2 L335.5,100.2 L336,100.2 L336.5,100.2 L337,100.2 L337.5,100.2 L338,100.2 L338.5,100.2 L339,100.2 L339.5,100.2 L340,100.2 L340.5,100.2 L341,100.2 L341.5,100.2 L342,100.2 L342.5,100.2 L343,100.2 L343.5,100.2 L344,100.2 L344.5,100.2 L345,100.2 L345.5,100.2 L346,100.2 L346.5,100.2 L347,100.2 L347.5,100.2 L348,100.2 L348.5,100.2 L349,100.2 L349.5,100.2 L350,100.2 L350.5,100.2 L351,100.2 L351.5,100.2 L352,100.2 L352.5,100.2 L353,100.2 L353.5,100.3 L354,100.3 L354.5,100.3 L355,100.3 L355.5,100.4 L356,100.4 L356.5,100.4 L357,100.5 L357.5,100.5 L358,100.6 L358.5,100.6 L359,100.6 L359.5,100.7 L360,100.7 L360.5,100.8 L361,100.9 L361.5,101 L362,101.1 L362.5,101.2 L363,101.3 L363.5,101.4 L364,101.6 L364.5,101.7 L365,101.9 L365.5,102.1 L366,102.3 L366.5,102.6 L367,103 L367.5,103.4 L368,103.9 L368.5,104.5 L369,105.4 L369.5,106.6 L370,107.9 L370.5,109 L371,109.8 L371.5,110.1 L372,109.9 L372.5,109.3 L373,108.5 L373.5,107.6 L374,106.8 L374.5,106.1 L375,105.6 L375.5,105 L376,104.4 L376.5,103.9 L377,103.6 L377.5,103.4 L378,103.3 L378.5,103.2 L379,103.2 L379.5,103.1 L380,103.1 L380.5,103.1 L381,103.4 L381.5,103.8 L382,104.4 L382.5,105 L383,105.5 L383.5,105.9 L384,106.1 L384.5,105.9 L385,105.7 L385.5,105.3 L386,104.8 L386.5,104.4 L387,103.9 L387.5,103.6 L388,103.3 L388.5,103.1 L389,102.8 L389.5,102.6 L390,102.4 L390.5,102.2 L391,102 L391.5,101.8 L392,101.6 L392.5,101.3 L393,101.1 L393.5,100.9 L394,100.7 L394.5,100.5 L395,100.4 L395.5,100.4 L396,100.4 L396.5,100.6 L397,100.8 L397.5,101.2 L398,101.5 L398.5,101.7 L399,101.9 L399.5,101.9 L400,101.8 L400.5,101.8 L401,101.7 L401.5,101.6 L402,101.5 L402.5,101.3 L403,101.1 L403.5,100.8 L404,100.5 L404.5,100.2 L405,99.9 L405.5,99.7 L406,99.6 L406.5,99.5 L407,99.5 L407.5,99.4 L408,99.3 L408.5,99.3 L409,99.2 L409.5,99.2 L410,99.2 L410.5,99.2 L411,99.2 L411.5,99.3 L412,99.4 L412.5,99.5 L413,99.5 L413.5,99.6 L414,99.7 L414.5,99.7 L415,99.8 L415.5,99.8 L416,99.8 L416.5,99.8 L417,99.8 L417.5,99.8 L418,99.8 L418.5,99.8 L419,99.8 L419.5,99.9 L420,99.9 L420.5,99.9 L421,99.9 L421.5,99.9 L422,99.9 L422.5,99.9 L423,99.9 L423.5,99.9 L424,99.9 L424.5,99.9 L425,99.9 L425.5,99.9 L426,100 L426.5,100 L427,100 L427.5,100 L428,100 L428.5,100 L429,100 L429.5,100 L430,100 L430.5,100 L431,100 L431.5,100 L432,100 L432.5,100 L433,100.1 L433.5,100.1 L434,100.1 L434.5,100.1 L435,100.1 L435.5,100.1 L436,100.1 L436.5,100.1 L437,100.1 L437.5,100.1 L438,100.1 L438.5,100.1 L439,100.1 L439.5,100.1 L440,100.1 L440.5,100.1 L441,100.1 L441.5,100.1 L442,100.1 L442.5,100.1 L443,100.1 L443.5,100.1 L444,100.1 L444.5,100.1 L445,100.1 L445.5,100.1 L446,100.1 L446.5,100.1 L447,100.1 L447.5,100.1 L448,100.1 L448.5,100.1 L449,100.1 L449.5,100.1 L450,100.1 L450.5,100.1 L451,100.1 L451.5,100.1 L452,100.1 L452.5,100.1 L453,100.1 L453.5,100.1 L454,100.1 L454.5,100.1 L455,100.1 L455.5,100.1 L456,100.1 L456.5,100.1 L457,100.1 L457.5,100.1 L458,100.1 L458.5,100.1 L459,100.1 L459.5,100.1 L460,100.1 L460.5,100.1 L461,100.1 L461.5,100.1 L462,100.1 L462.5,100.1 L463,100.1 L463.5,100.1 L464,100.1 L464.5,100.1 L465,100.1 L465.5,100.1 L466,100.1 L466.5,100.1 L467,100.1 L467.5,100.1 L468,100.1 L468.5,100.1 L469,100.1 L469.5,100.1 L470,100.1 L470.5,100.1 L471,100.1 L471.5,100.1 L472,100.1 L472.5,100.1 L473,100.1 L473.5,100.1 L474,100.1 L474.5,100.1 L475,100.1 L475.5,100.1 L476,100.1 L476.5,100.1 L477,100.1 L477.5,100.1 L478,100.1 L478.5,100.1 L479,100.1 L479.5,100.1 L480,100.1 L480.5,100.1 L481,100.1 L481.5,100.1 L482,100.1 L482.5,100.1 L483,100.1 L483.5,100.1 L484,100.1 L484.5,100.1 L485,100.1 L485.5,100.1 L486,100.1 L486.5,100.1 L487,100.1 L487.5,100.1 L488,100.1 L488.5,100.1 L489,100.1 L489.5,100.1 L490,100.1 L490.5,100.1 L491,100.1 L491.5,100.1 L492,100.1 L492.5,100.1 L493,100.1 L493.5,100.1 L494,100.1 L494.5,100.1 L495,100.1 L495.5,100.1 L496,100.1 L496.5,100.1 L497,100.1 L497.5,100.1 L498,100.1 L498.5,100.1 L499,100.1 L499.5,100.1 L500,100.1 L500.5,100.1 L501,100.1 L501.5,100.1 L502,100.1 L502.5,100.1 L503,100.1 L503.5,100.1 L504,100.1 L504.5,100.1 L505,100.1 L505.5,100.1 L506,100.1 L506.5,100.1 L507,100.1 L507.5,100.1 L508,100.1 L508.5,100.1 L509,100.1 L509.5,100.1 L510,100.1 L510.5,100.1 L511,100.1 L511.5,100.1 L512,100.1 L512.5,100.1 L513,100.1 L513.5,100.1 L514,100.1 L514.5,100.1 L515,100.1 L515.5,100.1 L516,100.1 L516.5,100.1 L517,100.1 L517.5,100.1 L518,100.1 L518.5,100.1 L519,100.1 L519.5,100.1 L520,100.1 L520.5,100.1 L521,100.1 L521.5,100.1 L522,100.1 L522.5,100.1 L523,100.1 L523.5,100.1 L524,100.1 L524.5,100.1 L525,100.1 L525.5,100.1 L526,100.1 L526.5,100.1 L527,100.1 L527.5,100.1 L528,100.1 L528.5,100.1 L529,100.1 L529.5,100.1 L530,100.1 L530.5,100.1 L531,100.1 L531.5,100.1 L532,100.1 L532.5,100.1 L533,100.1 L533.5,100.1 L534,100.1 L534.5,100.1 L535,100.1 L535.5,100.1 L536,100.1 L536.5,100.1 L537,100.1 L537.5,100.1 L538,100.1 L538.5,100.1 L539,100.1 L539.5,100.1 L540,100.1 L540.5,100.1 L541,100.1 L541.5,100.1 L542,100.1 L542.5,100.1 L543,100.1 L543.5,100.1 L544,100.1 L544.5,100.1 L545,100.1 L545.5,100.1 L546,100.1 L546.5,100.1 L547,100.1 L547.5,100.1 L548,100 L548.5,100 L549,100 L549.5,100 L550,100 L550.5,100 L551,100 L551.5,100 L552,100 L552.5,100 L553,100 L553.5,100 L554,100 L554.5,100 L555,100 L555.5,100 L556,100 L556.5,100 L557,100 L557.5,100 L558,100 L558.5,100 L559,100 L559.5,100 L560,100 L560.5,100 L561,100 L561.5,100 L562,100 L562.5,100 L563,100 L563.5,100 L564,100 L564.5,100 L565,100 L565.5,100 L566,100 L566.5,100 L567,100 L567.5,100 L568,100 L568.5,100 L569,100 L569.5,100 L570,100 L570.5,100 L571,100 L571.5,100 L572,100 L572.5,100 L573,100 L573.5,100 L574,100 L574.5,100 L575,100 L575.5,100 L576,100 L576.5,99.9 L577,99.9 L577.5,99.8 L578,99.7 L578.5,99.7 L579,99.6 L579.5,99.6 L580,99.6 L580.5,99.6 L581,99.6 L581.5,99.6 L582,99.6 L582.5,99.6 L583,99.6 L583.5,99.6 L584,99.6 L584.5,99.6 L585,99.6 L585.5,99.6 L586,99.6 L586.5,99.6 L587,99.6 L587.5,99.6 L588,99.6 L588.5,99.6 L589,99.6 L589.5,99.6 L590,99.6 L590.5,99.6 L591,99.6 L591.5,99.6 L592,99.6 L592.5,99.6 L593,99.6 L593.5,99.6 L594,99.6 L594.5,99.6 L595,99.6 L595.5,99.6 L596,99.6 L596.5,99.6 L597,99.6 L597.5,99.6 L598,99.6 L598.5,99.6 L599,99.6 L599.5,99.6 L600,99.6 L600.5,99.6 L601,99.6 L601.5,99.6 L602,99.6 L602.5,99.6 L603,99.6 L603.5,99.6 L604,99.6 L604.5,99.6 L605,99.6 L605.5,99.6 L606,99.6 L606.5,99.5 L607,99.5 L607.5,99.5 L608,99.5 L608.5,99.5 L609,99.5 L609.5,99.5 L610,99.5 L610.5,99.5 L611,99.5 L611.5,99.5 L612,99.5 L612.5,99.5 L613,99.5 L613.5,99.5 L614,99.5 L614.5,99.5 L615,99.5 L615.5,99.5 L616,99.5 L616.5,99.5 L617,99.5 L617.5,99.5 L618,99.5 L618.5,99.5 L619,99.5 L619.5,99.5 L620,99.5 L620.5,99.5 L621,99.5 L621.5,99.5 L622,99.5 L622.5,99.5 L623,99.5 L623.5,99.5 L624,99.5 L624.5,99.5 L625,99.5 L625.5,99.5 L626,99.5 L626.5,99.5 L627,99.5 L627.5,99.5 L628,99.5 L628.5,99.5 L629,99.5 L629.5,99.5 L630,99.5 L630.5,99.5 L631,99.5 L631.5,99.5 L632,99.5 L632.5,99.5 L633,99.5 L633.5,99.5 L634,99.5 L634.5,99.5 L635,99.5 L635.5,99.5 L636,99.5 L636.5,99.5 L637,99.5 L637.5,99.5 L638,99.5 L638.5,99.5 L639,99.5 L639.5,99.5 L640,99.5 L640.5,99.5 L641,99.5 L641.5,99.5 L642,99.5 L642.5,99.5 L643,99.5 L643.5,99.5 L644,99.5 L644.5,99.5 L645,99.5 L645.5,99.5 L646,99.5 L646.5,99.5 L647,99.5 L647.5,99.5 L648,99.5 L648.5,99.5 L649,99.5 L649.5,99.5 L650,99.5 L650.5,99.5 L651,99.5 L651.5,99.4 L652,99.4 L652.5,99.3 L653,99.1 L653.5,98.9 L654,98.6 L654.5,98.2 L655,97.7 L655.5,96.9 L656,95.9 L656.5,94.7 L657,93.1 L657.5,91.2 L658,89 L658.5,86.4 L659,83.5 L659.5,80.4 L660,77.2 L660.5,73.9 L661,70.7 L661.5,67.8 L662,65.4 L662.5,63.4 L663,62.2 L663.5,61.6 L664,61.8 L664.5,62.6 L665,63.9 L665.5,65.6 L666,67.8 L666.5,70.4 L667,73.1 L667.5,75.9 L668,78.8 L668.5,81.6 L669,84.3 L669.5,86.7 L670,89 L670.5,90.9 L671,92.7 L671.5,94.1 L672,95.3 L672.5,96.3 L673,97.1 L673.5,97.7 L674,98.2 L674.5,98.6 L675,98.8 L675.5,99 L676,99.2 L676.5,99.3 L677,99.4 L677.5,99.4 L678,99.4 L678.5,99.5 L679,99.5 L679.5,99.5 L680,99.5 L680.5,99.5 L681,99.5 L681.5,99.5 L682,99.5 L682.5,99.5 L683,99.5 L683.5,99.5 L684,99.5 L684.5,99.5 L685,99.5 L685.5,99.5 L686,99.5 L686.5,99.5 L687,99.5 L687.5,99.5 L688,99.5 L688.5,99.5 L689,99.5 L689.5,99.5 L690,99.5 L690.5,99.5 L691,99.5 L691.5,99.5 L692,99.5 L692.5,99.5 L693,99.5 L693.5,99.5 L694,99.5 L694.5,99.5 L695,99.5 L695.5,99.5 L696,99.5 L696.5,99.5 L697,99.5 L697.5,99.5 L698,99.5 L698.5,99.5 L699,99.5 L699.5,99.5 L700,99.5 L700.5,99.5 L701,99.5" fill="none" stroke="#7f1f82" stroke-width="1.4"/>
<path d="M28,140.5 L28.5,140.5 L29,140.5 L29.5,140.5 L30,140.5 L30.5,140.5 L31,140.5 L31.5,140.5 L32,140.5 L32.5,140.5 L33,140.5 L33.5,140.5 L34,140.5 L34.5,140.5 L35,140.5 L35.5,140.5 L36,140.5 L36.5,140.5 L37,140.5 L37.5,140.5 L38,140.5 L38.5,140.5 L39,140.5 L39.5,140.5 L40,140.5 L40.5,140.5 L41,140.5 L41.5,140.5 L42,140.5 L42.5,140.5 L43,140.5 L43.5,140.5 L44,140.5 L44.5,140.5 L45,140.5 L45.5,140.5 L46,140.5 L46.5,140.5 L47,140.5 L47.5,140.5 L48,140.5 L48.5,140.5 L49,140.5 L49.5,140.5 L50,140.5 L50.5,140.5 L51,140.5 L51.5,140.5 L52,140.5 L52.5,140.5 L53,140.5 L53.5,140.5 L54,140.5 L54.5,140.5 L55,140.5 L55.5,140.5 L56,140.5 L56.5,140.5 L57,140.5 L57.5,140.5 L58,140.5 L58.5,140.5 L59,140.5 L59.5,140.5 L60,140.5 L60.5,140.5 L61,140.5 L61.5,140.5 L62,140.5 L62.5,140.5 L63,140.5 L63.5,140.5 L64,140.5 L64.5,140.5 L65,140.5 L65.5,140.5 L66,140.5 L66.5,140.5 L67,140.5 L67.5,140.5 L68,140.5 L68.5,140.5 L69,140.5 L69.5,140.5 L70,140.5 L70.5,140.5 L71,140.5 L71.5,140.5 L72,140.5 L72.5,140.5 L73,140.5 L73.5,140.5 L74,140.5 L74.5,140.5 L75,140.5 L75.5,140.5 L76,140.5 L76.5,140.5 L77,140.5 L77.5,140.5 L78,140.5 L78.5,140.5 L79,140.5 L79.5,140.5 L80,140.5 L80.5,140.5 L81,140.5 L81.5,140.5 L82,140.5 L82.5,140.5 L83,140.5 L83.5,140.5 L84,140.5 L84.5,140.5 L85,140.5 L85.5,140.5 L86,140.5 L86.5,140.5 L87,140.5 L87.5,140.5 L88,140.5 L88.5,140.5 L89,140.5 L89.5,140.5 L90,140.5 L90.5,140.5 L91,140.5 L91.5,140.5 L92,140.5 L92.5,140.5 L93,140.5 L93.5,140.5 L94,140.5 L94.5,140.5 L95,140.5 L95.5,140.5 L96,140.5 L96.5,140.5 L97,140.5 L97.5,140.5 L98,140.5 L98.5,140.5 L99,140.5 L99.5,140.5 L100,140.5 L100.5,140.5 L101,140.5 L101.5,140.5 L102,140.5 L102.5,140.5 L103,140.5 L103.5,140.5 L104,140.5 L104.5,140.5 L105,140.5 L105.5,140.5 L106,140.5 L106.5,140.5 L107,140.5 L107.5,140.5 L108,140.5 L108.5,140.5 L109,140.5 L109.5,140.5 L110,140.5 L110.5,140.5 L111,140.5 L111.5,140.5 L112,140.5 L112.5,140.5 L113,140.5 L113.5,140.5 L114,140.5 L114.5,140.5 L115,140.5 L115.5,140.5 L116,140.5 L116.5,140.5 L117,140.5 L117.5,140.5 L118,140.5 L118.5,140.5 L119,140.5 L119.5,140.5 L120,140.5 L120.5,140.5 L121,140.5 L121.5,140.4 L122,140.4 L122.5,140.4 L123,140.4 L123.5,140.4 L124,140.4 L124.5,140.4 L125,140.4 L125.5,140.4 L126,140.4 L126.5,140.4 L127,140.4 L127.5,140.4 L128,140.4 L128.5,140.4 L129,140.4 L129.5,140.4 L130,140.4 L130.5,140.4 L131,140.4 L131.5,140.4 L132,140.4 L132.5,140.4 L133,140.4 L133.5,140.4 L134,140.4 L134.5,140.4 L135,140.4 L135.5,140.4 L136,140.4 L136.5,140.4 L137,140.4 L137.5,140.4 L138,140.4 L138.5,140.4 L139,140.4 L139.5,140.4 L140,140.4 L140.5,140.4 L141,140.4 L141.5,140.4 L142,140.4 L142.5,140.4 L143,140.4 L143.5,140.4 L144,140.4 L144.5,140.4 L145,140.4 L145.5,140.4 L146,140.4 L146.5,140.4 L147,140.4 L147.5,140.4 L148,140.4 L148.5,140.4 L149,140.4 L149.5,140.4 L150,140.4 L150.5,140.4 L151,140.4 L151.5,140.4 L152,140.4 L152.5,140.4 L153,140.4 L153.5,140.4 L154,140.4 L154.5,140.4 L155,140.4 L155.5,140.4 L156,140.4 L156.5,140.4 L157,140.4 L157.5,140.4 L158,140.4 L158.5,140.4 L159,140.4 L159.5,140.4 L160,140.4 L160.5,140.4 L161,140.4 L161.5,140.4 L162,140.4 L162.5,140.4 L163,140.4 L163.5,140.4 L164,140.4 L164.5,140.4 L165,140.4 L165.5,140.4 L166,140.4 L166.5,140.4 L167,140.4 L167.5,140.4 L168,140.4 L168.5,140.4 L169,140.4 L169.5,140.4 L170,140.4 L170.5,140.4 L171,140.4 L171.5,140.4 L172,140.4 L172.5,140.4 L173,140.4 L173.5,140.4 L174,140.4 L174.5,140.4 L175,140.4 L175.5,140.4 L176,140.4 L176.5,140.4 L177,140.4 L177.5,140.4 L178,140.4 L178.5,140.4 L179,140.4 L179.5,140.4 L180,140.4 L180.5,140.4 L181,140.4 L181.5,140.4 L182,140.4 L182.5,140.4 L183,140.4 L183.5,140.4 L184,140.4 L184.5,140.4 L185,140.4 L185.5,140.4 L186,140.4 L186.5,140.4 L187,140.4 L187.5,140.4 L188,140.4 L188.5,140.4 L189,140.4 L189.5,140.4 L190,140.4 L190.5,140.4 L191,140.4 L191.5,140.4 L192,140.4 L192.5,140.4 L193,140.4 L193.5,140.4 L194,140.4 L194.5,140.4 L195,140.4 L195.5,140.4 L196,140.4 L196.5,140.4 L197,140.4 L197.5,140.4 L198,140.4 L198.5,140.4 L199,140.4 L199.5,140.4 L200,140.4 L200.5,140.4 L201,140.4 L201.5,140.4 L202,140.4 L202.5,140.4 L203,140.4 L203.5,140.4 L204,140.4 L204.5,140.4 L205,140.4 L205.5,140.4 L206,140.4 L206.5,140.4 L207,140.4 L207.5,140.4 L208,140.4 L208.5,140.4 L209,140.4 L209.5,140.4 L210,140.4 L210.5,140.4 L211,140.4 L211.5,140.4 L212,140.4 L212.5,140.4 L213,140.4 L213.5,140.4 L214,140.4 L214.5,140.4 L215,140.4 L215.5,140.4 L216,140.4 L216.5,140.4 L217,140.4 L217.5,140.4 L218,140.4 L218.5,140.4 L219,140.4 L219.5,140.4 L220,140.4 L220.5,140.4 L221,140.4 L221.5,140.4 L222,140.4 L222.5,140.4 L223,140.4 L223.5,140.4 L224,140.4 L224.5,140.4 L225,140.4 L225.5,140.4 L226,140.4 L226.5,140.4 L227,140.4 L227.5,140.4 L228,140.4 L228.5,140.4 L229,140.4 L229.5,140.4 L230,140.4 L230.5,140.4 L231,140.4 L231.5,140.4 L232,140.4 L232.5,140.4 L233,140.4 L233.5,140.4 L234,140.4 L234.5,140.4 L235,140.4 L235.5,140.4 L236,140.4 L236.5,140.4 L237,140.4 L237.5,140.4 L238,140.4 L238.5,140.4 L239,140.4 L239.5,140.4 L240,140.4 L240.5,140.4 L241,140.4 L241.5,140.4 L242,140.4 L242.5,140.4 L243,140.4 L243.5,140.4 L244,140.4 L244.5,140.4 L245,140.4 L245.5,140.4 L246,140.4 L246.5,140.4 L247,140.3 L247.5,140.3 L248,140.3 L248.5,140.3 L249,140.3 L249.5,140.3 L250,140.3 L250.5,140.3 L251,140.3 L251.5,140.3 L252,140.3 L252.5,140.3 L253,140.3 L253.5,140.3 L254,140.3 L254.5,140.3 L255,140.3 L255.5,140.3 L256,140.3 L256.5,140.3 L257,140.3 L257.5,140.3 L258,140.3 L258.5,140.3 L259,140.3 L259.5,140.3 L260,140.3 L260.5,140.3 L261,140.3 L261.5,140.3 L262,140.3 L262.5,140.3 L263,140.3 L263.5,140.3 L264,140.3 L264.5,140.3 L265,140.3 L265.5,140.3 L266,140.3 L266.5,140.3 L267,140.3 L267.5,140.3 L268,140.3 L268.5,140.3 L269,140.3 L269.5,140.3 L270,140.3 L270.5,140.3 L271,140.3 L271.5,140.3 L272,140.3 L272.5,140.3 L273,140.3 L273.5,140.3 L274,140.3 L274.5,140.3 L275,140.3 L275.5,140.3 L276,140.3 L276.5,140.3 L277,140.3 L277.5,140.3 L278,140.3 L278.5,140.3 L279,140.3 L279.5,140.3 L280,140.3 L280.5,140.3 L281,140.3 L281.5,140.3 L282,140.3 L282.5,140.3 L283,140.3 L283.5,140.3 L284,140.3 L284.5,140.3 L285,140.3 L285.5,140.3 L286,140.3 L286.5,140.3 L287,140.3 L287.5,140.3 L288,140.3 L288.5,140.3 L289,140.3 L289.5,140.3 L290,140.3 L290.5,140.3 L291,140.3 L291.5,140.3 L292,140.3 L292.5,140.3 L293,140.3 L293.5,140.3 L294,140.3 L294.5,140.3 L295,140.3 L295.5,140.3 L296,140.3 L296.5,140.3 L297,140.3 L297.5,140.3 L298,140.3 L298.5,140.3 L299,140.3 L299.5,140.3 L300,140.3 L300.5,140.3 L301,140.3 L301.5,140.3 L302,140.3 L302.5,140.3 L303,140.3 L303.5,140.3 L304,140.3 L304.5,140.3 L305,140.3 L305.5,140.3 L306,140.3 L306.5,140.3 L307,140.3 L307.5,140.3 L308,140.3 L308.5,140.3 L309,140.3 L309.5,140.3 L310,140.3 L310.5,140.3 L311,140.3 L311.5,140.3 L312,140.3 L312.5,140.3 L313,140.3 L313.5,140.3 L314,140.3 L314.5,140.3 L315,140.3 L315.5,140.3 L316,140.3 L316.5,140.3 L317,140.3 L317.5,140.3 L318,140.3 L318.5,140.3 L319,140.3 L319.5,140.3 L320,140.3 L320.5,140.3 L321,140.3 L321.5,140.3 L322,140.3 L322.5,140.3 L323,140.3 L323.5,140.3 L324,140.3 L324.5,140.3 L325,140.3 L325.5,140.3 L326,140.3 L326.5,140.3 L327,140.3 L327.5,140.3 L328,140.3 L328.5,140.3 L329,140.3 L329.5,140.3 L330,140.3 L330.5,140.3 L331,140.3 L331.5,140.3 L332,140.3 L332.5,140.3 L333,140.3 L333.5,140.3 L334,140.3 L334.5,140.3 L335,140.3 L335.5,140.3 L336,140.3 L336.5,140.3 L337,140.3 L337.5,140.3 L338,140.3 L338.5,140.3 L339,140.3 L339.5,140.3 L340,140.2 L340.5,140.2 L341,140.2 L341.5,140.2 L342,140.2 L342.5,140.2 L343,140.2 L343.5,140.2 L344,140.2 L344.5,140.2 L345,140.2 L345.5,140.2 L346,140.2 L346.5,140.2 L347,140.2 L347.5,140.2 L348,140.2 L348.5,140.2 L349,140.2 L349.5,140.2 L350,140.2 L350.5,140.2 L351,140.2 L351.5,140.2 L352,140.3 L352.5,140.3 L353,140.3 L353.5,140.3 L354,140.3 L354.5,140.4 L355,140.4 L355.5,140.4 L356,140.5 L356.5,140.5 L357,140.5 L357.5,140.6 L358,140.6 L358.5,140.7 L359,140.7 L359.5,140.8 L360,140.8 L360.5,140.9 L361,141 L361.5,141.1 L362,141.2 L362.5,141.3 L363,141.4 L363.5,141.5 L364,141.7 L364.5,141.8 L365,142 L365.5,142.2 L366,142.4 L366.5,142.8 L367,143.1 L367.5,143.6 L368,144.1 L368.5,144.7 L369,145.7 L369.5,147 L370,148.3 L370.5,149.5 L371,150.4 L371.5,150.7 L372,150.5 L372.5,149.8 L373,149 L373.5,148 L374,147.1 L374.5,146.5 L375,145.9 L375.5,145.2 L376,144.7 L376.5,144.2 L377,143.8 L377.5,143.6 L378,143.5 L378.5,143.4 L379,143.4 L379.5,143.3 L380,143.3 L380.5,143.3 L381,143.6 L381.5,144 L382,144.6 L382.5,145.3 L383,145.8 L383.5,146.2 L384,146.4 L384.5,146.3 L385,146 L385.5,145.6 L386,145.1 L386.5,144.6 L387,144.1 L387.5,143.8 L388,143.5 L388.5,143.2 L389,143 L389.5,142.8 L390,142.5 L390.5,142.3 L391,142.1 L391.5,141.9 L392,141.6 L392.5,141.4 L393,141.1 L393.5,140.9 L394,140.7 L394.5,140.5 L395,140.4 L395.5,140.4 L396,140.4 L396.5,140.6 L397,140.9 L397.5,141.2 L398,141.6 L398.5,141.8 L399,141.9 L399.5,141.9 L400,141.9 L400.5,141.8 L401,141.7 L401.5,141.6 L402,141.5 L402.5,141.4 L403,141.1 L403.5,140.8 L404,140.5 L404.5,140.2 L405,139.9 L405.5,139.7 L406,139.6 L406.5,139.5 L407,139.4 L407.5,139.3 L408,139.3 L408.5,139.2 L409,139.2 L409.5,139.1 L410,139.1 L410.5,139.1 L411,139.2 L411.5,139.2 L412,139.3 L412.5,139.4 L413,139.5 L413.5,139.6 L414,139.6 L414.5,139.7 L415,139.7 L415.5,139.7 L416,139.7 L416.5,139.8 L417,139.8 L417.5,139.8 L418,139.8 L418.5,139.8 L419,139.8 L419.5,139.8 L420,139.8 L420.5,139.8 L421,139.8 L421.5,139.8 L422,139.8 L422.5,139.8 L423,139.8 L423.5,139.8 L424,139.9 L424.5,139.9 L425,139.9 L425.5,139.9 L426,139.9 L426.5,139.9 L427,139.9 L427.5,139.9 L428,139.9 L428.5,139.9 L429,139.9 L429.5,139.9 L430,139.9 L430.5,139.9 L431,140 L431.5,140 L432,140 L432.5,140 L433,140 L433.5,140 L434,140 L434.5,140 L435,140 L435.5,140 L436,140 L436.5,140 L437,140 L437.5,140 L438,140 L438.5,140 L439,140.1 L439.5,140.1 L440,140.1 L440.5,140.1 L441,140.1 L441.5,140.1 L442,140.1 L442.5,140.1 L443,140.1 L443.5,140.1 L444,140.1 L444.5,140.1 L445,140.1 L445.5,140.1 L446,140.1 L446.5,140.1 L447,140.1 L447.5,140.1 L448,140.1 L448.5,140.1 L449,140 L449.5,140 L450,140 L450.5,140 L451,140 L451.5,140 L452,140 L452.5,140 L453,140 L453.5,140 L454,140 L454.5,140 L455,140 L455.5,140 L456,140 L456.5,140 L457,140 L457.5,140 L458,140 L458.5,140 L459,140 L459.5,140 L460,140 L460.5,140 L461,140 L461.5,140 L462,140 L462.5,140 L463,140 L463.5,140 L464,140 L464.5,140 L465,140 L465.5,140 L466,140 L466.5,140 L467,140 L467.5,140 L468,140 L468.5,140 L469,140 L469.5,140 L470,140 L470.5,140 L471,140 L471.5,140 L472,140 L472.5,140 L473,140 L473.5,140 L474,140 L474.5,140 L475,140 L475.5,140 L476,140 L476.5,140 L477,140 L477.5,140 L478,140 L478.5,140 L479,140 L479.5,140 L480,140 L480.5,140 L481,140 L481.5,140 L482,140 L482.5,140 L483,140 L483.5,140 L484,140 L484.5,140 L485,140 L485.5,140 L486,140 L486.5,140 L487,140 L487.5,140 L488,140 L488.5,140 L489,140 L489.5,140 L490,140 L490.5,140 L491,140 L491.5,140 L492,140 L492.5,140 L493,140 L493.5,140 L494,140 L494.5,140 L495,140 L495.5,140 L496,140 L496.5,140 L497,140 L497.5,140 L498,140 L498.5,140 L499,140 L499.5,140 L500,140 L500.5,140 L501,140 L501.5,140 L502,140 L502.5,140 L503,140 L503.5,140 L504,140 L504.5,140 L505,140 L505.5,140 L506,140 L506.5,140 L507,140 L507.5,140 L508,140 L508.5,140 L509,140 L509.5,140 L510,139.9 L510.5,139.9 L511,139.9 L511.5,139.9 L512,139.9 L512.5,139.9 L513,139.9 L513.5,139.9 L514,139.9 L514.5,139.9 L515,139.9 L515.5,139.9 L516,139.9 L516.5,139.9 L517,139.9 L517.5,139.9 L518,139.9 L518.5,139.9 L519,139.9 L519.5,139.9 L520,139.9 L520.5,139.9 L521,139.9 L521.5,139.9 L522,139.9 L522.5,139.9 L523,139.9 L523.5,139.9 L524,139.9 L524.5,139.9 L525,139.9 L525.5,139.9 L526,139.9 L526.5,139.9 L527,139.9 L527.5,139.9 L528,139.9 L528.5,139.9 L529,139.9 L529.5,139.9 L530,139.9 L530.5,139.9 L531,139.9 L531.5,139.9 L532,139.9 L532.5,139.9 L533,139.9 L533.5,139.9 L534,139.9 L534.5,139.9 L535,139.9 L535.5,139.9 L536,139.9 L536.5,139.9 L537,139.9 L537.5,139.9 L538,139.9 L538.5,139.9 L539,139.9 L539.5,139.9 L540,139.9 L540.5,139.9 L541,139.9 L541.5,139.9 L542,139.9 L542.5,139.9 L543,139.9 L543.5,139.9 L544,139.9 L544.5,139.9 L545,139.9 L545.5,139.9 L546,139.9 L546.5,139.9 L547,139.9 L547.5,139.9 L548,139.9 L548.5,139.9 L549,139.9 L549.5,139.9 L550,139.9 L550.5,139.9 L551,139.9 L551.5,139.9 L552,139.9 L552.5,139.9 L553,139.9 L553.5,139.9 L554,139.9 L554.5,139.9 L555,139.9 L555.5,139.9 L556,139.9 L556.5,139.9 L557,139.9 L557.5,139.9 L558,139.9 L558.5,139.9 L559,139.9 L559.5,139.9 L560,139.9 L560.5,139.9 L561,139.9 L561.5,139.9 L562,139.9 L562.5,139.9 L563,139.9 L563.5,139.9 L564,139.9 L564.5,139.9 L565,139.9 L565.5,139.9 L566,139.9 L566.5,139.9 L567,139.9 L567.5,139.9 L568,139.9 L568.5,139.9 L569,139.9 L569.5,139.9 L570,139.9 L570.5,139.9 L571,139.9 L571.5,139.9 L572,139.9 L572.5,139.9 L573,139.9 L573.5,139.9 L574,139.9 L574.5,139.9 L575,139.9 L575.5,139.9 L576,139.9 L576.5,139.9 L577,139.9 L577.5,139.9 L578,139.9 L578.5,139.9 L579,139.9 L579.5,139.9 L580,139.9 L580.5,139.9 L581,139.9 L581.5,139.9 L582,139.9 L582.5,139.9 L583,139.9 L583.5,139.9 L584,139.9 L584.5,139.9 L585,139.9 L585.5,139.9 L586,139.9 L586.5,139.9 L587,139.9 L587.5,139.9 L588,139.9 L588.5,139.9 L589,139.9 L589.5,139.9 L590,139.9 L590.5,139.9 L591,139.9 L591.5,139.9 L592,139.9 L592.5,139.9 L593,139.9 L593.5,139.9 L594,139.9 L594.5,139.9 L595,139.9 L595.5,139.9 L596,139.9 L596.5,139.9 L597,139.9 L597.5,139.9 L598,139.9 L598.5,139.9 L599,139.9 L599.5,139.9 L600,139.9 L600.5,139.9 L601,139.9 L601.5,139.9 L602,139.9 L602.5,139.9 L603,139.9 L603.5,139.9 L604,139.9 L604.5,139.9 L605,139.9 L605.5,139.9 L606,139.9 L606.5,139.9 L607,139.9 L607.5,139.9 L608,139.9 L608.5,139.9 L609,139.9 L609.5,139.9 L610,139.9 L610.5,139.8 L611,139.8 L611.5,139.8 L612,139.7 L612.5,139.6 L613,139.5 L613.5,139.3 L614,139 L614.5,138.7 L615,138.4 L615.5,138 L616,137.5 L616.5,136.9 L617,136.4 L617.5,135.8 L618,135.3 L618.5,134.8 L619,134.4 L619.5,134.1 L620,133.9 L620.5,133.9 L621,134 L621.5,134.2 L622,134.5 L622.5,134.8 L623,135.2 L623.5,135.7 L624,136.2 L624.5,136.6 L625,137.1 L625.5,137.5 L626,138 L626.5,138.3 L627,138.6 L627.5,138.9 L628,139.1 L628.5,139.3 L629,139.5 L629.5,139.6 L630,139.7 L630.5,139.7 L631,139.8 L631.5,139.8 L632,139.8 L632.5,139.9 L633,139.9 L633.5,139.9 L634,139.9 L634.5,139.9 L635,139.9 L635.5,139.9 L636,139.9 L636.5,139.9 L637,139.9 L637.5,139.9 L638,139.9 L638.5,139.9 L639,139.9 L639.5,139.9 L640,139.9 L640.5,139.9 L641,139.9 L641.5,139.9 L642,139.9 L642.5,139.9 L643,139.9 L643.5,139.9 L644,139.9 L644.5,139.9 L645,139.9 L645.5,139.9 L646,139.9 L646.5,139.9 L647,139.9 L647.5,139.9 L648,139.9 L648.5,139.9 L649,139.9 L649.5,139.9 L650,139.9 L650.5,139.9 L651,139.9 L651.5,139.9 L652,139.9 L652.5,139.9 L653,139.9 L653.5,139.9 L654,139.9 L654.5,139.9 L655,139.9 L655.5,139.9 L656,139.9 L656.5,139.9 L657,139.9 L657.5,139.9 L658,139.9 L658.5,139.9 L659,139.9 L659.5,139.9 L660,139.9 L660.5,139.9 L661,139.9 L661.5,139.9 L662,139.9 L662.5,139.9 L663,139.9 L663.5,139.9 L664,139.9 L664.5,139.9 L665,139.9 L665.5,139.9 L666,139.9 L666.5,139.9 L667,139.9 L667.5,139.9 L668,139.9 L668.5,139.9 L669,139.9 L669.5,139.9 L670,139.9 L670.5,139.9 L671,139.9 L671.5,139.9 L672,139.9 L672.5,139.9 L673,139.9 L673.5,139.9 L674,139.9 L674.5,139.9 L675,139.9 L675.5,139.9 L676,139.9 L676.5,139.9 L677,139.9 L677.5,139.9 L678,139.9 L678.5,139.9 L679,139.9 L679.5,139.9 L680,139.9 L680.5,139.9 L681,139.9 L681.5,139.9 L682,139.9 L682.5,139.9 L683,139.9 L683.5,139.9 L684,139.9 L684.5,139.9 L685,139.9 L685.5,139.9 L686,139.9 L686.5,139.9 L687,139.9 L687.5,139.9 L688,139.9 L688.5,139.9" fill="none" stroke="#8e2323" stroke-width="1.4"/>
<path d="M28,180.5 L28.5,180.5 L29,180.5 L29.5,180.5 L30,180.5 L30.5,180.5 L31,180.5 L31.5,180.5 L32,180.5 L32.5,180.5 L33,180.5 L33.5,180.5 L34,180.5 L34.5,180.5 L35,180.5 L35.5,180.5 L36,180.5 L36.5,180.5 L37,180.5 L37.5,180.5 L38,180.5 L38.5,180.5 L39,180.5 L39.5,180.5 L40,180.5 L40.5,180.5 L41,180.5 L41.5,180.5 L42,180.5 L42.5,180.5 L43,180.5 L43.5,180.5 L44,180.5 L44.5,180.5 L45,180.5 L45.5,180.5 L46,180.5 L46.5,180.5 L47,180.5 L47.5,180.5 L48,180.5 L48.5,180.5 L49,180.5 L49.5,180.5 L50,180.5 L50.5,180.5 L51,180.5 L51.5,180.5 L52,180.5 L52.5,180.5 L53,180.5 L53.5,180.5 L54,180.5 L54.5,180.5 L55,180.5 L55.5,180.5 L56,180.5 L56.5,180.5 L57,180.5 L57.5,180.5 L58,180.5 L58.5,180.5 L59,180.5 L59.5,180.5 L60,180.5 L60.5,180.5 L61,180.5 L61.5,180.5 L62,180.5 L62.5,180.5 L63,180.5 L63.5,180.5 L64,180.5 L64.5,180.5 L65,180.5 L65.5,180.5 L66,180.5 L66.5,180.5 L67,180.5 L67.5,180.5 L68,180.5 L68.5,180.5 L69,180.5 L69.5,180.5 L70,180.5 L70.5,180.5 L71,180.5 L71.5,180.5 L72,180.5 L72.5,180.5 L73,180.5 L73.5,180.5 L74,180.5 L74.5,180.5 L75,180.5 L75.5,180.5 L76,180.5 L76.5,180.5 L77,180.5 L77.5,180.5 L78,180.5 L78.5,180.5 L79,180.5 L79.5,180.5 L80,180.5 L80.5,180.5 L81,180.5 L81.5,180.5 L82,180.5 L82.5,180.5 L83,180.5 L83.5,180.5 L84,180.5 L84.5,180.5 L85,180.5 L85.5,180.5 L86,180.5 L86.5,180.5 L87,180.5 L87.5,180.5 L88,180.5 L88.5,180.5 L89,180.5 L89.5,180.5 L90,180.5 L90.5,180.5 L91,180.5 L91.5,180.5 L92,180.5 L92.5,180.5 L93,180.5 L93.5,180.5 L94,180.5 L94.5,180.5 L95,180.5 L95.5,180.5 L96,180.5 L96.5,180.5 L97,180.5 L97.5,180.5 L98,180.5 L98.5,180.5 L99,180.5 L99.5,180.5 L100,180.5 L100.5,180.5 L101,180.5 L101.5,180.5 L102,180.5 L102.5,180.5 L103,180.5 L103.5,180.5 L104,180.5 L104.5,180.5 L105,180.5 L105.5,180.5 L106,180.5 L106.5,180.5 L107,180.5 L107.5,180.5 L108,180.5 L108.5,180.5 L109,180.5 L109.5,180.5 L110,180.5 L110.5,180.5 L111,180.5 L111.5,180.5 L112,180.5 L112.5,180.5 L113,180.5 L113.5,180.5 L114,180.5 L114.5,180.5 L115,180.5 L115.5,180.5 L116,180.5 L116.5,180.5 L117,180.5 L117.5,180.5 L118,180.5 L118.5,180.5 L119,180.5 L119.5,180.5 L120,180.5 L120.5,180.5 L121,180.5 L121.5,180.5 L122,180.5 L122.5,180.5 L123,180.5 L123.5,180.5 L124,180.5 L124.5,180.5 L125,180.5 L125.5,180.5 L126,180.5 L126.5,180.5 L127,180.5 L127.5,180.5 L128,180.5 L128.5,180.5 L129,180.5 L129.5,180.5 L130,180.5 L130.5,180.5 L131,180.5 L131.5,180.5 L132,180.5 L132.5,180.5 L133,180.5 L133.5,180.5 L134,180.5 L134.5,180.5 L135,180.5 L135.5,180.5 L136,180.5 L136.5,180.5 L137,180.5 L137.5,180.5 L138,180.5 L138.5,180.5 L139,180.5 L139.5,180.5 L140,180.5 L140.5,180.5 L141,180.5 L141.5,180.5 L142,180.5 L142.5,180.5 L143,180.5 L143.5,180.5 L144,180.5 L144.5,180.5 L145,180.5 L145.5,180.5 L146,180.5 L146.5,180.5 L147,180.5 L147.5,180.5 L148,180.5 L148.5,180.5 L149,180.5 L149.5,180.5 L150,180.5 L150.5,180.5 L151,180.5 L151.5,180.5 L152,180.5 L152.5,180.5 L153,180.5 L153.5,180.5 L154,180.5 L154.5,180.5 L155,180.5 L155.5,180.5 L156,180.5 L156.5,180.5 L157,180.5 L157.5,180.5 L158,180.5 L158.5,180.5 L159,180.5 L159.5,180.5 L160,180.5 L160.5,180.5 L161,180.5 L161.5,180.5 L162,180.5 L162.5,180.5 L163,180.5 L163.5,180.5 L164,180.5 L164.5,180.5 L165,180.5 L165.5,180.5 L166,180.5 L166.5,180.5 L167,180.5 L167.5,180.5 L168,180.5 L168.5,180.5 L169,180.5 L169.5,180.5 L170,180.5 L170.5,180.5 L171,180.5 L171.5,180.5 L172,180.5 L172.5,180.5 L173,180.5 L173.5,180.5 L174,180.5 L174.5,180.5 L175,180.5 L175.5,180.5 L176,180.5 L176.5,180.5 L177,180.5 L177.5,180.5 L178,180.5 L178.5,180.5 L179,180.5 L179.5,180.5 L180,180.5 L180.5,180.5 L181,180.5 L181.5,180.5 L182,180.5 L182.5,180.5 L183,180.5 L183.5,180.5 L184,180.5 L184.5,180.5 L185,180.5 L185.5,180.5 L186,180.5 L186.5,180.5 L187,180.5 L187.5,180.5 L188,180.5 L188.5,180.5 L189,180.5 L189.5,180.5 L190,180.5 L190.5,180.5 L191,180.5 L191.5,180.5 L192,180.5 L192.5,180.5 L193,180.5 L193.5,180.5 L194,180.5 L194.5,180.5 L195,180.5 L195.5,180.5 L196,180.5 L196.5,180.5 L197,180.5 L197.5,180.5 L198,180.5 L198.5,180.5 L199,180.5 L199.5,180.5 L200,180.5 L200.5,180.5 L201,180.5 L201.5,180.5 L202,180.5 L202.5,180.5 L203,180.5 L203.5,180.5 L204,180.5 L204.5,180.5 L205,180.5 L205.5,180.5 L206,180.5 L206.5,180.5 L207,180.5 L207.5,180.4 L208,180.4 L208.5,180.4 L209,180.4 L209.5,180.4 L210,180.4 L210.5,180.4 L211,180.4 L211.5,180.4 L212,180.4 L212.5,180.4 L213,180.4 L213.5,180.4 L214,180.4 L214.5,180.4 L215,180.4 L215.5,180.4 L216,180.4 L216.5,180.4 L217,180.4 L217.5,180.4 L218,180.4 L218.5,180.4 L219,180.4 L219.5,180.4 L220,180.4 L220.5,180.4 L221,180.4 L221.5,180.4 L222,180.4 L222.5,180.4 L223,180.4 L223.5,180.4 L224,180.4 L224.5,180.4 L225,180.4 L225.5,180.4 L226,180.4 L226.5,180.4 L227,180.4 L227.5,180.4 L228,180.4 L228.5,180.4 L229,180.4 L229.5,180.4 L230,180.4 L230.5,180.4 L231,180.4 L231.5,180.4 L232,180.4 L232.5,180.4 L233,180.4 L233.5,180.4 L234,180.4 L234.5,180.4 L235,180.4 L235.5,180.4 L236,180.4 L236.5,180.4 L237,180.4 L237.5,180.4 L238,180.4 L238.5,180.4 L239,180.4 L239.5,180.4 L240,180.4 L240.5,180.4 L241,180.4 L241.5,180.4 L242,180.4 L242.5,180.4 L243,180.4 L243.5,180.4 L244,180.4 L244.5,180.4 L245,180.4 L245.5,180.4 L246,180.4 L246.5,180.4 L247,180.4 L247.5,180.4 L248,180.4 L248.5,180.4 L249,180.4 L249.5,180.4 L250,180.4 L250.5,180.4 L251,180.4 L251.5,180.4 L252,180.4 L252.5,180.4 L253,180.4 L253.5,180.4 L254,180.4 L254.5,180.4 L255,180.4 L255.5,180.4 L256,180.4 L256.5,180.4 L257,180.4 L257.5,180.4 L258,180.4 L258.5,180.4 L259,180.4 L259.5,180.4 L260,180.4 L260.5,180.4 L261,180.4 L261.5,180.4 L262,180.4 L262.5,180.4 L263,180.4 L263.5,180.4 L264,180.4 L264.5,180.4 L265,180.4 L265.5,180.4 L266,180.4 L266.5,180.4 L267,180.4 L267.5,180.4 L268,180.4 L268.5,180.4 L269,180.4 L269.5,180.4 L270,180.4 L270.5,180.4 L271,180.4 L271.5,180.4 L272,180.4 L272.5,180.4 L273,180.4 L273.5,180.4 L274,180.4 L274.5,180.4 L275,180.4 L275.5,180.4 L276,180.4 L276.5,180.4 L277,180.4 L277.5,180.4 L278,180.4 L278.5,180.4 L279,180.4 L279.5,180.4 L280,180.4 L280.5,180.4 L281,180.4 L281.5,180.4 L282,180.4 L282.5,180.4 L283,180.4 L283.5,180.4 L284,180.4 L284.5,180.4 L285,180.4 L285.5,180.4 L286,180.4 L286.5,180.4 L287,180.4 L287.5,180.4 L288,180.4 L288.5,180.4 L289,180.4 L289.5,180.4 L290,180.4 L290.5,180.4 L291,180.4 L291.5,180.4 L292,180.4 L292.5,180.4 L293,180.4 L293.5,180.4 L294,180.4 L294.5,180.4 L295,180.4 L295.5,180.4 L296,180.4 L296.5,180.4 L297,180.4 L297.5,180.4 L298,180.4 L298.5,180.4 L299,180.4 L299.5,180.4 L300,180.4 L300.5,180.4 L301,180.4 L301.5,180.4 L302,180.4 L302.5,180.4 L303,180.4 L303.5,180.4 L304,180.4 L304.5,180.4 L305,180.4 L305.5,180.4 L306,180.4 L306.5,180.4 L307,180.4 L307.5,180.4 L308,180.4 L308.5,180.4 L309,180.4 L309.5,180.4 L310,180.4 L310.5,180.4 L311,180.4 L311.5,180.4 L312,180.4 L312.5,180.4 L313,180.4 L313.5,180.4 L314,180.4 L314.5,180.4 L315,180.4 L315.5,180.4 L316,180.4 L316.5,180.4 L317,180.4 L317.5,180.4 L318,180.4 L318.5,180.4 L319,180.4 L319.5,180.4 L320,180.4 L320.5,180.4 L321,180.4 L321.5,180.4 L322,180.4 L322.5,180.4 L323,180.4 L323.5,180.4 L324,180.4 L324.5,180.4 L325,180.4 L325.5,180.4 L326,180.4 L326.5,180.4 L327,180.4 L327.5,180.4 L328,180.4 L328.5,180.4 L329,180.4 L329.5,180.4 L330,180.4 L330.5,180.4 L331,180.4 L331.5,180.4 L332,180.4 L332.5,180.4 L333,180.4 L333.5,180.4 L334,180.4 L334.5,180.4 L335,180.4 L335.5,180.4 L336,180.4 L336.5,180.4 L337,180.4 L337.5,180.4 L338,180.4 L338.5,180.4 L339,180.4 L339.5,180.4 L340,180.4 L340.5,180.4 L341,180.4 L341.5,180.4 L342,180.4 L342.5,180.4 L343,180.4 L343.5,180.4 L344,180.4 L344.5,180.4 L345,180.4 L345.5,180.4 L346,180.4 L346.5,180.4 L347,180.4 L347.5,180.4 L348,180.4 L348.5,180.4 L349,180.4 L349.5,180.4 L350,180.4 L350.5,180.4 L351,180.4 L351.5,180.4 L352,180.4 L352.5,180.4 L353,180.4 L353.5,180.5 L354,180.5 L354.5,180.5 L355,180.5 L355.5,180.6 L356,180.6 L356.5,180.6 L357,180.7 L357.5,180.7 L358,180.8 L358.5,180.8 L359,180.9 L359.5,180.9 L360,181 L360.5,181 L361,181.1 L361.5,181.2 L362,181.3 L362.5,181.4 L363,181.5 L363.5,181.7 L364,181.8 L364.5,182 L365,182.1 L365.5,182.3 L366,182.6 L366.5,182.9 L367,183.3 L367.5,183.7 L368,184.2 L368.5,184.9 L369,185.9 L369.5,187.2 L370,188.5 L370.5,189.7 L371,190.5 L371.5,190.8 L372,190.6 L372.5,190 L373,189.1 L373.5,188.2 L374,187.3 L374.5,186.6 L375,186 L375.5,185.4 L376,184.8 L376.5,184.3 L377,183.9 L377.5,183.7 L378,183.7 L378.5,183.6 L379,183.5 L379.5,183.5 L380,183.4 L380.5,183.5 L381,183.7 L381.5,184.2 L382,184.8 L382.5,185.4 L383,186 L383.5,186.4 L384,186.5 L384.5,186.4 L385,186.1 L385.5,185.7 L386,185.2 L386.5,184.7 L387,184.3 L387.5,183.9 L388,183.7 L388.5,183.4 L389,183.2 L389.5,182.9 L390,182.7 L390.5,182.5 L391,182.3 L391.5,182.1 L392,181.8 L392.5,181.6 L393,181.3 L393.5,181.1 L394,180.9 L394.5,180.7 L395,180.6 L395.5,180.5 L396,180.6 L396.5,180.8 L397,181 L397.5,181.4 L398,181.7 L398.5,182 L399,182.1 L399.5,182.1 L400,182.1 L400.5,182 L401,181.9 L401.5,181.8 L402,181.7 L402.5,181.6 L403,181.3 L403.5,181 L404,180.7 L404.5,180.3 L405,180.1 L405.5,179.9 L406,179.8 L406.5,179.7 L407,179.6 L407.5,179.5 L408,179.5 L408.5,179.4 L409,179.4 L409.5,179.3 L410,179.3 L410.5,179.3 L411,179.4 L411.5,179.4 L412,179.5 L412.5,179.6 L413,179.7 L413.5,179.7 L414,179.8 L414.5,179.9 L415,179.9 L415.5,179.9 L416,179.9 L416.5,179.9 L417,180 L417.5,180 L418,180 L418.5,180 L419,180 L419.5,180 L420,180 L420.5,180 L421,180 L421.5,180 L422,180 L422.5,180 L423,180 L423.5,180 L424,180.1 L424.5,180.1 L425,180.1 L425.5,180.1 L426,180.1 L426.5,180.1 L427,180.1 L427.5,180.1 L428,180.1 L428.5,180.1 L429,180.1 L429.5,180.1 L430,180.1 L430.5,180.2 L431,180.2 L431.5,180.2 L432,180.2 L432.5,180.2 L433,180.2 L433.5,180.2 L434,180.2 L434.5,180.2 L435,180.2 L435.5,180.2 L436,180.2 L436.5,180.2 L437,180.2 L437.5,180.2 L438,180.3 L438.5,180.3 L439,180.3 L439.5,180.3 L440,180.3 L440.5,180.3 L441,180.3 L441.5,180.3 L442,180.3 L442.5,180.3 L443,180.3 L443.5,180.3 L444,180.3 L444.5,180.3 L445,180.3 L445.5,180.3 L446,180.3 L446.5,180.3 L447,180.3 L447.5,180.3 L448,180.3 L448.5,180.3 L449,180.3 L449.5,180.3 L450,180.3 L450.5,180.3 L451,180.3 L451.5,180.3 L452,180.3 L452.5,180.3 L453,180.3 L453.5,180.3 L454,180.3 L454.5,180.3 L455,180.3 L455.5,180.3 L456,180.3 L456.5,180.3 L457,180.3 L457.5,180.3 L458,180.3 L458.5,180.3 L459,180.2 L459.5,180.2 L460,180.2 L460.5,180.2 L461,180.2 L461.5,180.2 L462,180.2 L462.5,180.2 L463,180.2 L463.5,180.2 L464,180.2 L464.5,180.2 L465,180.2 L465.5,180.2 L466,180.2 L466.5,180.2 L467,180.2 L467.5,180.2 L468,180.2 L468.5,180.2 L469,180.2 L469.5,180.2 L470,180.2 L470.5,180.2 L471,180.2 L471.5,180.2 L472,180.2 L472.5,180.2 L473,180.2 L473.5,180.2 L474,180.2 L474.5,180.2 L475,180.2 L475.5,180.2 L476,180.2 L476.5,180.2 L477,180.2 L477.5,180.2 L478,180.2 L478.5,180.2 L479,180.2 L479.5,180.2 L480,180.2 L480.5,180.2 L481,180.2 L481.5,180.2 L482,180.2 L482.5,180.2 L483,180.2 L483.5,180.2 L484,180.2 L484.5,180.2 L485,180.2 L485.5,180.2 L486,180.2 L486.5,180.2 L487,180.2 L487.5,180.2 L488,180.2 L488.5,180.2 L489,180.2 L489.5,180.2 L490,180.2 L490.5,180.2 L491,180.2 L491.5,180.2 L492,180.2 L492.5,180.2 L493,180.2 L493.5,180.2 L494,180.2 L494.5,180.2 L495,180.2 L495.5,180.2 L496,180.2 L496.5,180.2 L497,180.2 L497.5,180.2 L498,180.2 L498.5,180.2 L499,180.2 L499.5,180.2 L500,180.2 L500.5,180.2 L501,180.2 L501.5,180.2 L502,180.2 L502.5,180.2 L503,180.2 L503.5,180.2 L504,180.2 L504.5,180.2 L505,180.2 L505.5,180.2 L506,180.2 L506.5,180.2 L507,180.2 L507.5,180.2 L508,180.2 L508.5,180.2 L509,180.2 L509.5,180.2 L510,180.2 L510.5,180.2 L511,180.2 L511.5,180.2 L512,180.2 L512.5,180.2 L513,180.2 L513.5,180.2 L514,180.2 L514.5,180.2 L515,180.2 L515.5,180.2 L516,180.2 L516.5,180.2 L517,180.1 L517.5,180.1 L518,180.1 L518.5,180.1 L519,180.1 L519.5,180.1 L520,180.1 L520.5,180.1 L521,180.1 L521.5,180.1 L522,180.1 L522.5,180.1 L523,180.1 L523.5,180.1 L524,180.1 L524.5,180.1 L525,180.1 L525.5,180.1 L526,180.1 L526.5,180.1 L527,180.1 L527.5,180.1 L528,180.1 L528.5,180.1 L529,180.1 L529.5,180.1 L530,180.1 L530.5,180.1 L531,180.1 L531.5,180.1 L532,180.1 L532.5,180.1 L533,180.1 L533.5,180.1 L534,180.1 L534.5,180.1 L535,180.1 L535.5,180.1 L536,180.1 L536.5,180.1 L537,180.1 L537.5,180.1 L538,180.1 L538.5,180.1 L539,180.1 L539.5,180.1 L540,180.1 L540.5,180.1 L541,180.1 L541.5,180.1 L542,180.1 L542.5,180.1 L543,180.1 L543.5,180.1 L544,180.1 L544.5,180.1 L545,180.1 L545.5,180.1 L546,180.1 L546.5,180.1 L547,180.1 L547.5,180.1 L548,180.1 L548.5,180.1 L549,180.1 L549.5,180 L550,180 L550.5,180 L551,180 L551.5,179.9 L552,179.8 L552.5,179.6 L553,179.4 L553.5,179.1 L554,178.7 L554.5,178.1 L555,177.3 L555.5,176.3 L556,175.1 L556.5,173.6 L557,171.8 L557.5,169.8 L558,167.6 L558.5,165.3 L559,162.9 L559.5,160.6 L560,158.5 L560.5,156.6 L561,155.3 L561.5,154.4 L562,154.1 L562.5,154.3 L563,155 L563.5,156 L564,157.4 L564.5,159.1 L565,161 L565.5,163 L566,165.1 L566.5,167.1 L567,169.1 L567.5,170.9 L568,172.5 L568.5,174 L569,175.2 L569.5,176.3 L570,177.1 L570.5,177.8 L571,178.4 L571.5,178.8 L572,179.1 L572.5,179.4 L573,179.5 L573.5,179.7 L574,179.7 L574.5,179.8 L575,179.8 L575.5,179.9 L576,179.9 L576.5,179.9 L577,179.9 L577.5,179.9 L578,179.9 L578.5,179.9 L579,179.9 L579.5,179.9 L580,179.9 L580.5,179.9 L581,179.9 L581.5,179.9 L582,179.9 L582.5,179.9 L583,179.9 L583.5,179.9 L584,179.9 L584.5,179.9 L585,179.9 L585.5,179.9 L586,179.9 L586.5,179.8 L587,179.8 L587.5,179.8 L588,179.8 L588.5,179.8 L589,179.8 L589.5,179.8 L590,179.8 L590.5,179.8 L591,179.8 L591.5,179.8 L592,179.8 L592.5,179.8 L593,179.8 L593.5,179.8 L594,179.8 L594.5,179.8 L595,179.8 L595.5,179.8 L596,179.8 L596.5,179.8 L597,179.8 L597.5,179.8 L598,179.8 L598.5,179.8 L599,179.8 L599.5,179.8 L600,179.8 L600.5,179.8 L601,179.8 L601.5,179.8 L602,179.8 L602.5,179.8 L603,179.8 L603.5,179.8 L604,179.8 L604.5,179.8 L605,179.8 L605.5,179.8 L606,179.8 L606.5,179.8 L607,179.8 L607.5,179.8 L608,179.8 L608.5,179.8 L609,179.8 L609.5,179.8 L610,179.8 L610.5,179.8 L611,179.8 L611.5,179.8 L612,179.8 L612.5,179.8 L613,179.8 L613.5,179.8 L614,179.8 L614.5,179.8 L615,179.8 L615.5,179.8 L616,179.8 L616.5,179.8 L617,179.8 L617.5,179.8 L618,179.8 L618.5,179.8 L619,179.8 L619.5,179.8 L620,179.8 L620.5,179.8 L621,179.8 L621.5,179.8 L622,179.8 L622.5,179.8 L623,179.8 L623.5,179.8 L624,179.8 L624.5,179.8 L625,179.8 L625.5,179.8 L626,179.8 L626.5,179.8 L627,179.8 L627.5,179.8 L628,179.8 L628.5,179.8 L629,179.8 L629.5,179.8 L630,179.8 L630.5,179.8 L631,179.8 L631.5,179.8 L632,179.8 L632.5,179.7 L633,179.7 L633.5,179.7 L634,179.7 L634.5,179.7 L635,179.7 L635.5,179.7 L636,179.7 L636.5,179.7 L637,179.7 L637.5,179.7 L638,179.7 L638.5,179.7 L639,179.7 L639.5,179.7 L640,179.7 L640.5,179.7 L641,179.7 L641.5,179.7 L642,179.7 L642.5,179.7 L643,179.7 L643.5,179.7 L644,179.7 L644.5,179.7 L645,179.7 L645.5,179.7 L646,179.7 L646.5,179.7 L647,179.7 L647.5,179.7 L648,179.7 L648.5,179.7 L649,179.7 L649.5,179.7 L650,179.7 L650.5,179.7 L651,179.7 L651.5,179.7 L652,179.7 L652.5,179.7 L653,179.7 L653.5,179.7 L654,179.7 L654.5,179.7 L655,179.7 L655.5,179.7 L656,179.7 L656.5,179.7 L657,179.7 L657.5,179.7 L658,179.7 L658.5,179.7 L659,179.7 L659.5,179.7 L660,179.7 L660.5,179.7 L661,179.7 L661.5,179.7 L662,179.7 L662.5,179.7 L663,179.7 L663.5,179.7 L664,179.7 L664.5,179.7 L665,179.7 L665.5,179.7 L666,179.7 L666.5,179.7 L667,179.7 L667.5,179.7 L668,179.7 L668.5,179.7 L669,179.7 L669.5,179.7 L670,179.7 L670.5,179.7 L671,179.7 L671.5,179.7 L672,179.7 L672.5,179.7 L673,179.7 L673.5,179.7" fill="none" stroke="#3434dc" stroke-width="1.4"/>
<path d="M28,220.6 L28.5,220.6 L29,220.6 L29.5,220.6 L30,220.6 L30.5,220.6 L31,220.6 L31.5,220.6 L32,220.6 L32.5,220.6 L33,220.6 L33.5,220.6 L34,220.6 L34.5,220.6 L35,220.6 L35.5,220.6 L36,220.6 L36.5,220.6 L37,220.6 L37.5,220.6 L38,220.6 L38.5,220.6 L39,220.6 L39.5,220.6 L40,220.6 L40.5,220.6 L41,220.6 L41.5,220.6 L42,220.6 L42.5,220.6 L43,220.6 L43.5,220.6 L44,220.6 L44.5,220.6 L45,220.6 L45.5,220.6 L46,220.6 L46.5,220.6 L47,220.6 L47.5,220.6 L48,220.6 L48.5,220.6 L49,220.6 L49.5,220.6 L50,220.6 L50.5,220.6 L51,220.6 L51.5,220.6 L52,220.6 L52.5,220.6 L53,220.6 L53.5,220.6 L54,220.6 L54.5,220.6 L55,220.6 L55.5,220.6 L56,220.6 L56.5,220.6 L57,220.6 L57.5,220.6 L58,220.6 L58.5,220.6 L59,220.6 L59.5,220.6 L60,220.6 L60.5,220.6 L61,220.6 L61.5,220.6 L62,220.6 L62.5,220.6 L63,220.6 L63.5,220.6 L64,220.6 L64.5,220.6 L65,220.6 L65.5,220.6 L66,220.6 L66.5,220.6 L67,220.6 L67.5,220.6 L68,220.6 L68.5,220.6 L69,220.6 L69.5,220.6 L70,220.6 L70.5,220.6 L71,220.6 L71.5,220.6 L72,220.6 L72.5,220.6 L73,220.6 L73.5,220.6 L74,220.6 L74.5,220.6 L75,220.6 L75.5,220.6 L76,220.6 L76.5,220.6 L77,220.6 L77.5,220.6 L78,220.6 L78.5,220.6 L79,220.6 L79.5,220.6 L80,220.6 L80.5,220.6 L81,220.6 L81.5,220.6 L82,220.6 L82.5,220.6 L83,220.6 L83.5,220.6 L84,220.6 L84.5,220.6 L85,220.6 L85.5,220.6 L86,220.6 L86.5,220.6 L87,220.6 L87.5,220.6 L88,220.6 L88.5,220.6 L89,220.6 L89.5,220.6 L90,220.6 L90.5,220.6 L91,220.6 L91.5,220.6 L92,220.6 L92.5,220.6 L93,220.6 L93.5,220.6 L94,220.6 L94.5,220.6 L95,220.6 L95.5,220.6 L96,220.6 L96.5,220.6 L97,220.6 L97.5,220.6 L98,220.6 L98.5,220.6 L99,220.6 L99.5,220.6 L100,220.6 L100.5,220.6 L101,220.6 L101.5,220.6 L102,220.6 L102.5,220.6 L103,220.6 L103.5,220.6 L104,220.6 L104.5,220.6 L105,220.6 L105.5,220.6 L106,220.6 L106.5,220.6 L107,220.6 L107.5,220.6 L108,220.6 L108.5,220.6 L109,220.6 L109.5,220.6 L110,220.6 L110.5,220.6 L111,220.6 L111.5,220.6 L112,220.6 L112.5,220.6 L113,220.6 L113.5,220.6 L114,220.6 L114.5,220.6 L115,220.6 L115.5,220.6 L116,220.6 L116.5,220.6 L117,220.6 L117.5,220.6 L118,220.6 L118.5,220.6 L119,220.6 L119.5,220.6 L120,220.6 L120.5,220.6 L121,220.6 L121.5,220.6 L122,220.6 L122.5,220.6 L123,220.6 L123.5,220.6 L124,220.6 L124.5,220.6 L125,220.6 L125.5,220.6 L126,220.6 L126.5,220.6 L127,220.6 L127.5,220.6 L128,220.6 L128.5,220.6 L129,220.6 L129.5,220.6 L130,220.6 L130.5,220.6 L131,220.6 L131.5,220.6 L132,220.6 L132.5,220.6 L133,220.6 L133.5,220.6 L134,220.6 L134.5,220.6 L135,220.6 L135.5,220.6 L136,220.6 L136.5,220.6 L137,220.6 L137.5,220.6 L138,220.6 L138.5,220.6 L139,220.6 L139.5,220.6 L140,220.6 L140.5,220.6 L141,220.6 L141.5,220.6 L142,220.6 L142.5,220.6 L143,220.6 L143.5,220.6 L144,220.6 L144.5,220.6 L145,220.6 L145.5,220.6 L146,220.6 L146.5,220.6 L147,220.6 L147.5,220.6 L148,220.6 L148.5,220.6 L149,220.6 L149.5,220.6 L150,220.6 L150.5,220.6 L151,220.6 L151.5,220.6 L152,220.6 L152.5,220.6 L153,220.6 L153.5,220.6 L154,220.6 L154.5,220.6 L155,220.6 L155.5,220.6 L156,220.6 L156.5,220.6 L157,220.6 L157.5,220.6 L158,220.6 L158.5,220.6 L159,220.6 L159.5,220.6 L160,220.6 L160.5,220.6 L161,220.6 L161.5,220.6 L162,220.6 L162.5,220.6 L163,220.6 L163.5,220.6 L164,220.6 L164.5,220.6 L165,220.6 L165.5,220.6 L166,220.6 L166.5,220.6 L167,220.6 L167.5,220.6 L168,220.6 L168.5,220.6 L169,220.6 L169.5,220.6 L170,220.6 L170.5,220.6 L171,220.6 L171.5,220.6 L172,220.6 L172.5,220.6 L173,220.6 L173.5,220.6 L174,220.6 L174.5,220.6 L175,220.6 L175.5,220.6 L176,220.6 L176.5,220.6 L177,220.6 L177.5,220.6 L178,220.6 L178.5,220.6 L179,220.6 L179.5,220.6 L180,220.6 L180.5,220.6 L181,220.6 L181.5,220.6 L182,220.6 L182.5,220.6 L183,220.6 L183.5,220.6 L184,220.6 L184.5,220.6 L185,220.6 L185.5,220.6 L186,220.6 L186.5,220.6 L187,220.6 L187.5,220.6 L188,220.6 L188.5,220.6 L189,220.6 L189.5,220.6 L190,220.6 L190.5,220.6 L191,220.6 L191.5,220.6 L192,220.6 L192.5,220.6 L193,220.6 L193.5,220.6 L194,220.6 L194.5,220.6 L195,220.6 L195.5,220.6 L196,220.6 L196.5,220.6 L197,220.6 L197.5,220.6 L198,220.6 L198.5,220.6 L199,220.6 L199.5,220.6 L200,220.6 L200.5,220.6 L201,220.6 L201.5,220.6 L202,220.6 L202.5,220.6 L203,220.6 L203.5,220.6 L204,220.6 L204.5,220.6 L205,220.6 L205.5,220.6 L206,220.6 L206.5,220.6 L207,220.6 L207.5,220.6 L208,220.6 L208.5,220.6 L209,220.6 L209.5,220.6 L210,220.6 L210.5,220.6 L211,220.6 L211.5,220.6 L212,220.6 L212.5,220.6 L213,220.6 L213.5,220.6 L214,220.6 L214.5,220.6 L215,220.6 L215.5,220.6 L216,220.6 L216.5,220.6 L217,220.6 L217.5,220.6 L218,220.6 L218.5,220.6 L219,220.6 L219.5,220.6 L220,220.6 L220.5,220.6 L221,220.6 L221.5,220.6 L222,220.6 L222.5,220.6 L223,220.6 L223.5,220.6 L224,220.6 L224.5,220.6 L225,220.6 L225.5,220.6 L226,220.6 L226.5,220.6 L227,220.6 L227.5,220.6 L228,220.6 L228.5,220.6 L229,220.6 L229.5,220.6 L230,220.6 L230.5,220.6 L231,220.6 L231.5,220.6 L232,220.6 L232.5,220.6 L233,220.6 L233.5,220.6 L234,220.6 L234.5,220.6 L235,220.6 L235.5,220.6 L236,220.6 L236.5,220.6 L237,220.6 L237.5,220.6 L238,220.6 L238.5,220.6 L239,220.6 L239.5,220.6 L240,220.6 L240.5,220.6 L241,220.6 L241.5,220.6 L242,220.6 L242.5,220.6 L243,220.6 L243.5,220.6 L244,220.6 L244.5,220.6 L245,220.6 L245.5,220.6 L246,220.6 L246.5,220.6 L247,220.6 L247.5,220.6 L248,220.6 L248.5,220.6 L249,220.6 L249.5,220.6 L250,220.6 L250.5,220.6 L251,220.6 L251.5,220.6 L252,220.6 L252.5,220.6 L253,220.6 L253.5,220.6 L254,220.6 L254.5,220.6 L255,220.6 L255.5,220.6 L256,220.6 L256.5,220.6 L257,220.6 L257.5,220.6 L258,220.6 L258.5,220.6 L259,220.6 L259.5,220.6 L260,220.6 L260.5,220.6 L261,220.6 L261.5,220.6 L262,220.6 L262.5,220.6 L263,220.6 L263.5,220.6 L264,220.6 L264.5,220.6 L265,220.6 L265.5,220.6 L266,220.6 L266.5,220.6 L267,220.6 L267.5,220.6 L268,220.6 L268.5,220.6 L269,220.6 L269.5,220.6 L270,220.6 L270.5,220.6 L271,220.6 L271.5,220.6 L272,220.6 L272.5,220.6 L273,220.6 L273.5,220.6 L274,220.6 L274.5,220.6 L275,220.6 L275.5,220.6 L276,220.6 L276.5,220.6 L277,220.6 L277.5,220.6 L278,220.6 L278.5,220.6 L279,220.6 L279.5,220.6 L280,220.6 L280.5,220.6 L281,220.6 L281.5,220.6 L282,220.6 L282.5,220.6 L283,220.6 L283.5,220.6 L284,220.6 L284.5,220.6 L285,220.6 L285.5,220.6 L286,220.6 L286.5,220.6 L287,220.6 L287.5,220.6 L288,220.6 L288.5,220.6 L289,220.6 L289.5,220.6 L290,220.6 L290.5,220.6 L291,220.6 L291.5,220.6 L292,220.6 L292.5,220.6 L293,220.6 L293.5,220.6 L294,220.6 L294.5,220.6 L295,220.6 L295.5,220.6 L296,220.6 L296.5,220.6 L297,220.6 L297.5,220.6 L298,220.6 L298.5,220.6 L299,220.6 L299.5,220.6 L300,220.6 L300.5,220.6 L301,220.6 L301.5,220.6 L302,220.6 L302.5,220.6 L303,220.6 L303.5,220.6 L304,220.6 L304.5,220.6 L305,220.6 L305.5,220.6 L306,220.6 L306.5,220.6 L307,220.6 L307.5,220.6 L308,220.6 L308.5,220.6 L309,220.6 L309.5,220.6 L310,220.6 L310.5,220.6 L311,220.6 L311.5,220.6 L312,220.6 L312.5,220.6 L313,220.6 L313.5,220.6 L314,220.6 L314.5,220.6 L315,220.6 L315.5,220.6 L316,220.6 L316.5,220.6 L317,220.6 L317.5,220.6 L318,220.6 L318.5,220.6 L319,220.6 L319.5,220.6 L320,220.6 L320.5,220.6 L321,220.6 L321.5,220.6 L322,220.6 L322.5,220.6 L323,220.6 L323.5,220.6 L324,220.6 L324.5,220.6 L325,220.6 L325.5,220.6 L326,220.6 L326.5,220.6 L327,220.6 L327.5,220.6 L328,220.6 L328.5,220.6 L329,220.6 L329.5,220.6 L330,220.6 L330.5,220.6 L331,220.6 L331.5,220.6 L332,220.6 L332.5,220.6 L333,220.6 L333.5,220.6 L334,220.6 L334.5,220.6 L335,220.6 L335.5,220.6 L336,220.6 L336.5,220.6 L337,220.6 L337.5,220.6 L338,220.6 L338.5,220.6 L339,220.6 L339.5,220.6 L340,220.6 L340.5,220.6 L341,220.6 L341.5,220.6 L342,220.6 L342.5,220.6 L343,220.6 L343.5,220.6 L344,220.6 L344.5,220.6 L345,220.6 L345.5,220.6 L346,220.6 L346.5,220.6 L347,220.6 L347.5,220.6 L348,220.6 L348.5,220.6 L349,220.6 L349.5,220.6 L350,220.6 L350.5,220.6 L351,220.6 L351.5,220.6 L352,220.6 L352.5,220.6 L353,220.7 L353.5,220.7 L354,220.7 L354.5,220.7 L355,220.8 L355.5,220.8 L356,220.8 L356.5,220.9 L357,220.9 L357.5,221 L358,221 L358.5,221.1 L359,221.1 L359.5,221.2 L360,221.2 L360.5,221.3 L361,221.4 L361.5,221.5 L362,221.6 L362.5,221.7 L363,221.8 L363.5,222 L364,222.1 L364.5,222.3 L365,222.4 L365.5,222.6 L366,222.9 L366.5,223.2 L367,223.6 L367.5,224.1 L368,224.6 L368.5,225.3 L369,226.3 L369.5,227.6 L370,229 L370.5,230.2 L371,231.1 L371.5,231.4 L372,231.2 L372.5,230.5 L373,229.6 L373.5,228.7 L374,227.8 L374.5,227.1 L375,226.4 L375.5,225.8 L376,225.2 L376.5,224.7 L377,224.3 L377.5,224.1 L378,224 L378.5,223.9 L379,223.9 L379.5,223.8 L380,223.8 L380.5,223.8 L381,224.1 L381.5,224.6 L382,225.2 L382.5,225.8 L383,226.4 L383.5,226.8 L384,227 L384.5,226.9 L385,226.6 L385.5,226.1 L386,225.7 L386.5,225.1 L387,224.7 L387.5,224.3 L388,224 L388.5,223.8 L389,223.5 L389.5,223.3 L390,223.1 L390.5,222.8 L391,222.6 L391.5,222.4 L392,222.1 L392.5,221.9 L393,221.6 L393.5,221.4 L394,221.2 L394.5,221 L395,220.9 L395.5,220.8 L396,220.8 L396.5,221 L397,221.3 L397.5,221.7 L398,222 L398.5,222.3 L399,222.4 L399.5,222.4 L400,222.4 L400.5,222.3 L401,222.2 L401.5,222.1 L402,222 L402.5,221.9 L403,221.6 L403.5,221.3 L404,220.9 L404.5,220.6 L405,220.3 L405.5,220.1 L406,220 L406.5,219.9 L407,219.9 L407.5,219.8 L408,219.7 L408.5,219.7 L409,219.6 L409.5,219.6 L410,219.6 L410.5,219.6 L411,219.6 L411.5,219.7 L412,219.8 L412.5,219.8 L413,219.9 L413.5,220 L414,220.1 L414.5,220.2 L415,220.2 L415.5,220.2 L416,220.2 L416.5,220.2 L417,220.2 L417.5,220.2 L418,220.3 L418.5,220.3 L419,220.3 L419.5,220.3 L420,220.3 L420.5,220.3 L421,220.3 L421.5,220.3 L422,220.3 L422.5,220.3 L423,220.3 L423.5,220.3 L424,220.4 L424.5,220.4 L425,220.4 L425.5,220.4 L426,220.4 L426.5,220.4 L427,220.4 L427.5,220.4 L428,220.4 L428.5,220.4 L429,220.4 L429.5,220.4 L430,220.5 L430.5,220.5 L431,220.5 L431.5,220.5 L432,220.5 L432.5,220.5 L433,220.5 L433.5,220.5 L434,220.5 L434.5,220.5 L435,220.5 L435.5,220.5 L436,220.5 L436.5,220.6 L437,220.6 L437.5,220.6 L438,220.6 L438.5,220.6 L439,220.6 L439.5,220.6 L440,220.6 L440.5,220.6 L441,220.6 L441.5,220.6 L442,220.6 L442.5,220.6 L443,220.6 L443.5,220.6 L444,220.6 L444.5,220.6 L445,220.6 L445.5,220.6 L446,220.6 L446.5,220.6 L447,220.6 L447.5,220.6 L448,220.6 L448.5,220.6 L449,220.6 L449.5,220.6 L450,220.6 L450.5,220.6 L451,220.6 L451.5,220.6 L452,220.6 L452.5,220.6 L453,220.6 L453.5,220.6 L454,220.6 L454.5,220.6 L455,220.6 L455.5,220.6 L456,220.6 L456.5,220.6 L457,220.6 L457.5,220.6 L458,220.6 L458.5,220.6 L459,220.6 L459.5,220.6 L460,220.6 L460.5,220.6 L461,220.6 L461.5,220.6 L462,220.6 L462.5,220.6 L463,220.6 L463.5,220.6 L464,220.6 L464.5,220.6 L465,220.6 L465.5,220.6 L466,220.6 L466.5,220.6 L467,220.6 L467.5,220.6 L468,220.6 L468.5,220.6 L469,220.6 L469.5,220.6 L470,220.6 L470.5,220.6 L471,220.6 L471.5,220.6 L472,220.6 L472.5,220.6 L473,220.6 L473.5,220.6 L474,220.6 L474.5,220.6 L475,220.6 L475.5,220.6 L476,220.6 L476.5,220.6 L477,220.6 L477.5,220.6 L478,220.6 L478.5,220.6 L479,220.6 L479.5,220.6 L480,220.6 L480.5,220.6 L481,220.6 L481.5,220.6 L482,220.5 L482.5,220.5 L483,220.5 L483.5,220.4 L484,220.2 L484.5,220.1 L485,219.8 L485.5,219.5 L486,219.1 L486.5,218.6 L487,218 L487.5,217.3 L488,216.5 L488.5,215.7 L489,214.9 L489.5,214.1 L490,213.5 L490.5,212.9 L491,212.6 L491.5,212.5 L492,212.6 L492.5,212.8 L493,213.2 L493.5,213.7 L494,214.2 L494.5,214.9 L495,215.6 L495.5,216.2 L496,216.9 L496.5,217.5 L497,218.1 L497.5,218.6 L498,219 L498.5,219.4 L499,219.7 L499.5,219.9 L500,220.1 L500.5,220.2 L501,220.4 L501.5,220.4 L502,220.5 L502.5,220.5 L503,220.6 L503.5,220.6 L504,220.6 L504.5,220.6 L505,220.6 L505.5,220.6 L506,220.6 L506.5,220.6 L507,220.6 L507.5,220.6 L508,220.6 L508.5,220.6 L509,220.6 L509.5,220.6 L510,220.6 L510.5,220.6 L511,220.6 L511.5,220.6 L512,220.6 L512.5,220.6 L513,220.6 L513.5,220.6 L514,220.6 L514.5,220.6 L515,220.6 L515.5,220.6 L516,220.6 L516.5,220.6 L517,220.6 L517.5,220.6 L518,220.6 L518.5,220.6 L519,220.6 L519.5,220.6 L520,220.6 L520.5,220.6 L521,220.6 L521.5,220.6 L522,220.6 L522.5,220.6 L523,220.6 L523.5,220.6 L524,220.6 L524.5,220.6 L525,220.6 L525.5,220.6 L526,220.6 L526.5,220.6 L527,220.6 L527.5,220.6 L528,220.6 L528.5,220.6 L529,220.6 L529.5,220.6 L530,220.6 L530.5,220.6 L531,220.6 L531.5,220.6 L532,220.6 L532.5,220.6 L533,220.6 L533.5,220.6 L534,220.6 L534.5,220.6 L535,220.6 L535.5,220.6 L536,220.6 L536.5,220.6 L537,220.6 L537.5,220.6 L538,220.6 L538.5,220.6 L539,220.6 L539.5,220.6 L540,220.6 L540.5,220.6 L541,220.6 L541.5,220.6 L542,220.6 L542.5,220.6 L543,220.6 L543.5,220.6 L544,220.6 L544.5,220.6 L545,220.6 L545.5,220.6 L546,220.6 L546.5,220.6 L547,220.6 L547.5,220.6 L548,220.6 L548.5,220.6 L549,220.6 L549.5,220.6 L550,220.6 L550.5,220.6 L551,220.6 L551.5,220.6 L552,220.6 L552.5,220.6 L553,220.6 L553.5,220.6 L554,220.6 L554.5,220.6 L555,220.6 L555.5,220.6 L556,220.6 L556.5,220.6 L557,220.6 L557.5,220.6 L558,220.6 L558.5,220.6 L559,220.6 L559.5,220.6 L560,220.6 L560.5,220.6 L561,220.6 L561.5,220.6 L562,220.6 L562.5,220.6 L563,220.6 L563.5,220.6 L564,220.6 L564.5,220.6 L565,220.6 L565.5,220.6 L566,220.6 L566.5,220.6 L567,220.6 L567.5,220.6 L568,220.6 L568.5,220.5 L569,220.5 L569.5,220.5 L570,220.5 L570.5,220.5 L571,220.5 L571.5,220.5 L572,220.5 L572.5,220.5 L573,220.5 L573.5,220.5 L574,220.5 L574.5,220.5 L575,220.4 L575.5,220.4 L576,220.4 L576.5,220.4 L577,220.4 L577.5,220.4 L578,220.4 L578.5,220.4 L579,220.4 L579.5,220.4 L580,220.3 L580.5,220.3 L581,220.3 L581.5,220.3 L582,220.3 L582.5,220.3 L583,220.3 L583.5,220.3 L584,220.2 L584.5,220.2 L585,220.2 L585.5,220.2 L586,220.2 L586.5,220.2 L587,220.2 L587.5,220.2 L588,220.1 L588.5,220.1 L589,220.1 L589.5,220.1 L590,220.1 L590.5,220.1 L591,220.1 L591.5,220 L592,220 L592.5,220 L593,220 L593.5,220 L594,220 L594.5,220 L595,219.9 L595.5,219.9 L596,219.9 L596.5,219.9 L597,219.9 L597.5,219.9 L598,219.9 L598.5,219.8 L599,219.8 L599.5,219.8 L600,219.8 L600.5,219.8 L601,219.8 L601.5,219.7 L602,219.7 L602.5,219.7 L603,219.7 L603.5,219.7 L604,219.7 L604.5,219.7 L605,219.6 L605.5,219.6 L606,219.6 L606.5,219.6 L607,219.6 L607.5,219.6 L608,219.6 L608.5,219.5 L609,219.5 L609.5,219.5 L610,219.5 L610.5,219.5 L611,219.5 L611.5,219.5 L612,219.4 L612.5,219.4 L613,219.4 L613.5,219.4 L614,219.4 L614.5,219.4 L615,219.3 L615.5,219.3 L616,219.3 L616.5,219.3 L617,219.3 L617.5,219.2 L618,219.2 L618.5,219.2 L619,219.2 L619.5,219.2 L620,219.1 L620.5,219.1 L621,219.1 L621.5,219.1 L622,219 L622.5,219 L623,219 L623.5,219 L624,218.9 L624.5,218.9 L625,218.9 L625.5,218.9 L626,218.8 L626.5,218.8 L627,218.8 L627.5,218.8 L628,218.7 L628.5,218.7 L629,218.7 L629.5,218.7 L630,218.6 L630.5,218.6 L631,218.6 L631.5,218.6 L632,218.5 L632.5,218.5 L633,218.5 L633.5,218.5 L634,218.4 L634.5,218.4 L635,218.4 L635.5,218.4 L636,218.3 L636.5,218.3 L637,218.3 L637.5,218.3 L638,218.3 L638.5,218.2 L639,218.2 L639.5,218.2 L640,218.2 L640.5,218.1 L641,218.1 L641.5,218.1 L642,218.1 L642.5,218.1 L643,218 L643.5,218 L644,218 L644.5,218 L645,217.9 L645.5,217.9 L646,217.9 L646.5,217.9 L647,217.9 L647.5,217.9 L648,217.8 L648.5,217.8 L649,217.8 L649.5,217.8 L650,217.8 L650.5,217.8 L651,217.7 L651.5,217.7 L652,217.7 L652.5,217.7 L653,217.7 L653.5,217.7 L654,217.7 L654.5,217.7 L655,217.7 L655.5,217.6 L656,217.6 L656.5,217.6 L657,217.6 L657.5,217.6 L658,217.6 L658.5,217.6 L659,217.6 L659.5,217.6 L660,217.6 L660.5,217.6 L661,217.6 L661.5,217.6 L662,217.6 L662.5,217.6 L663,217.6 L663.5,217.6 L664,217.6 L664.5,217.6 L665,217.6 L665.5,217.6 L666,217.7 L666.5,217.7 L667,217.7 L667.5,217.7 L668,217.7 L668.5,217.7 L669,217.8 L669.5,217.8 L670,217.8 L670.5,217.8 L671,217.8 L671.5,217.9 L672,217.9 L672.5,217.9 L673,217.9 L673.5,218 L674,218 L674.5,218 L675,218 L675.5,218.1 L676,218.1 L676.5,218.1 L677,218.2 L677.5,218.2 L678,218.2 L678.5,218.3 L679,218.3 L679.5,218.4 L680,218.4 L680.5,218.4 L681,218.5 L681.5,218.5 L682,218.6 L682.5,218.6 L683,218.6 L683.5,218.7 L684,218.7 L684.5,218.8 L685,218.8 L685.5,218.9 L686,218.9 L686.5,219 L687,219 L687.5,219.1 L688,219.1 L688.5,219.2 L689,219.2 L689.5,219.3 L690,219.3 L690.5,219.4 L691,219.4 L691.5,219.5 L692,219.5 L692.5,219.6 L693,219.7 L693.5,219.7 L694,219.8 L694.5,219.8 L695,219.9 L695.5,219.9 L696,220 L696.5,220.1 L697,220.1 L697.5,220.2 L698,220.2 L698.5,220.3 L699,220.4 L699.5,220.4 L700,220.5 L700.5,220.5 L701,220.6" fill="none" stroke="#e43c3c" stroke-width="1.4"/>
<path d="M28,261 L28.5,261.1 L29,261.1 L29.5,261.2 L30,261.2 L30.5,261.3 L31,261.3 L31.5,261.4 L32,261.4 L32.5,261.5 L33,261.5 L33.5,261.6 L34,261.6 L34.5,261.6 L35,261.7 L35.5,261.7 L36,261.7 L36.5,261.7 L37,261.8 L37.5,261.8 L38,261.8 L38.5,261.8 L39,261.8 L39.5,261.9 L40,261.9 L40.5,261.9 L41,261.9 L41.5,261.9 L42,262 L42.5,262 L43,262 L43.5,262 L44,262 L44.5,262 L45,262 L45.5,262.1 L46,262.1 L46.5,262.1 L47,262.1 L47.5,262.1 L48,262.1 L48.5,262.1 L49,262.1 L49.5,262.1 L50,262.1 L50.5,262.1 L51,262.1 L51.5,262.1 L52,262.1 L52.5,262.1 L53,262.1 L53.5,262.1 L54,262.1 L54.5,262.1 L55,262.1 L55.5,262.1 L56,262.1 L56.5,262.1 L57,262.1 L57.5,262.1 L58,262.1 L58.5,262.1 L59,262.1 L59.5,262.1 L60,262.1 L60.5,262.1 L61,262.1 L61.5,262.1 L62,262.1 L62.5,262.2 L63,262.2 L63.5,262.2 L64,262.2 L64.5,262.2 L65,262.2 L65.5,262.2 L66,262.2 L66.5,262.2 L67,262.2 L67.5,262.2 L68,262.2 L68.5,262.2 L69,262.2 L69.5,262.2 L70,262.2 L70.5,262.2 L71,262.2 L71.5,262.2 L72,262.2 L72.5,262.2 L73,262.2 L73.5,262.2 L74,262.2 L74.5,262.2 L75,262.2 L75.5,262.2 L76,262.2 L76.5,262.2 L77,262.2 L77.5,262.2 L78,262.2 L78.5,262.2 L79,262.2 L79.5,262.2 L80,262.2 L80.5,262.2 L81,262.2 L81.5,262.2 L82,262.2 L82.5,262.2 L83,262.2 L83.5,262.2 L84,262.2 L84.5,262.2 L85,262.2 L85.5,262.2 L86,262.2 L86.5,262.2 L87,262.2 L87.5,262.2 L88,262.2 L88.5,262.2 L89,262.2 L89.5,262.2 L90,262.2 L90.5,262.2 L91,262.2 L91.5,262.2 L92,262.2 L92.5,262.2 L93,262.2 L93.5,262.2 L94,262.2 L94.5,262.2 L95,262.2 L95.5,262.2 L96,262.2 L96.5,262.2 L97,262.2 L97.5,262.2 L98,262.2 L98.5,262.2 L99,262.2 L99.5,262.2 L100,262.2 L100.5,262.1 L101,262.1 L101.5,262 L102,262 L102.5,261.9 L103,261.9 L103.5,261.8 L104,261.7 L104.5,261.7 L105,261.6 L105.5,261.6 L106,261.5 L106.5,261.5 L107,261.5 L107.5,261.5 L108,261.5 L108.5,261.5 L109,261.5 L109.5,261.5 L110,261.5 L110.5,261.5 L111,261.5 L111.5,261.5 L112,261.5 L112.5,261.5 L113,261.5 L113.5,261.5 L114,261.5 L114.5,261.6 L115,261.6 L115.5,261.6 L116,261.6 L116.5,261.6 L117,261.6 L117.5,261.6 L118,261.6 L118.5,261.6 L119,261.6 L119.5,261.6 L120,261.6 L120.5,261.7 L121,261.7 L121.5,261.7 L122,261.7 L122.5,261.7 L123,261.7 L123.5,261.7 L124,261.7 L124.5,261.7 L125,261.7 L125.5,261.8 L126,261.8 L126.5,261.8 L127,261.8 L127.5,261.8 L128,261.8 L128.5,261.8 L129,261.8 L129.5,261.8 L130,261.8 L130.5,261.9 L131,261.9 L131.5,261.9 L132,261.9 L132.5,261.9 L133,261.9 L133.5,262 L134,262 L134.5,262 L135,262 L135.5,262 L136,262 L136.5,262 L137,262.1 L137.5,262.1 L138,262.1 L138.5,262.1 L139,262.1 L139.5,262.1 L140,262.1 L140.5,262.1 L141,262.1 L141.5,262.1 L142,262.1 L142.5,262.1 L143,262.1 L143.5,262.1 L144,262.1 L144.5,262.1 L145,262.1 L145.5,262.1 L146,262.1 L146.5,262.1 L147,262.1 L147.5,262.1 L148,262.1 L148.5,262.1 L149,262.1 L149.5,262.1 L150,262.1 L150.5,262.1 L151,262.1 L151.5,262.1 L152,262.1 L152.5,262.1 L153,262.1 L153.5,262.1 L154,262.1 L154.5,262.1 L155,262.1 L155.5,262.1 L156,262.1 L156.5,262.1 L157,262.1 L157.5,262.1 L158,262.1 L158.5,262.1 L159,262.1 L159.5,262.1 L160,262.1 L160.5,262.1 L161,262.1 L161.5,262.1 L162,262.1 L162.5,262.1 L163,262.1 L163.5,262.1 L164,262.1 L164.5,262.1 L165,262.1 L165.5,262.1 L166,262.1 L166.5,262.1 L167,262.1 L167.5,262.1 L168,262.1 L168.5,262.1 L169,262.1 L169.5,262.1 L170,262.1 L170.5,262.1 L171,262.1 L171.5,262.1 L172,262.1 L172.5,262.1 L173,262.1 L173.5,262.1 L174,262.1 L174.5,262.1 L175,262.1 L175.5,262.1 L176,262.1 L176.5,262.1 L177,262.1 L177.5,262.1 L178,262.1 L178.5,262.1 L179,262.1 L179.5,262.1 L180,262.1 L180.5,262.1 L181,262.1 L181.5,262.1 L182,262.1 L182.5,262.1 L183,262.1 L183.5,262.1 L184,262.1 L184.5,262.1 L185,262.1 L185.5,262.2 L186,262.2 L186.5,262.2 L187,262.2 L187.5,262.2 L188,262.2 L188.5,262.2 L189,262.2 L189.5,262.2 L190,262.2 L190.5,262.2 L191,262.2 L191.5,262.2 L192,262.2 L192.5,262.2 L193,262.2 L193.5,262.2 L194,262.2 L194.5,262.2 L195,262.2 L195.5,262.2 L196,262.2 L196.5,262.2 L197,262.2 L197.5,262.2 L198,262.2 L198.5,262.2 L199,262.2 L199.5,262.2 L200,262.2 L200.5,262.2 L201,262.2 L201.5,262.2 L202,262.2 L202.5,262.2 L203,262.2 L203.5,262.2 L204,262.2 L204.5,262.2 L205,262.2 L205.5,262.2 L206,262.2 L206.5,262.2 L207,262.2 L207.5,262.2 L208,262.2 L208.5,262.2 L209,262.2 L209.5,262.2 L210,262.2 L210.5,262.2 L211,262.2 L211.5,262.2 L212,262.2 L212.5,262.2 L213,262.2 L213.5,262.2 L214,262.2 L214.5,262.2 L215,262.2 L215.5,262.2 L216,262.2 L216.5,262.2 L217,262.2 L217.5,262.2 L218,262.2 L218.5,262.2 L219,262.2 L219.5,262.2 L220,262.2 L220.5,262.2 L221,262.2 L221.5,262.2 L222,262.2 L222.5,262.2 L223,262.2 L223.5,262.2 L224,262.2 L224.5,262.2 L225,262.2 L225.5,262.2 L226,262.2 L226.5,262.2 L227,262.2 L227.5,262.2 L228,262.2 L228.5,262.2 L229,262.2 L229.5,262.2 L230,262.2 L230.5,262.2 L231,262.2 L231.5,262.2 L232,262.2 L232.5,262.2 L233,262.2 L233.5,262.2 L234,262.2 L234.5,262.2 L235,262.2 L235.5,262.2 L236,262.2 L236.5,262.2 L237,262.2 L237.5,262.2 L238,262.2 L238.5,262.2 L239,262.2 L239.5,262.2 L240,262.2 L240.5,262.2 L241,262.2 L241.5,262.2 L242,262.2 L242.5,262.2 L243,262.2 L243.5,262.2 L244,262.2 L244.5,262.2 L245,262.2 L245.5,262.2 L246,262.2 L246.5,262.2 L247,262.2 L247.5,262.2 L248,262.2 L248.5,262.2 L249,262.2 L249.5,262.2 L250,262.2 L250.5,262.2 L251,262.2 L251.5,262.2 L252,262.2 L252.5,262.2 L253,262.2 L253.5,262.2 L254,262.2 L254.5,262.2 L255,262.2 L255.5,262.2 L256,262.2 L256.5,262.2 L257,262.2 L257.5,262.2 L258,262.2 L258.5,262.2 L259,262.2 L259.5,262.2 L260,262.2 L260.5,262.2 L261,262.2 L261.5,262.2 L262,262.2 L262.5,262.2 L263,262.2 L263.5,262.2 L264,262.2 L264.5,262.2 L265,262.2 L265.5,262.2 L266,262.2 L266.5,262.2 L267,262.2 L267.5,262.2 L268,262.2 L268.5,262.2 L269,262.2 L269.5,262.2 L270,262.2 L270.5,262.2 L271,262.2 L271.5,262.2 L272,262.2 L272.5,262.2 L273,262.2 L273.5,262.2 L274,262.2 L274.5,262.2 L275,262.2 L275.5,262.2 L276,262.2 L276.5,262.2 L277,262.2 L277.5,262.2 L278,262.2 L278.5,262.2 L279,262.2 L279.5,262.2 L280,262.2 L280.5,262.2 L281,262.2 L281.5,262.2 L282,262.2 L282.5,262.2 L283,262.2 L283.5,262.2 L284,262.2 L284.5,262.2 L285,262.2 L285.5,262.2 L286,262.2 L286.5,262.2 L287,262.2 L287.5,262.2 L288,262.2 L288.5,262.2 L289,262.2 L289.5,262.2 L290,262.2 L290.5,262.2 L291,262.2 L291.5,262.2 L292,262.2 L292.5,262.2 L293,262.2 L293.5,262.2 L294,262.2 L294.5,262.2 L295,262.2 L295.5,262.2 L296,262.2 L296.5,262.2 L297,262.2 L297.5,262.2 L298,262.2 L298.5,262.2 L299,262.2 L299.5,262.2 L300,262.2 L300.5,262.2 L301,262.2 L301.5,262.2 L302,262.2 L302.5,262.2 L303,262.2 L303.5,262.2 L304,262.2 L304.5,262.2 L305,262.2 L305.5,262.2 L306,262.2 L306.5,262.2 L307,262.2 L307.5,262.2 L308,262.2 L308.5,262.2 L309,262.2 L309.5,262.2 L310,262.2 L310.5,262.2 L311,262.2 L311.5,262.2 L312,262.2 L312.5,262.2 L313,262.2 L313.5,262.2 L314,262.2 L314.5,262.2 L315,262.2 L315.5,262.2 L316,262.2 L316.5,262.2 L317,262.2 L317.5,262.2 L318,262.2 L318.5,262.2 L319,262.2 L319.5,262.2 L320,262.2 L320.5,262.2 L321,262.2 L321.5,262.2 L322,262.2 L322.5,262.2 L323,262.2 L323.5,262.2 L324,262.2 L324.5,262.2 L325,262.2 L325.5,262.2 L326,262.2 L326.5,262.2 L327,262.2 L327.5,262.2 L328,262.2 L328.5,262.2 L329,262.2 L329.5,262.2 L330,262.2 L330.5,262.2 L331,262.2 L331.5,262.2 L332,262.2 L332.5,262.2 L333,262.2 L333.5,262.2 L334,262.2 L334.5,262.2 L335,262.2 L335.5,262.2 L336,262.2 L336.5,262.2 L337,262.2 L337.5,262.2 L338,262.2 L338.5,262.2 L339,262.2 L339.5,262.2 L340,262.2 L340.5,262.2 L341,262.2 L341.5,262.2 L342,262.2 L342.5,262.2 L343,262.2 L343.5,262.2 L344,262.2 L344.5,262.1 L345,262.1 L345.5,262.1 L346,262.1 L346.5,262.1 L347,262 L347.5,261.9 L348,261.8 L348.5,261.6 L349,261.5 L349.5,261.5 L350,261.4 L350.5,261.4 L351,261.4 L351.5,261.3 L352,261.3 L352.5,261.3 L353,261.3 L353.5,261.3 L354,261.3 L354.5,261.3 L355,261.4 L355.5,261.4 L356,261.4 L356.5,261.5 L357,261.5 L357.5,261.5 L358,261.6 L358.5,261.6 L359,261.7 L359.5,261.7 L360,261.8 L360.5,261.8 L361,261.9 L361.5,262 L362,262.1 L362.5,262.2 L363,262.3 L363.5,262.4 L364,262.5 L364.5,262.7 L365,262.8 L365.5,263 L366,263.3 L366.5,263.6 L367,263.9 L367.5,264.3 L368,264.8 L368.5,265.4 L369,266.3 L369.5,267.5 L370,268.7 L370.5,269.8 L371,270.6 L371.5,270.9 L372,270.6 L372.5,270.1 L373,269.3 L373.5,268.4 L374,267.6 L374.5,267 L375,266.4 L375.5,265.9 L376,265.3 L376.5,264.9 L377,264.5 L377.5,264.3 L378,264.2 L378.5,264.2 L379,264.1 L379.5,264.1 L380,264.1 L380.5,264.1 L381,264.3 L381.5,264.8 L382,265.3 L382.5,265.9 L383,266.4 L383.5,266.8 L384,266.9 L384.5,266.8 L385,266.5 L385.5,266.2 L386,265.7 L386.5,265.3 L387,264.8 L387.5,264.5 L388,264.3 L388.5,264 L389,263.8 L389.5,263.6 L390,263.4 L390.5,263.2 L391,263 L391.5,262.8 L392,262.6 L392.5,262.3 L393,262.1 L393.5,261.9 L394,261.7 L394.5,261.6 L395,261.4 L395.5,261.4 L396,261.4 L396.5,261.6 L397,261.9 L397.5,262.2 L398,262.5 L398.5,262.7 L399,262.9 L399.5,262.8 L400,262.8 L400.5,262.8 L401,262.7 L401.5,262.6 L402,262.5 L402.5,262.3 L403,262.1 L403.5,261.8 L404,261.5 L404.5,261.2 L405,261 L405.5,260.8 L406,260.7 L406.5,260.6 L407,260.5 L407.5,260.5 L408,260.4 L408.5,260.4 L409,260.3 L409.5,260.3 L410,260.3 L410.5,260.3 L411,260.3 L411.5,260.4 L412,260.4 L412.5,260.5 L413,260.6 L413.5,260.7 L414,260.8 L414.5,260.8 L415,260.8 L415.5,260.9 L416,260.9 L416.5,260.9 L417,260.9 L417.5,260.9 L418,260.9 L418.5,260.9 L419,260.9 L419.5,260.9 L420,260.9 L420.5,260.9 L421,260.9 L421.5,260.9 L422,261 L422.5,261 L423,261 L423.5,261 L424,261 L424.5,261 L425,261 L425.5,261 L426,261 L426.5,261 L427,261 L427.5,261 L428,261 L428.5,261.1 L429,261.1 L429.5,261.1 L430,261.1 L430.5,261.1 L431,261.1 L431.5,261.1 L432,261.1 L432.5,261.1 L433,261.1 L433.5,261.1 L434,261.1 L434.5,261.1 L435,261.1 L435.5,261.2 L436,261.2 L436.5,261.2 L437,261.2 L437.5,261.2 L438,261.2 L438.5,261.2 L439,261.2 L439.5,261.2 L440,261.2 L440.5,261.2 L441,261.2 L441.5,261.2 L442,261.2 L442.5,261.2 L443,261.2 L443.5,261.2 L444,261.2 L444.5,261.2 L445,261.2 L445.5,261.2 L446,261.2 L446.5,261.2 L447,261.2 L447.5,261.2 L448,261.2 L448.5,261.2 L449,261.2 L449.5,261.2 L450,261.2 L450.5,261.2 L451,261.2 L451.5,261.2 L452,261.2 L452.5,261.2 L453,261.2 L453.5,261.2 L454,261.2 L454.5,261.2 L455,261.2 L455.5,261.2 L456,261.2 L456.5,261.2 L457,261.2 L457.5,261.2 L458,261.2 L458.5,261.2 L459,261.2 L459.5,261.2 L460,261.2 L460.5,261.2 L461,261.2 L461.5,261.2 L462,261.2 L462.5,261.2 L463,261.2 L463.5,261.2 L464,261.2 L464.5,261.2 L465,261.2 L465.5,261.2 L466,261.2 L466.5,261.2 L467,261.2 L467.5,261.2 L468,261.2 L468.5,261.2 L469,261.2 L469.5,261.2 L470,261.2 L470.5,261.2 L471,261.2 L471.5,261.2 L472,261.2 L472.5,261.2 L473,261.2 L473.5,261.2 L474,261.2 L474.5,261.2 L475,261.2 L475.5,261.2 L476,261.2 L476.5,261.2 L477,261.2 L477.5,261.2 L478,261.2 L478.5,261.2 L479,261.2 L479.5,261.2 L480,261.2 L480.5,261.2 L481,261.2 L481.5,261.2 L482,261.2 L482.5,261.2 L483,261.2 L483.5,261.3 L484,261.3 L484.5,261.3 L485,261.3 L485.5,261.3 L486,261.3 L486.5,261.3 L487,261.3 L487.5,261.3 L488,261.3 L488.5,261.3 L489,261.3 L489.5,261.3 L490,261.3 L490.5,261.3 L491,261.3 L491.5,261.3 L492,261.3 L492.5,261.3 L493,261.3 L493.5,261.3 L494,261.3 L494.5,261.3 L495,261.3 L495.5,261.3 L496,261.3 L496.5,261.3 L497,261.3 L497.5,261.3 L498,261.3 L498.5,261.3 L499,261.3 L499.5,261.3 L500,261.3 L500.5,261.3 L501,261.3 L501.5,261.3 L502,261.3 L502.5,261.3 L503,261.3 L503.5,261.3 L504,261.3 L504.5,261.3 L505,261.3 L505.5,261.3 L506,261.3 L506.5,261.3 L507,261.3 L507.5,261.3 L508,261.3 L508.5,261.3 L509,261.3 L509.5,261.3 L510,261.3 L510.5,261.3 L511,261.3 L511.5,261.3 L512,261.3 L512.5,261.3 L513,261.3 L513.5,261.3 L514,261.3 L514.5,261.3 L515,261.3 L515.5,261.3 L516,261.3 L516.5,261.3 L517,261.3 L517.5,261.3 L518,261.3 L518.5,261.3 L519,261.3 L519.5,261.3 L520,261.3 L520.5,261.3 L521,261.3 L521.5,261.3 L522,261.3 L522.5,261.3 L523,261.3 L523.5,261.3 L524,261.3 L524.5,261.3 L525,261.3 L525.5,261.3 L526,261.3 L526.5,261.3 L527,261.3 L527.5,261.3 L528,261.3 L528.5,261.3 L529,261.3 L529.5,261.3 L530,261.3 L530.5,261.3 L531,261.3 L531.5,261.3 L532,261.3 L532.5,261.3 L533,261.3 L533.5,261.3 L534,261.3 L534.5,261.3 L535,261.3 L535.5,261.3 L536,261.3 L536.5,261.3 L537,261.3 L537.5,261.3 L538,261.3 L538.5,261.3 L539,261.3 L539.5,261.4 L540,261.4 L540.5,261.4 L541,261.4 L541.5,261.4 L542,261.4 L542.5,261.4 L543,261.4 L543.5,261.4 L544,261.4 L544.5,261.4 L545,261.4 L545.5,261.4 L546,261.4 L546.5,261.4 L547,261.4 L547.5,261.4 L548,261.4 L548.5,261.4 L549,261.4 L549.5,261.4 L550,261.4 L550.5,261.4 L551,261.4 L551.5,261.4 L552,261.4 L552.5,261.4 L553,261.4 L553.5,261.4 L554,261.4 L554.5,261.4 L555,261.4 L555.5,261.4 L556,261.4 L556.5,261.4 L557,261.4 L557.5,261.4 L558,261.4 L558.5,261.4 L559,261.4 L559.5,261.4 L560,261.4 L560.5,261.4 L561,261.4 L561.5,261.4 L562,261.4 L562.5,261.4 L563,261.4 L563.5,261.4 L564,261.4 L564.5,261.4 L565,261.4 L565.5,261.4 L566,261.4 L566.5,261.4 L567,261.4 L567.5,261.4 L568,261.4 L568.5,261.4 L569,261.4 L569.5,261.4 L570,261.4 L570.5,261.4 L571,261.4 L571.5,261.4 L572,261.4 L572.5,261.4 L573,261.4 L573.5,261.5 L574,261.5 L574.5,261.5 L575,261.5 L575.5,261.5 L576,261.5 L576.5,261.5 L577,261.5 L577.5,261.5 L578,261.5 L578.5,261.5 L579,261.5 L579.5,261.5 L580,261.5 L580.5,261.5 L581,261.5 L581.5,261.5 L582,261.5 L582.5,261.5 L583,261.5 L583.5,261.5 L584,261.5 L584.5,261.5 L585,261.5 L585.5,261.5 L586,261.5 L586.5,261.5 L587,261.5 L587.5,261.5 L588,261.5 L588.5,261.5 L589,261.5 L589.5,261.5 L590,261.5 L590.5,261.5 L591,261.5 L591.5,261.5 L592,261.5 L592.5,261.5 L593,261.5 L593.5,261.5 L594,261.5 L594.5,261.5 L595,261.5 L595.5,261.5 L596,261.5 L596.5,261.5 L597,261.5 L597.5,261.5 L598,261.5 L598.5,261.5 L599,261.5 L599.5,261.6 L600,261.6 L600.5,261.6 L601,261.6 L601.5,261.6 L602,261.6 L602.5,261.6 L603,261.6 L603.5,261.6 L604,261.6 L604.5,261.6 L605,261.6 L605.5,261.6 L606,261.6 L606.5,261.6 L607,261.6 L607.5,261.6 L608,261.6 L608.5,261.6 L609,261.6 L609.5,261.6 L610,261.6 L610.5,261.6 L611,261.6 L611.5,261.6 L612,261.6 L612.5,261.6 L613,261.6 L613.5,261.6 L614,261.6 L614.5,261.6 L615,261.6 L615.5,261.6 L616,261.6 L616.5,261.6 L617,261.6 L617.5,261.6 L618,261.6 L618.5,261.6 L619,261.6 L619.5,261.6 L620,261.6 L620.5,261.7 L621,261.7 L621.5,261.7 L622,261.7 L622.5,261.7 L623,261.7 L623.5,261.7 L624,261.7 L624.5,261.7 L625,261.7 L625.5,261.7 L626,261.7 L626.5,261.7 L627,261.7 L627.5,261.7 L628,261.7 L628.5,261.7 L629,261.7 L629.5,261.7 L630,261.7 L630.5,261.7 L631,261.7 L631.5,261.7 L632,261.7 L632.5,261.7 L633,261.7 L633.5,261.7 L634,261.7 L634.5,261.7 L635,261.7 L635.5,261.7 L636,261.7 L636.5,261.7 L637,261.7 L637.5,261.7 L638,261.7 L638.5,261.7 L639,261.8 L639.5,261.8 L640,261.8 L640.5,261.8 L641,261.8 L641.5,261.8 L642,261.8 L642.5,261.8 L643,261.8 L643.5,261.8 L644,261.8 L644.5,261.8 L645,261.8 L645.5,261.8 L646,261.8 L646.5,261.8 L647,261.8 L647.5,261.8 L648,261.8 L648.5,261.8 L649,261.8 L649.5,261.8 L650,261.8 L650.5,261.8 L651,261.8 L651.5,261.8 L652,261.8 L652.5,261.8 L653,261.8 L653.5,261.8 L654,261.8 L654.5,261.8 L655,261.9 L655.5,261.9 L656,261.9 L656.5,261.9 L657,261.9 L657.5,261.9 L658,261.9 L658.5,261.9 L659,261.9 L659.5,261.9 L660,261.9 L660.5,261.9 L661,261.9 L661.5,261.9 L662,261.9 L662.5,261.9 L663,261.9 L663.5,261.9 L664,261.9 L664.5,261.9 L665,261.9 L665.5,261.9 L666,261.9 L666.5,261.9 L667,261.9 L667.5,261.9 L668,261.9 L668.5,261.9 L669,261.9 L669.5,262 L670,262 L670.5,262 L671,262 L671.5,262 L672,262 L672.5,262 L673,262 L673.5,262 L674,262 L674.5,262 L675,262 L675.5,262 L676,262 L676.5,262 L677,262 L677.5,262 L678,262 L678.5,262 L679,262 L679.5,262 L680,262 L680.5,262 L681,262 L681.5,262 L682,262 L682.5,262 L683,262.1 L683.5,262.1 L684,262.1 L684.5,262.1 L685,262.1 L685.5,262.1 L686,262.1 L686.5,262.1 L687,262.1 L687.5,262.1 L688,262.1 L688.5,262.1 L689,262.1 L689.5,262.1 L690,262.1 L690.5,262.1 L691,262.1 L691.5,262.1 L692,262.1 L692.5,262.1 L693,262.1 L693.5,262.1 L694,262.1 L694.5,262.1 L695,262.1 L695.5,262.2 L696,262.2 L696.5,262.2 L697,262.2 L697.5,262.2 L698,262.2 L698.5,262.2 L699,262.2 L699.5,262.2 L700,262.2 L700.5,262.2" fill="none" stroke="#1a1a1a" stroke-width="1.4"/>
<line x1="488.2" y1="59.7" x2="525.1" y2="59.7" stroke="#333" stroke-width="0.8"/>
<path d="M485.3,59.7 V49.2 H499.2" fill="none" stroke="#666" stroke-width="0.8"/>
<line x1="499.2" y1="46.8" x2="499.2" y2="49.2" stroke="#666" stroke-width="0.8"/>
<text transform="translate(487.2,58.1) rotate(-90)" font-family="Liberation Serif, serif" font-size="5.6" fill="#111">6.4</text>
<path d="M488.2,60.6 l1.7,2.9 h-3.4 z" fill="none" stroke="#222" stroke-width="0.9"/>
<path d="M525.1,60.6 l1.7,2.9 h-3.4 z" fill="none" stroke="#222" stroke-width="0.9"/>
<line x1="546.2" y1="59.7" x2="592.2" y2="59.7" stroke="#333" stroke-width="0.8"/>
<path d="M543.6,59.7 V32.4 H562" fill="none" stroke="#666" stroke-width="0.8"/>
<line x1="562" y1="30" x2="562" y2="32.4" stroke="#666" stroke-width="0.8"/>
<text transform="translate(545.5,58.1) rotate(-90)" font-family="Liberation Serif, serif" font-size="5.6" fill="#111">7.3</text>
<path d="M546.2,60.6 l1.7,2.9 h-3.4 z" fill="none" stroke="#222" stroke-width="0.9"/>
<path d="M592.2,60.6 l1.7,2.9 h-3.4 z" fill="none" stroke="#222" stroke-width="0.9"/>
<line x1="606.2" y1="59.7" x2="637.4" y2="59.7" stroke="#333" stroke-width="0.8"/>
<path d="M604.5,59.7 V49.9 H618.3" fill="none" stroke="#666" stroke-width="0.8"/>
<line x1="618.3" y1="47.5" x2="618.3" y2="49.9" stroke="#666" stroke-width="0.8"/>
<text transform="translate(606.4,58.1) rotate(-90)" font-family="Liberation Serif, serif" font-size="5.6" fill="#111">8.1</text>
<path d="M606.2,60.6 l1.7,2.9 h-3.4 z" fill="none" stroke="#222" stroke-width="0.9"/>
<path d="M637.4,60.6 l1.7,2.9 h-3.4 z" fill="none" stroke="#222" stroke-width="0.9"/>
<line x1="641.6" y1="59.7" x2="698.6" y2="59.7" stroke="#333" stroke-width="0.8"/>
<path d="M639.5,59.7 V15.1 H655.3" fill="none" stroke="#666" stroke-width="0.8"/>
<line x1="655.3" y1="12.7" x2="655.3" y2="15.1" stroke="#666" stroke-width="0.8"/>
<text transform="translate(641.4,58.1) rotate(-90)" font-family="Liberation Serif, serif" font-size="5.6" fill="#111">8.6</text>
<path d="M641.6,60.6 l1.7,2.9 h-3.4 z" fill="none" stroke="#222" stroke-width="0.9"/>
<path d="M698.6,60.6 l1.7,2.9 h-3.4 z" fill="none" stroke="#222" stroke-width="0.9"/>
<line x1="648.1" y1="99.5" x2="688.9" y2="99.5" stroke="#333" stroke-width="0.8"/>
<path d="M645.6,99.5 V61.6 H663.6" fill="none" stroke="#666" stroke-width="0.8"/>
<line x1="663.6" y1="59.2" x2="663.6" y2="61.6" stroke="#666" stroke-width="0.8"/>
<text transform="translate(647.5,97.9) rotate(-90)" font-family="Liberation Serif, serif" font-size="5.6" fill="#111">8.7</text>
<path d="M648.1,100.4 l1.7,2.9 h-3.4 z" fill="none" stroke="#222" stroke-width="0.9"/>
<path d="M688.9,100.4 l1.7,2.9 h-3.4 z" fill="none" stroke="#222" stroke-width="0.9"/>
<line x1="608" y1="139.9" x2="641.8" y2="139.9" stroke="#333" stroke-width="0.8"/>
<path d="M604,139.9 V133.9 H620.3" fill="none" stroke="#666" stroke-width="0.8"/>
<line x1="620.3" y1="131.5" x2="620.3" y2="133.9" stroke="#666" stroke-width="0.8"/>
<text transform="translate(605.9,138.3) rotate(-90)" font-family="Liberation Serif, serif" font-size="5.6" fill="#111">8.1</text>
<path d="M608,140.8 l1.7,2.9 h-3.4 z" fill="none" stroke="#222" stroke-width="0.9"/>
<path d="M641.8,140.8 l1.7,2.9 h-3.4 z" fill="none" stroke="#222" stroke-width="0.9"/>
<line x1="548.2" y1="180.1" x2="585" y2="180.1" stroke="#333" stroke-width="0.8"/>
<path d="M545.2,180.1 V154.2 H562" fill="none" stroke="#666" stroke-width="0.8"/>
<line x1="562" y1="151.8" x2="562" y2="154.2" stroke="#666" stroke-width="0.8"/>
<text transform="translate(547.1,178.5) rotate(-90)" font-family="Liberation Serif, serif" font-size="5.6" fill="#111">7.3</text>
<path d="M548.2,181 l1.7,2.9 h-3.4 z" fill="none" stroke="#222" stroke-width="0.9"/>
<path d="M585,181 l1.7,2.9 h-3.4 z" fill="none" stroke="#222" stroke-width="0.9"/>
<line x1="479.5" y1="220.6" x2="507.3" y2="220.6" stroke="#333" stroke-width="0.8"/>
<path d="M475.3,220.6 V212.4 H491.5" fill="none" stroke="#666" stroke-width="0.8"/>
<line x1="491.5" y1="210" x2="491.5" y2="212.4" stroke="#666" stroke-width="0.8"/>
<text transform="translate(477.2,219) rotate(-90)" font-family="Liberation Serif, serif" font-size="5.6" fill="#111">6.3</text>
<path d="M479.5,221.5 l1.7,2.9 h-3.4 z" fill="none" stroke="#222" stroke-width="0.9"/>
<path d="M507.3,221.5 l1.7,2.9 h-3.4 z" fill="none" stroke="#222" stroke-width="0.9"/>
<line x1="334" y1="261.6" x2="354" y2="261.4" stroke="#888" stroke-width="0.6"/>
<text transform="translate(317.1,260.8) rotate(-90)" font-family="Liberation Serif, serif" font-size="5.2" fill="#222">4.2</text>
<path d="M318.1,263.6 l1.7,2.6 h-3.4 z" fill="none" stroke="#222" stroke-width="0.9"/>
<path d="M345.1,263.6 l1.7,2.6 h-3.4 z" fill="none" stroke="#222" stroke-width="0.9"/>
<line x1="338.2" y1="259.2" x2="338.2" y2="264.6" stroke="#333" stroke-width="0.7"/>
<line x1="313" y1="457.2" x2="334" y2="457.2" stroke="#888" stroke-width="0.6"/>
<text transform="translate(316.4,458) rotate(-90)" font-family="Liberation Serif, serif" font-size="5.2" fill="#222">4.2</text>
<path d="M317.4,461.5 l1.7,2.6 h-3.4 z" fill="none" stroke="#222" stroke-width="0.9"/>
<path d="M344.1,456.8 l1.7,2.6 h-3.4 z" fill="none" stroke="#222" stroke-width="0.9"/>
<line x1="337.3" y1="455.1" x2="337.3" y2="459.4" stroke="#333" stroke-width="0.7"/>
<path d="M27.3,390.9 L27.8,390.9 L28.3,390.9 L28.8,390.9 L29.3,390.9 L29.8,390.9 L30.3,390.9 L30.8,390.8 L31.3,390.8 L31.8,390.8 L32.3,390.8 L32.8,390.8 L33.3,390.8 L33.8,390.8 L34.3,390.8 L34.8,390.8 L35.3,390.8 L35.8,390.8 L36.3,390.8 L36.8,390.8 L37.3,390.8 L37.8,390.7 L38.3,390.7 L38.8,390.7 L39.3,390.7 L39.8,390.7 L40.3,390.7 L40.8,390.7 L41.3,390.7 L41.8,390.7 L42.3,390.7 L42.8,390.7 L43.3,390.7 L43.8,390.7 L44.3,390.7 L44.8,390.6 L45.3,390.6 L45.8,390.6 L46.3,390.6 L46.8,390.6 L47.3,390.6 L47.8,390.6 L48.3,390.6 L48.8,390.6 L49.3,390.6 L49.8,390.6 L50.3,390.6 L50.8,390.6 L51.3,390.5 L51.8,390.5 L52.3,390.5 L52.8,390.5 L53.3,390.5 L53.8,390.5 L54.3,390.5 L54.8,390.5 L55.3,390.5 L55.8,390.5 L56.3,390.5 L56.8,390.5 L57.3,390.5 L57.8,390.5 L58.3,390.5 L58.8,390.4 L59.3,390.4 L59.8,390.4 L60.3,390.4 L60.8,390.4 L61.3,390.4 L61.8,390.4 L62.3,390.4 L62.8,390.4 L63.3,390.4 L63.8,390.4 L64.3,390.4 L64.8,390.4 L65.3,390.4 L65.8,390.3 L66.3,390.3 L66.8,390.3 L67.3,390.3 L67.8,390.3 L68.3,390.3 L68.8,390.3 L69.3,390.3 L69.8,390.3 L70.3,390.3 L70.8,390.3 L71.3,390.3 L71.8,390.3 L72.3,390.3 L72.8,390.3 L73.3,390.2 L73.8,390.2 L74.3,390.2 L74.8,390.2 L75.3,390.2 L75.8,390.2 L76.3,390.2 L76.8,390.2 L77.3,390.2 L77.8,390.2 L78.3,390.2 L78.8,390.2 L79.3,390.2 L79.8,390.2 L80.3,390.2 L80.8,390.1 L81.3,390.1 L81.8,390.1 L82.3,390.1 L82.8,390.1 L83.3,390.1 L83.8,390.1 L84.3,390.1 L84.8,390.1 L85.3,390.1 L85.8,390.1 L86.3,390.1 L86.8,390.1 L87.3,390.1 L87.8,390.1 L88.3,390 L88.8,390 L89.3,390 L89.8,390 L90.3,390 L90.8,390 L91.3,390 L91.8,390 L92.3,390 L92.8,390 L93.3,390 L93.8,390 L94.3,390 L94.8,390 L95.3,390 L95.8,390 L96.3,389.9 L96.8,389.9 L97.3,389.9 L97.8,389.9 L98.3,389.9 L98.8,389.9 L99.3,389.9 L99.8,389.9 L100.3,389.9 L100.8,389.9 L101.3,389.9 L101.8,389.9 L102.3,389.9 L102.8,389.9 L103.3,389.9 L103.8,389.9 L104.3,389.8 L104.8,389.8 L105.3,389.8 L105.8,389.8 L106.3,389.8 L106.8,389.8 L107.3,389.8 L107.8,389.8 L108.3,389.8 L108.8,389.8 L109.3,389.8 L109.8,389.8 L110.3,389.8 L110.8,389.8 L111.3,389.8 L111.8,389.8 L112.3,389.7 L112.8,389.7 L113.3,389.7 L113.8,389.7 L114.3,389.7 L114.8,389.7 L115.3,389.7 L115.8,389.7 L116.3,389.7 L116.8,389.7 L117.3,389.7 L117.8,389.7 L118.3,389.7 L118.8,389.7 L119.3,389.7 L119.8,389.7 L120.3,389.7 L120.8,389.6 L121.3,389.6 L121.8,389.6 L122.3,389.6 L122.8,389.6 L123.3,389.6 L123.8,389.6 L124.3,389.6 L124.8,389.6 L125.3,389.6 L125.8,389.6 L126.3,389.6 L126.8,389.6 L127.3,389.6 L127.8,389.6 L128.3,389.6 L128.8,389.6 L129.3,389.5 L129.8,389.5 L130.3,389.5 L130.8,389.5 L131.3,389.5 L131.8,389.5 L132.3,389.5 L132.8,389.5 L133.3,389.5 L133.8,389.5 L134.3,389.5 L134.8,389.5 L135.3,389.5 L135.8,389.5 L136.3,389.5 L136.8,389.5 L137.3,389.5 L137.8,389.4 L138.3,389.4 L138.8,389.4 L139.3,389.4 L139.8,389.4 L140.3,389.4 L140.8,389.4 L141.3,389.4 L141.8,389.4 L142.3,389.4 L142.8,389.4 L143.3,389.4 L143.8,389.4 L144.3,389.4 L144.8,389.4 L145.3,389.4 L145.8,389.4 L146.3,389.3 L146.8,389.3 L147.3,389.3 L147.8,389.3 L148.3,389.3 L148.8,389.3 L149.3,389.3 L149.8,389.3 L150.3,389.3 L150.8,389.3 L151.3,389.3 L151.8,389.3 L152.3,389.3 L152.8,389.3 L153.3,389.3 L153.8,389.3 L154.3,389.3 L154.8,389.3 L155.3,389.2 L155.8,389.2 L156.3,389.2 L156.8,389.2 L157.3,389.2 L157.8,389.2 L158.3,389.2 L158.8,389.2 L159.3,389.2 L159.8,389.2 L160.3,389.2 L160.8,389.2 L161.3,389.2 L161.8,389.2 L162.3,389.2 L162.8,389.2 L163.3,389.2 L163.8,389.2 L164.3,389.1 L164.8,389.1 L165.3,389.1 L165.8,389.1 L166.3,389.1 L166.8,389.1 L167.3,389.1 L167.8,389.1 L168.3,389.1 L168.8,389.1 L169.3,389.1 L169.8,389.1 L170.3,389.1 L170.8,389.1 L171.3,389.1 L171.8,389.1 L172.3,389.1 L172.8,389.1 L173.3,389.1 L173.8,389 L174.3,389 L174.8,389 L175.3,389 L175.8,389 L176.3,389 L176.8,389 L177.3,389 L177.8,389 L178.3,389 L178.8,389 L179.3,389 L179.8,389 L180.3,389 L180.8,389 L181.3,389 L181.8,389 L182.3,389 L182.8,389 L183.3,389 L183.8,388.9 L184.3,388.9 L184.8,388.9 L185.3,388.9 L185.8,388.9 L186.3,388.9 L186.8,388.9 L187.3,388.9 L187.8,388.9 L188.3,388.9 L188.8,388.9 L189.3,388.9 L189.8,388.9 L190.3,388.9 L190.8,388.9 L191.3,388.9 L191.8,388.9 L192.3,388.9 L192.8,388.9 L193.3,388.9 L193.8,388.9 L194.3,388.9 L194.8,388.8 L195.3,388.8 L195.8,388.8 L196.3,388.8 L196.8,388.8 L197.3,388.8 L197.8,388.8 L198.3,388.8 L198.8,388.8 L199.3,388.8 L199.8,388.8 L200.3,388.8 L200.8,388.8 L201.3,388.8 L201.8,388.8 L202.3,388.8 L202.8,388.8 L203.3,388.8 L203.8,388.8 L204.3,388.8 L204.8,388.8 L205.3,388.8 L205.8,388.8 L206.3,388.7 L206.8,388.7 L207.3,388.7 L207.8,388.7 L208.3,388.7 L208.8,388.7 L209.3,388.7 L209.8,388.7 L210.3,388.7 L210.8,388.7 L211.3,388.7 L211.8,388.7 L212.3,388.7 L212.8,388.7 L213.3,388.7 L213.8,388.7 L214.3,388.7 L214.8,388.7 L215.3,388.7 L215.8,388.7 L216.3,388.7 L216.8,388.7 L217.3,388.7 L217.8,388.7 L218.3,388.7 L218.8,388.7 L219.3,388.7 L219.8,388.7 L220.3,388.7 L220.8,388.7 L221.3,388.7 L221.8,388.7 L222.3,388.7 L222.8,388.6 L223.3,388.6 L223.8,388.6 L224.3,388.6 L224.8,388.6 L225.3,388.6 L225.8,388.6 L226.3,388.6 L226.8,388.6 L227.3,388.6 L227.8,388.6 L228.3,388.6 L228.8,388.6 L229.3,388.6 L229.8,388.6 L230.3,388.6 L230.8,388.6 L231.3,388.6 L231.8,388.6 L232.3,388.6 L232.8,388.6 L233.3,388.6 L233.8,388.6 L234.3,388.6 L234.8,388.6 L235.3,388.6 L235.8,388.6 L236.3,388.6 L236.8,388.6 L237.3,388.6 L237.8,388.6 L238.3,388.6 L238.8,388.6 L239.3,388.6 L239.8,388.6 L240.3,388.6 L240.8,388.6 L241.3,388.6 L241.8,388.6 L242.3,388.6 L242.8,388.6 L243.3,388.6 L243.8,388.6 L244.3,388.6 L244.8,388.6 L245.3,388.6 L245.8,388.6 L246.3,388.6 L246.8,388.6 L247.3,388.6 L247.8,388.6 L248.3,388.6 L248.8,388.5 L249.3,388.5 L249.8,388.5 L250.3,388.5 L250.8,388.5 L251.3,388.5 L251.8,388.5 L252.3,388.5 L252.8,388.5 L253.3,388.5 L253.8,388.5 L254.3,388.5 L254.8,388.5 L255.3,388.5 L255.8,388.5 L256.3,388.5 L256.8,388.5 L257.3,388.5 L257.8,388.5 L258.3,388.5 L258.8,388.5 L259.3,388.5 L259.8,388.5 L260.3,388.5 L260.8,388.5 L261.3,388.5 L261.8,388.5 L262.3,388.5 L262.8,388.5 L263.3,388.5 L263.8,388.5 L264.3,388.5 L264.8,388.5 L265.3,388.5 L265.8,388.5 L266.3,388.5 L266.8,388.5 L267.3,388.5 L267.8,388.5 L268.3,388.5 L268.8,388.5 L269.3,388.5 L269.8,388.5 L270.3,388.5 L270.8,388.5 L271.3,388.5 L271.8,388.5 L272.3,388.5 L272.8,388.5 L273.3,388.5 L273.8,388.5 L274.3,388.5 L274.8,388.5 L275.3,388.5 L275.8,388.5 L276.3,388.5 L276.8,388.5 L277.3,388.4 L277.8,388.4 L278.3,388.4 L278.8,388.4 L279.3,388.4 L279.8,388.4 L280.3,388.4 L280.8,388.4 L281.3,388.4 L281.8,388.4 L282.3,388.4 L282.8,388.4 L283.3,388.4 L283.8,388.4 L284.3,388.4 L284.8,388.4 L285.3,388.4 L285.8,388.4 L286.3,388.4 L286.8,388.4 L287.3,388.4 L287.8,388.4 L288.3,388.4 L288.8,388.4 L289.3,388.4 L289.8,388.4 L290.3,388.4 L290.8,388.4 L291.3,388.4 L291.8,388.4 L292.3,388.4 L292.8,388.4 L293.3,388.4 L293.8,388.4 L294.3,388.4 L294.8,388.4 L295.3,388.3 L295.8,388.3 L296.3,388.3 L296.8,388.3 L297.3,388.3 L297.8,388.3 L298.3,388.3 L298.8,388.3 L299.3,388.3 L299.8,388.3 L300.3,388.3 L300.8,388.3 L301.3,388.3 L301.8,388.3 L302.3,388.3 L302.8,388.3 L303.3,388.3 L303.8,388.3 L304.3,388.3 L304.8,388.3 L305.3,388.3 L305.8,388.3 L306.3,388.3 L306.8,388.3 L307.3,388.3 L307.8,388.2 L308.3,388.2 L308.8,388.2 L309.3,388.2 L309.8,388.2 L310.3,388.2 L310.8,388.2 L311.3,388.2 L311.8,388.2 L312.3,388.2 L312.8,388.2 L313.3,388.2 L313.8,388.2 L314.3,388.2 L314.8,388.2 L315.3,388.2 L315.8,388.2 L316.3,388.2 L316.8,388.2 L317.3,388.1 L317.8,388.1 L318.3,388.1 L318.8,388.1 L319.3,388.1 L319.8,388.1 L320.3,388.1 L320.8,388.1 L321.3,388.1 L321.8,388.1 L322.3,388.1 L322.8,388.1 L323.3,388.1 L323.8,388.1 L324.3,388.1 L324.8,388 L325.3,388 L325.8,388 L326.3,388 L326.8,388 L327.3,388 L327.8,388 L328.3,388 L328.8,388 L329.3,388 L329.8,388 L330.3,388 L330.8,388 L331.3,388 L331.8,387.9 L332.3,387.9 L332.8,387.9 L333.3,387.9 L333.8,387.9 L334.3,387.9 L334.8,387.9 L335.3,387.9 L335.8,387.9 L336.3,387.9 L336.8,387.9 L337.3,387.8 L337.8,387.8 L338.3,387.8 L338.8,387.8 L339.3,387.8 L339.8,387.8 L340.3,387.8 L340.8,387.7 L341.3,387.7 L341.8,387.6 L342.3,387.5 L342.8,387.4 L343.3,387.2 L343.8,387.1 L344.3,386.9 L344.8,386.8 L345.3,386.6 L345.8,386.5 L346.3,386.3 L346.8,386.2 L347.3,386.1 L347.8,386 L348.3,385.9 L348.8,385.8 L349.3,385.8 L349.8,385.8 L350.3,385.8 L350.8,385.8 L351.3,385.9 L351.8,385.9 L352.3,385.9 L352.8,386 L353.3,386 L353.8,386.1 L354.3,386.2 L354.8,386.3 L355.3,386.4 L355.8,386.5 L356.3,386.6 L356.8,386.7 L357.3,386.9 L357.8,387 L358.3,387.3 L358.8,388.1 L359.3,389.4 L359.8,390.9 L360.3,392.7 L360.8,394.6 L361.3,396.4 L361.8,398.1 L362.3,399.4 L362.8,400.5 L363.3,401.5 L363.8,402.3 L364.3,403.1 L364.8,404 L365.3,405.1 L365.8,406.3 L366.3,408 L366.8,410.3 L367.3,414.6 L367.8,420.2 L368.3,426.4 L368.8,432.6 L369.3,440.8 L369.8,450.2 L370.3,459.2 L370.8,466.2 L371.3,469.6 L371.8,468.5 L372.3,464 L372.8,457.4 L373.3,449.7 L373.8,442 L374.3,435.3 L374.8,430.9 L375.3,429.1 L375.8,427.8 L376.3,426.7 L376.8,425.8 L377.3,425 L377.8,424.3 L378.3,423.7 L378.8,423 L379.3,422.4 L379.8,421.7 L380.3,421.2 L380.8,420.7 L381.3,420.3 L381.8,419.9 L382.3,419.5 L382.8,419.1 L383.3,418.6 L383.8,418.2 L384.3,417.6 L384.8,417 L385.3,416.3 L385.8,415.5 L386.3,414.5 L386.8,412.2 L387.3,408.7 L387.8,404.9 L388.3,401.3 L388.8,398.8 L389.3,398.1 L389.8,398.2 L390.3,398.5 L390.8,398.8 L391.3,399.1 L391.8,399.2 L392.3,399.2 L392.8,399.2 L393.3,399.1 L393.8,399.1 L394.3,399 L394.8,399 L395.3,398.9 L395.8,398.8 L396.3,398.7 L396.8,398.5 L397.3,398.4 L397.8,398.2 L398.3,398.1 L398.8,397.9 L399.3,397.7 L399.8,397.5 L400.3,397.3 L400.8,397.1 L401.3,396.9 L401.8,396.6 L402.3,396.4 L402.8,396.1 L403.3,395.9 L403.8,395.6 L404.3,395.3 L404.8,395 L405.3,394.7 L405.8,394.4 L406.3,394 L406.8,393.7 L407.3,393.4 L407.8,393 L408.3,392.7 L408.8,392.3 L409.3,391.9 L409.8,391.6 L410.3,391.2 L410.8,390.8 L411.3,390.4 L411.8,390 L412.3,389.6 L412.8,389.2 L413.3,388.8 L413.8,388.3 L414.3,387.9 L414.8,387.5 L415.3,387 L415.8,386.6 L416.3,386.1 L416.8,385.7 L417.3,385.2 L417.8,384.8 L418.3,384.3 L418.8,383.9 L419.3,383.4 L419.8,382.9 L420.3,382.1 L420.8,381.2 L421.3,380.2 L421.8,379.2 L422.3,378.1 L422.8,377.1 L423.3,376.2 L423.8,375.5 L424.3,374.9 L424.8,374.6 L425.3,374.6 L425.8,375.7 L426.3,377.7 L426.8,380.1 L427.3,382.5 L427.8,384.5 L428.3,385.7 L428.8,386 L429.3,386.1 L429.8,386.2 L430.3,386.4 L430.8,386.5 L431.3,386.5 L431.8,386.6 L432.3,386.7 L432.8,386.7 L433.3,386.8 L433.8,386.8 L434.3,386.8 L434.8,386.8 L435.3,386.8 L435.8,386.7 L436.3,386.7 L436.8,386.6 L437.3,386.5 L437.8,386.4 L438.3,386.2 L438.8,386.1 L439.3,386 L439.8,385.8 L440.3,385.7 L440.8,385.6 L441.3,385.4 L441.8,385.3 L442.3,385.2 L442.8,385.2 L443.3,385.1 L443.8,385.1 L444.3,385.1 L444.8,385.1 L445.3,385.2 L445.8,385.3 L446.3,385.4 L446.8,385.5 L447.3,385.7 L447.8,385.8 L448.3,386 L448.8,386.1 L449.3,386.3 L449.8,386.5 L450.3,386.6 L450.8,386.8 L451.3,386.9 L451.8,387 L452.3,387.1 L452.8,387.2 L453.3,387.3 L453.8,387.3 L454.3,387.3 L454.8,387.3 L455.3,387.3 L455.8,387.3 L456.3,387.3 L456.8,387.3 L457.3,387.3 L457.8,387.3 L458.3,387.3 L458.8,387.3 L459.3,387.3 L459.8,387.3 L460.3,387.3 L460.8,387.3 L461.3,387.2 L461.8,387.2 L462.3,387.2 L462.8,387.2 L463.3,387.2 L463.8,387.2 L464.3,387.2 L464.8,387.2 L465.3,387.2 L465.8,387.2 L466.3,387.2 L466.8,387.2 L467.3,387.2 L467.8,387.1 L468.3,387.1 L468.8,387.1 L469.3,387.1 L469.8,387.1 L470.3,387.1 L470.8,387.1 L471.3,387.1 L471.8,387.1 L472.3,387.1 L472.8,387.1 L473.3,387.1 L473.8,387.1 L474.3,387.1 L474.8,387 L475.3,387 L475.8,387 L476.3,387 L476.8,387 L477.3,387 L477.8,387 L478.3,387 L478.8,387 L479.3,387 L479.8,387 L480.3,387 L480.8,387 L481.3,387 L481.8,387 L482.3,387 L482.8,387.1 L483.3,387.1 L483.8,387.2 L484.3,387.2 L484.8,387.3 L485.3,387.4 L485.8,387.4 L486.3,387.5 L486.8,387.6 L487.3,387.6 L487.8,387.6 L488.3,387.7 L488.8,387.7 L489.3,387.7 L489.8,387.6 L490.3,387.6 L490.8,387.6 L491.3,387.5 L491.8,387.3 L492.3,387.1 L492.8,386.9 L493.3,386.5 L493.8,386 L494.3,385.4 L494.8,384.6 L495.3,383.6 L495.8,382.4 L496.3,380.9 L496.8,379.4 L497.3,377.6 L497.8,375.8 L498.3,374 L498.8,372.2 L499.3,370.6 L499.8,369.2 L500.3,368.2 L500.8,367.6 L501.3,367.5 L501.8,367.6 L502.3,368.1 L502.8,368.8 L503.3,369.7 L503.8,370.8 L504.3,372 L504.8,373.4 L505.3,374.8 L505.8,376.2 L506.3,377.6 L506.8,378.9 L507.3,380.1 L507.8,381.2 L508.3,382.2 L508.8,383.1 L509.3,383.9 L509.8,384.5 L510.3,385 L510.8,385.4 L511.3,385.8 L511.8,386 L512.3,386.2 L512.8,386.4 L513.3,386.5 L513.8,386.6 L514.3,386.6 L514.8,386.7 L515.3,386.7 L515.8,386.7 L516.3,386.7 L516.8,386.7 L517.3,386.7 L517.8,386.7 L518.3,386.7 L518.8,386.7 L519.3,386.7 L519.8,386.7 L520.3,386.7 L520.8,386.7 L521.3,386.7 L521.8,386.8 L522.3,386.8 L522.8,386.8 L523.3,386.8 L523.8,386.9 L524.3,386.9 L524.8,387 L525.3,387 L525.8,387 L526.3,387.1 L526.8,387.1 L527.3,387.2 L527.8,387.2 L528.3,387.3 L528.8,387.3 L529.3,387.3 L529.8,387.3 L530.3,387.4 L530.8,387.4 L531.3,387.4 L531.8,387.4 L532.3,387.4 L532.8,387.4 L533.3,387.4 L533.8,387.5 L534.3,387.5 L534.8,387.5 L535.3,387.5 L535.8,387.5 L536.3,387.5 L536.8,387.5 L537.3,387.5 L537.8,387.5 L538.3,387.5 L538.8,387.5 L539.3,387.5 L539.8,387.5 L540.3,387.6 L540.8,387.6 L541.3,387.6 L541.8,387.6 L542.3,387.6 L542.8,387.6 L543.3,387.6 L543.8,387.6 L544.3,387.6 L544.8,387.6 L545.3,387.6 L545.8,387.6 L546.3,387.6 L546.8,387.6 L547.3,387.6 L547.8,387.6 L548.3,387.6 L548.8,387.6 L549.3,387.6 L549.8,387.5 L550.3,387.5 L550.8,387.5 L551.3,387.4 L551.8,387.4 L552.3,387.4 L552.8,387.3 L553.3,387.2 L553.8,387.2 L554.3,387.1 L554.8,387.1 L555.3,387 L555.8,386.9 L556.3,386.9 L556.8,386.8 L557.3,386.7 L557.8,386.7 L558.3,386.6 L558.8,386.5 L559.3,386.4 L559.8,386.4 L560.3,386.3 L560.8,386.2 L561.3,386.1 L561.8,386 L562.3,385.9 L562.8,385.8 L563.3,385.6 L563.8,385.4 L564.3,385.2 L564.8,384.8 L565.3,384.3 L565.8,383.8 L566.3,383.1 L566.8,382.3 L567.3,381.3 L567.8,380.3 L568.3,379.2 L568.8,378.1 L569.3,377.1 L569.8,376.2 L570.3,375.4 L570.8,374.8 L571.3,374.6 L571.8,374.5 L572.3,374.7 L572.8,375 L573.3,375.4 L573.8,375.9 L574.3,376.6 L574.8,377.3 L575.3,378 L575.8,378.7 L576.3,379.4 L576.8,380.1 L577.3,380.6 L577.8,381.2 L578.3,381.6 L578.8,382 L579.3,382.3 L579.8,382.5 L580.3,382.7 L580.8,382.9 L581.3,383 L581.8,383.1 L582.3,383.1 L582.8,383.1 L583.3,383.1 L583.8,383.1 L584.3,383.1 L584.8,383.1 L585.3,383.1 L585.8,383.1 L586.3,383.1 L586.8,383.1 L587.3,383 L587.8,383 L588.3,383 L588.8,383 L589.3,383 L589.8,383 L590.3,383 L590.8,383 L591.3,383 L591.8,383.1 L592.3,383.1 L592.8,383.2 L593.3,383.2 L593.8,383.3 L594.3,383.4 L594.8,383.4 L595.3,383.5 L595.8,383.6 L596.3,383.7 L596.8,383.7 L597.3,383.8 L597.8,383.9 L598.3,383.9 L598.8,384 L599.3,384 L599.8,384.1 L600.3,384.1 L600.8,384.1 L601.3,384.1 L601.8,384.1 L602.3,384.1 L602.8,384.1 L603.3,384.1 L603.8,384.1 L604.3,384.1 L604.8,384.1 L605.3,384.1 L605.8,384.1 L606.3,384.1 L606.8,384.1 L607.3,384.1 L607.8,384.1 L608.3,384.1 L608.8,384 L609.3,384 L609.8,384 L610.3,384 L610.8,384 L611.3,384 L611.8,384 L612.3,384 L612.8,384 L613.3,384 L613.8,384 L614.3,384 L614.8,384 L615.3,384 L615.8,384 L616.3,384 L616.8,384 L617.3,383.9 L617.8,383.9 L618.3,383.9 L618.8,383.8 L619.3,383.7 L619.8,383.6 L620.3,383.5 L620.8,383.3 L621.3,383.1 L621.8,382.8 L622.3,382.4 L622.8,382 L623.3,381.5 L623.8,380.8 L624.3,380.1 L624.8,379.2 L625.3,378.3 L625.8,377.2 L626.3,376.1 L626.8,374.9 L627.3,373.6 L627.8,372.4 L628.3,371.1 L628.8,370 L629.3,368.9 L629.8,367.9 L630.3,367.2 L630.8,366.6 L631.3,366.2 L631.8,366.1 L632.3,366.2 L632.8,366.5 L633.3,366.9 L633.8,367.5 L634.3,368.3 L634.8,369.2 L635.3,370.1 L635.8,371.2 L636.3,372.3 L636.8,373.4 L637.3,374.5 L637.8,375.5 L638.3,376.6 L638.8,377.5 L639.3,378.5 L639.8,379.3 L640.3,380 L640.8,380.7 L641.3,381.3 L641.8,381.8 L642.3,382.2 L642.8,382.6 L643.3,382.9 L643.8,383.1 L644.3,383.3 L644.8,383.5 L645.3,383.6 L645.8,383.7 L646.3,383.8 L646.8,383.8 L647.3,383.9 L647.8,383.9 L648.3,383.9 L648.8,384 L649.3,384 L649.8,384 L650.3,384 L650.8,384 L651.3,384 L651.8,384 L652.3,384 L652.8,384 L653.3,384 L653.8,384 L654.3,384 L654.8,384 L655.3,384 L655.8,384 L656.3,384 L656.8,384 L657.3,383.9 L657.8,383.9 L658.3,383.8 L658.8,383.8 L659.3,383.7 L659.8,383.5 L660.3,383.3 L660.8,383.1 L661.3,382.7 L661.8,382.3 L662.3,381.7 L662.8,381 L663.3,380 L663.8,378.9 L664.3,377.5 L664.8,375.8 L665.3,373.8 L665.8,371.5 L666.3,368.9 L666.8,366 L667.3,362.8 L667.8,359.4 L668.3,355.7 L668.8,351.9 L669.3,348.1 L669.8,344.4 L670.3,340.8 L670.8,337.5 L671.3,334.6 L671.8,332.1 L672.3,330.3 L672.8,329.1 L673.3,328.6 L673.8,328.8 L674.3,329.5 L674.8,330.8 L675.3,332.6 L675.8,334.9 L676.3,337.5 L676.8,340.5 L677.3,343.6 L677.8,347 L678.3,350.4 L678.8,353.8 L679.3,357.2 L679.8,360.4 L680.3,363.4 L680.8,366.3 L681.3,368.9 L681.8,371.3 L682.3,373.4 L682.8,375.2 L683.3,376.8 L683.8,378.2 L684.3,379.3 L684.8,380.3 L685.3,381.1 L685.8,381.7 L686.3,382.3 L686.8,382.7 L687.3,383 L687.8,383.3 L688.3,383.5 L688.8,383.6 L689.3,383.7 L689.8,383.8 L690.3,383.9 L690.8,383.9 L691.3,383.9 L691.8,384 L692.3,384 L692.8,384 L693.3,384 L693.8,384 L694.3,384 L694.8,384 L695.3,384 L695.8,384 L696.3,384 L696.8,384 L697.3,384 L697.8,384 L698.3,384 L698.8,384 L699.3,384 L699.8,384 L700.3,384" fill="none" stroke="#e4282a" stroke-width="1.45"/>
<path d="M27.3,450.3 L27.8,450.8 L28.3,451.2 L28.8,451.7 L29.3,452.1 L29.8,452.5 L30.3,452.9 L30.8,453.3 L31.3,453.6 L31.8,453.9 L32.3,454.1 L32.8,454.4 L33.3,454.6 L33.8,454.9 L34.3,455.1 L34.8,455.3 L35.3,455.5 L35.8,455.7 L36.3,455.9 L36.8,456.1 L37.3,456.3 L37.8,456.5 L38.3,456.6 L38.8,456.8 L39.3,456.9 L39.8,457 L40.3,457.1 L40.8,457.2 L41.3,457.3 L41.8,457.3 L42.3,457.4 L42.8,457.4 L43.3,457.5 L43.8,457.5 L44.3,457.5 L44.8,457.5 L45.3,457.6 L45.8,457.6 L46.3,457.6 L46.8,457.6 L47.3,457.7 L47.8,457.7 L48.3,457.7 L48.8,457.7 L49.3,457.8 L49.8,457.8 L50.3,457.8 L50.8,457.8 L51.3,457.9 L51.8,457.9 L52.3,457.9 L52.8,457.9 L53.3,457.9 L53.8,457.9 L54.3,458 L54.8,458 L55.3,458 L55.8,458 L56.3,458 L56.8,458 L57.3,458.1 L57.8,458.1 L58.3,458.1 L58.8,458.1 L59.3,458.1 L59.8,458.1 L60.3,458.1 L60.8,458.2 L61.3,458.2 L61.8,458.2 L62.3,458.2 L62.8,458.2 L63.3,458.2 L63.8,458.2 L64.3,458.2 L64.8,458.2 L65.3,458.3 L65.8,458.3 L66.3,458.3 L66.8,458.3 L67.3,458.3 L67.8,458.3 L68.3,458.3 L68.8,458.3 L69.3,458.3 L69.8,458.3 L70.3,458.3 L70.8,458.4 L71.3,458.4 L71.8,458.4 L72.3,458.4 L72.8,458.4 L73.3,458.4 L73.8,458.4 L74.3,458.4 L74.8,458.4 L75.3,458.4 L75.8,458.4 L76.3,458.4 L76.8,458.4 L77.3,458.5 L77.8,458.5 L78.3,458.5 L78.8,458.5 L79.3,458.5 L79.8,458.5 L80.3,458.5 L80.8,458.5 L81.3,458.5 L81.8,458.5 L82.3,458.5 L82.8,458.6 L83.3,458.6 L83.8,458.6 L84.3,458.6 L84.8,458.6 L85.3,458.6 L85.8,458.6 L86.3,458.6 L86.8,458.6 L87.3,458.6 L87.8,458.7 L88.3,458.7 L88.8,458.7 L89.3,458.7 L89.8,458.7 L90.3,458.7 L90.8,458.7 L91.3,458.7 L91.8,458.7 L92.3,458.7 L92.8,458.7 L93.3,458.7 L93.8,458.6 L94.3,458.6 L94.8,458.6 L95.3,458.6 L95.8,458.5 L96.3,458.5 L96.8,458.4 L97.3,458.3 L97.8,458.3 L98.3,458.2 L98.8,458.1 L99.3,458 L99.8,457.8 L100.3,457.7 L100.8,457.5 L101.3,457.3 L101.8,457.1 L102.3,456.9 L102.8,456.7 L103.3,456.5 L103.8,456.2 L104.3,455.9 L104.8,455.6 L105.3,455.4 L105.8,455.1 L106.3,454.7 L106.8,454.4 L107.3,454.1 L107.8,453.8 L108.3,453.5 L108.8,453.3 L109.3,453 L109.8,452.7 L110.3,452.5 L110.8,452.3 L111.3,452.2 L111.8,452 L112.3,451.9 L112.8,451.8 L113.3,451.8 L113.8,451.8 L114.3,451.9 L114.8,451.9 L115.3,452 L115.8,452.1 L116.3,452.3 L116.8,452.4 L117.3,452.6 L117.8,452.8 L118.3,453.1 L118.8,453.3 L119.3,453.5 L119.8,453.8 L120.3,454.1 L120.8,454.4 L121.3,454.7 L121.8,454.9 L122.3,455.2 L122.8,455.5 L123.3,455.8 L123.8,456.1 L124.3,456.3 L124.8,456.6 L125.3,456.8 L125.8,457 L126.3,457.3 L126.8,457.5 L127.3,457.7 L127.8,457.9 L128.3,458 L128.8,458.2 L129.3,458.3 L129.8,458.5 L130.3,458.6 L130.8,458.7 L131.3,458.8 L131.8,458.9 L132.3,459 L132.8,459 L133.3,459.1 L133.8,459.2 L134.3,459.2 L134.8,459.3 L135.3,459.3 L135.8,459.4 L136.3,459.4 L136.8,459.4 L137.3,459.5 L137.8,459.5 L138.3,459.5 L138.8,459.5 L139.3,459.5 L139.8,459.6 L140.3,459.6 L140.8,459.6 L141.3,459.6 L141.8,459.6 L142.3,459.6 L142.8,459.7 L143.3,459.7 L143.8,459.7 L144.3,459.7 L144.8,459.7 L145.3,459.7 L145.8,459.7 L146.3,459.8 L146.8,459.8 L147.3,459.8 L147.8,459.8 L148.3,459.8 L148.8,459.8 L149.3,459.8 L149.8,459.9 L150.3,459.9 L150.8,459.9 L151.3,459.9 L151.8,459.9 L152.3,459.9 L152.8,459.9 L153.3,459.9 L153.8,460 L154.3,460 L154.8,460 L155.3,460 L155.8,460 L156.3,460 L156.8,460 L157.3,460 L157.8,460 L158.3,460.1 L158.8,460.1 L159.3,460.1 L159.8,460.1 L160.3,460.1 L160.8,460.1 L161.3,460.1 L161.8,460.1 L162.3,460.1 L162.8,460.1 L163.3,460.1 L163.8,460.1 L164.3,460.2 L164.8,460.2 L165.3,460.2 L165.8,460.2 L166.3,460.2 L166.8,460.2 L167.3,460.2 L167.8,460.2 L168.3,460.2 L168.8,460.2 L169.3,460.2 L169.8,460.2 L170.3,460.2 L170.8,460.2 L171.3,460.2 L171.8,460.2 L172.3,460.2 L172.8,460.2 L173.3,460.2 L173.8,460.2 L174.3,460.2 L174.8,460.2 L175.3,460.2 L175.8,460.2 L176.3,460.2 L176.8,460.2 L177.3,460.2 L177.8,460.2 L178.3,460.2 L178.8,460.2 L179.3,460.2 L179.8,460.2 L180.3,460.2 L180.8,460.2 L181.3,460.2 L181.8,460.2 L182.3,460.2 L182.8,460.2 L183.3,460.2 L183.8,460.2 L184.3,460.2 L184.8,460.2 L185.3,460.2 L185.8,460.2 L186.3,460.2 L186.8,460.2 L187.3,460.3 L187.8,460.3 L188.3,460.3 L188.8,460.3 L189.3,460.3 L189.8,460.3 L190.3,460.3 L190.8,460.3 L191.3,460.3 L191.8,460.3 L192.3,460.3 L192.8,460.3 L193.3,460.3 L193.8,460.3 L194.3,460.3 L194.8,460.3 L195.3,460.3 L195.8,460.3 L196.3,460.3 L196.8,460.3 L197.3,460.3 L197.8,460.3 L198.3,460.3 L198.8,460.3 L199.3,460.3 L199.8,460.3 L200.3,460.3 L200.8,460.3 L201.3,460.3 L201.8,460.3 L202.3,460.3 L202.8,460.3 L203.3,460.3 L203.8,460.3 L204.3,460.3 L204.8,460.3 L205.3,460.3 L205.8,460.3 L206.3,460.3 L206.8,460.3 L207.3,460.3 L207.8,460.3 L208.3,460.3 L208.8,460.3 L209.3,460.3 L209.8,460.3 L210.3,460.3 L210.8,460.3 L211.3,460.3 L211.8,460.3 L212.3,460.3 L212.8,460.3 L213.3,460.3 L213.8,460.3 L214.3,460.3 L214.8,460.3 L215.3,460.3 L215.8,460.3 L216.3,460.3 L216.8,460.3 L217.3,460.3 L217.8,460.3 L218.3,460.3 L218.8,460.3 L219.3,460.3 L219.8,460.3 L220.3,460.3 L220.8,460.3 L221.3,460.3 L221.8,460.3 L222.3,460.3 L222.8,460.3 L223.3,460.3 L223.8,460.3 L224.3,460.3 L224.8,460.3 L225.3,460.3 L225.8,460.3 L226.3,460.3 L226.8,460.3 L227.3,460.3 L227.8,460.3 L228.3,460.3 L228.8,460.3 L229.3,460.3 L229.8,460.3 L230.3,460.3 L230.8,460.3 L231.3,460.3 L231.8,460.3 L232.3,460.3 L232.8,460.3 L233.3,460.3 L233.8,460.3 L234.3,460.3 L234.8,460.3 L235.3,460.3 L235.8,460.3 L236.3,460.3 L236.8,460.4 L237.3,460.4 L237.8,460.4 L238.3,460.4 L238.8,460.4 L239.3,460.4 L239.8,460.4 L240.3,460.4 L240.8,460.4 L241.3,460.4 L241.8,460.4 L242.3,460.4 L242.8,460.4 L243.3,460.4 L243.8,460.4 L244.3,460.4 L244.8,460.4 L245.3,460.4 L245.8,460.4 L246.3,460.4 L246.8,460.4 L247.3,460.4 L247.8,460.4 L248.3,460.4 L248.8,460.4 L249.3,460.4 L249.8,460.4 L250.3,460.4 L250.8,460.4 L251.3,460.4 L251.8,460.4 L252.3,460.4 L252.8,460.4 L253.3,460.4 L253.8,460.4 L254.3,460.4 L254.8,460.4 L255.3,460.4 L255.8,460.4 L256.3,460.4 L256.8,460.4 L257.3,460.4 L257.8,460.4 L258.3,460.4 L258.8,460.4 L259.3,460.4 L259.8,460.4 L260.3,460.4 L260.8,460.4 L261.3,460.4 L261.8,460.4 L262.3,460.4 L262.8,460.4 L263.3,460.4 L263.8,460.4 L264.3,460.4 L264.8,460.4 L265.3,460.4 L265.8,460.4 L266.3,460.4 L266.8,460.4 L267.3,460.4 L267.8,460.4 L268.3,460.4 L268.8,460.4 L269.3,460.4 L269.8,460.4 L270.3,460.4 L270.8,460.4 L271.3,460.4 L271.8,460.4 L272.3,460.4 L272.8,460.4 L273.3,460.4 L273.8,460.4 L274.3,460.4 L274.8,460.4 L275.3,460.4 L275.8,460.4 L276.3,460.4 L276.8,460.4 L277.3,460.4 L277.8,460.4 L278.3,460.4 L278.8,460.4 L279.3,460.4 L279.8,460.4 L280.3,460.4 L280.8,460.4 L281.3,460.4 L281.8,460.4 L282.3,460.4 L282.8,460.4 L283.3,460.4 L283.8,460.4 L284.3,460.4 L284.8,460.4 L285.3,460.4 L285.8,460.4 L286.3,460.4 L286.8,460.4 L287.3,460.4 L287.8,460.4 L288.3,460.4 L288.8,460.4 L289.3,460.4 L289.8,460.4 L290.3,460.4 L290.8,460.4 L291.3,460.4 L291.8,460.4 L292.3,460.4 L292.8,460.4 L293.3,460.4 L293.8,460.4 L294.3,460.4 L294.8,460.4 L295.3,460.4 L295.8,460.4 L296.3,460.4 L296.8,460.4 L297.3,460.4 L297.8,460.4 L298.3,460.4 L298.8,460.4 L299.3,460.4 L299.8,460.4 L300.3,460.4 L300.8,460.4 L301.3,460.4 L301.8,460.4 L302.3,460.4 L302.8,460.4 L303.3,460.4 L303.8,460.4 L304.3,460.4 L304.8,460.4 L305.3,460.4 L305.8,460.4 L306.3,460.4 L306.8,460.4 L307.3,460.4 L307.8,460.4 L308.3,460.4 L308.8,460.4 L309.3,460.4 L309.8,460.4 L310.3,460.4 L310.8,460.4 L311.3,460.4 L311.8,460.4 L312.3,460.4 L312.8,460.4 L313.3,460.4 L313.8,460.4 L314.3,460.4 L314.8,460.4 L315.3,460.4 L315.8,460.4 L316.3,460.4 L316.8,460.4 L317.3,460.4 L317.8,460.4 L318.3,460.4 L318.8,460.4 L319.3,460.4 L319.8,460.4 L320.3,460.3 L320.8,460.3 L321.3,460.3 L321.8,460.2 L322.3,460.2 L322.8,460.2 L323.3,460.1 L323.8,460.1 L324.3,460 L324.8,459.9 L325.3,459.9 L325.8,459.8 L326.3,459.7 L326.8,459.7 L327.3,459.6 L327.8,459.5 L328.3,459.4 L328.8,459.3 L329.3,459.2 L329.8,459.1 L330.3,459 L330.8,458.9 L331.3,458.8 L331.8,458.7 L332.3,458.6 L332.8,458.5 L333.3,458.4 L333.8,458.3 L334.3,458.2 L334.8,458.1 L335.3,457.9 L335.8,457.8 L336.3,457.7 L336.8,457.6 L337.3,457.4 L337.8,457.3 L338.3,457.2 L338.8,457.1 L339.3,456.9 L339.8,456.8 L340.3,456.7 L340.8,456.5 L341.3,456.4 L341.8,456.3 L342.3,456.2 L342.8,456 L343.3,455.9 L343.8,455.8 L344.3,455.6 L344.8,455.5 L345.3,455.3 L345.8,455.1 L346.3,454.9 L346.8,454.7 L347.3,454.4 L347.8,454.2 L348.3,454.1 L348.8,454 L349.3,454 L349.8,454.1 L350.3,454.2 L350.8,454.4 L351.3,454.7 L351.8,455 L352.3,455.3 L352.8,455.7 L353.3,456.1 L353.8,456.5 L354.3,456.9 L354.8,457.4 L355.3,457.9 L355.8,458.6 L356.3,459.3 L356.8,460.1 L357.3,461 L357.8,461.9 L358.3,462.8 L358.8,463.7 L359.3,464.6 L359.8,465.6 L360.3,466.6 L360.8,467.8 L361.3,468.9 L361.8,469.9 L362.3,470.8 L362.8,471.4 L363.3,471.8 L363.8,472.2 L364.3,472.5 L364.8,472.9 L365.3,473.3 L365.8,473.9 L366.3,474.7 L366.8,476.5 L367.3,479.7 L367.8,484 L368.3,489 L368.8,494.2 L369.3,501.9 L369.8,512.3 L370.3,522.5 L370.8,529.5 L371.3,530.6 L371.8,528.1 L372.3,523.6 L372.8,517.9 L373.3,511.8 L373.8,506 L374.3,500.7 L374.8,494.7 L375.3,488.9 L375.8,484.5 L376.3,482.3 L376.8,480.6 L377.3,479.1 L377.8,477.9 L378.3,477.1 L378.8,476.7 L379.3,477.5 L379.8,480.1 L380.3,483.3 L380.8,486.4 L381.3,490.3 L381.8,493.8 L382.3,495.7 L382.8,495.6 L383.3,495 L383.8,494 L384.3,492.7 L384.8,491.1 L385.3,489.5 L385.8,487.9 L386.3,486.4 L386.8,484.8 L387.3,482.8 L387.8,480.8 L388.3,478.8 L388.8,476.9 L389.3,475.4 L389.8,474.3 L390.3,473.6 L390.8,473 L391.3,472.3 L391.8,471.4 L392.3,470 L392.8,468.2 L393.3,466.3 L393.8,464.5 L394.3,462.9 L394.8,461.7 L395.3,461.1 L395.8,461.4 L396.3,462.4 L396.8,464 L397.3,465.7 L397.8,467.4 L398.3,468.7 L398.8,469.7 L399.3,470.7 L399.8,471.5 L400.3,471.8 L400.8,471.4 L401.3,470.2 L401.8,468.5 L402.3,466.6 L402.8,464.6 L403.3,462.7 L403.8,460.5 L404.3,457.9 L404.8,455.2 L405.3,453 L405.8,451.7 L406.3,451.5 L406.8,452.5 L407.3,453.9 L407.8,455.1 L408.3,455.3 L408.8,454.8 L409.3,454 L409.8,453 L410.3,451.9 L410.8,451.1 L411.3,450.5 L411.8,450.5 L412.3,451.6 L412.8,453.1 L413.3,454.2 L413.8,454.3 L414.3,454.3 L414.8,454.3 L415.3,454.3 L415.8,454.3 L416.3,454.3 L416.8,454.3 L417.3,454.3 L417.8,454.4 L418.3,454.6 L418.8,454.8 L419.3,455 L419.8,455.3 L420.3,455.5 L420.8,455.8 L421.3,456.1 L421.8,456.4 L422.3,456.6 L422.8,456.9 L423.3,457.1 L423.8,457.2 L424.3,457.4 L424.8,457.5 L425.3,457.7 L425.8,457.8 L426.3,457.9 L426.8,458.1 L427.3,458.2 L427.8,458.4 L428.3,458.5 L428.8,458.6 L429.3,458.7 L429.8,458.8 L430.3,458.9 L430.8,459 L431.3,459.1 L431.8,459.1 L432.3,459.2 L432.8,459.2 L433.3,459.2 L433.8,459.2 L434.3,459.1 L434.8,459 L435.3,458.8 L435.8,458.6 L436.3,458.3 L436.8,458 L437.3,457.8 L437.8,457.5 L438.3,457.2 L438.8,456.9 L439.3,456.7 L439.8,456.5 L440.3,456.3 L440.8,456.1 L441.3,455.9 L441.8,455.7 L442.3,455.7 L442.8,455.8 L443.3,455.9 L443.8,456 L444.3,456.2 L444.8,456.5 L445.3,456.7 L445.8,457 L446.3,457.3 L446.8,457.6 L447.3,457.9 L447.8,458.1 L448.3,458.4 L448.8,458.6 L449.3,458.9 L449.8,459 L450.3,459.1 L450.8,459.2 L451.3,459.2 L451.8,459.2 L452.3,459.3 L452.8,459.3 L453.3,459.3 L453.8,459.3 L454.3,459.3 L454.8,459.3 L455.3,459.3 L455.8,459.3 L456.3,459.4 L456.8,459.4 L457.3,459.4 L457.8,459.4 L458.3,459.4 L458.8,459.4 L459.3,459.4 L459.8,459.4 L460.3,459.4 L460.8,459.4 L461.3,459.4 L461.8,459.4 L462.3,459.4 L462.8,459.4 L463.3,459.4 L463.8,459.4 L464.3,459.4 L464.8,459.4 L465.3,459.4 L465.8,459.4 L466.3,459.5 L466.8,459.5 L467.3,459.5 L467.8,459.5 L468.3,459.5 L468.8,459.5 L469.3,459.5 L469.8,459.5 L470.3,459.5 L470.8,459.5 L471.3,459.5 L471.8,459.5 L472.3,459.5 L472.8,459.5 L473.3,459.5 L473.8,459.5 L474.3,459.5 L474.8,459.5 L475.3,459.5 L475.8,459.5 L476.3,459.5 L476.8,459.5 L477.3,459.5 L477.8,459.5 L478.3,459.5 L478.8,459.5 L479.3,459.5 L479.8,459.5 L480.3,459.5 L480.8,459.6 L481.3,459.6 L481.8,459.6 L482.3,459.6 L482.8,459.6 L483.3,459.6 L483.8,459.6 L484.3,459.6 L484.8,459.6 L485.3,459.6 L485.8,459.6 L486.3,459.6 L486.8,459.6 L487.3,459.6 L487.8,459.6 L488.3,459.6 L488.8,459.6 L489.3,459.6 L489.8,459.6 L490.3,459.6 L490.8,459.6 L491.3,459.6 L491.8,459.6 L492.3,459.6 L492.8,459.6 L493.3,459.6 L493.8,459.6 L494.3,459.6 L494.8,459.6 L495.3,459.6 L495.8,459.6 L496.3,459.6 L496.8,459.6 L497.3,459.6 L497.8,459.6 L498.3,459.6 L498.8,459.6 L499.3,459.6 L499.8,459.6 L500.3,459.6 L500.8,459.6 L501.3,459.7 L501.8,459.7 L502.3,459.7 L502.8,459.7 L503.3,459.7 L503.8,459.7 L504.3,459.7 L504.8,459.7 L505.3,459.7 L505.8,459.7 L506.3,459.7 L506.8,459.7 L507.3,459.7 L507.8,459.7 L508.3,459.7 L508.8,459.7 L509.3,459.7 L509.8,459.7 L510.3,459.7 L510.8,459.7 L511.3,459.7 L511.8,459.7 L512.3,459.7 L512.8,459.7 L513.3,459.7 L513.8,459.7 L514.3,459.7 L514.8,459.7 L515.3,459.7 L515.8,459.7 L516.3,459.7 L516.8,459.7 L517.3,459.7 L517.8,459.7 L518.3,459.7 L518.8,459.7 L519.3,459.7 L519.8,459.7 L520.3,459.7 L520.8,459.7 L521.3,459.7 L521.8,459.7 L522.3,459.7 L522.8,459.7 L523.3,459.7 L523.8,459.7 L524.3,459.7 L524.8,459.7 L525.3,459.7 L525.8,459.7 L526.3,459.7 L526.8,459.7 L527.3,459.7 L527.8,459.7 L528.3,459.7 L528.8,459.7 L529.3,459.7 L529.8,459.7 L530.3,459.7 L530.8,459.7 L531.3,459.7 L531.8,459.7 L532.3,459.7 L532.8,459.7 L533.3,459.7 L533.8,459.6 L534.3,459.6 L534.8,459.6 L535.3,459.6 L535.8,459.6 L536.3,459.5 L536.8,459.5 L537.3,459.5 L537.8,459.4 L538.3,459.4 L538.8,459.4 L539.3,459.3 L539.8,459.3 L540.3,459.3 L540.8,459.2 L541.3,459.2 L541.8,459.1 L542.3,459.1 L542.8,459.1 L543.3,459 L543.8,459 L544.3,458.9 L544.8,458.9 L545.3,458.8 L545.8,458.8 L546.3,458.7 L546.8,458.7 L547.3,458.6 L547.8,458.6 L548.3,458.5 L548.8,458.5 L549.3,458.4 L549.8,458.4 L550.3,458.3 L550.8,458.2 L551.3,458.2 L551.8,458.1 L552.3,458.1 L552.8,458 L553.3,458 L553.8,457.9 L554.3,457.8 L554.8,457.8 L555.3,457.7 L555.8,457.7 L556.3,457.6 L556.8,457.6 L557.3,457.5 L557.8,457.5 L558.3,457.4 L558.8,457.3 L559.3,457.3 L559.8,457.2 L560.3,457.2 L560.8,457.1 L561.3,457.1 L561.8,457 L562.3,457 L562.8,456.9 L563.3,456.9 L563.8,456.8 L564.3,456.8 L564.8,456.8 L565.3,456.7 L565.8,456.7 L566.3,456.6 L566.8,456.6 L567.3,456.5 L567.8,456.5 L568.3,456.5 L568.8,456.4 L569.3,456.4 L569.8,456.4 L570.3,456.3 L570.8,456.3 L571.3,456.3 L571.8,456.2 L572.3,456.2 L572.8,456.2 L573.3,456.1 L573.8,456.1 L574.3,456.1 L574.8,456 L575.3,456 L575.8,456 L576.3,455.9 L576.8,455.9 L577.3,455.8 L577.8,455.8 L578.3,455.8 L578.8,455.7 L579.3,455.7 L579.8,455.7 L580.3,455.6 L580.8,455.6 L581.3,455.6 L581.8,455.5 L582.3,455.5 L582.8,455.5 L583.3,455.5 L583.8,455.4 L584.3,455.4 L584.8,455.4 L585.3,455.4 L585.8,455.3 L586.3,455.3 L586.8,455.3 L587.3,455.3 L587.8,455.3 L588.3,455.3 L588.8,455.2 L589.3,455.2 L589.8,455.2 L590.3,455.2 L590.8,455.2 L591.3,455.2 L591.8,455.2 L592.3,455.2 L592.8,455.2 L593.3,455.2 L593.8,455.3 L594.3,455.3 L594.8,455.4 L595.3,455.4 L595.8,455.5 L596.3,455.6 L596.8,455.6 L597.3,455.7 L597.8,455.8 L598.3,455.9 L598.8,456 L599.3,456 L599.8,456.1 L600.3,456.2 L600.8,456.3 L601.3,456.4 L601.8,456.4 L602.3,456.5 L602.8,456.5 L603.3,456.6 L603.8,456.6 L604.3,456.7 L604.8,456.7 L605.3,456.7 L605.8,456.7 L606.3,456.7 L606.8,456.8 L607.3,456.8 L607.8,456.8 L608.3,456.8 L608.8,456.8 L609.3,456.8 L609.8,456.8 L610.3,456.9 L610.8,456.9 L611.3,456.9 L611.8,456.9 L612.3,456.9 L612.8,456.9 L613.3,456.9 L613.8,456.9 L614.3,457 L614.8,457 L615.3,457 L615.8,457 L616.3,457 L616.8,457 L617.3,457 L617.8,457 L618.3,457 L618.8,457.1 L619.3,457.1 L619.8,457.1 L620.3,457.1 L620.8,457.1 L621.3,457.1 L621.8,457.1 L622.3,457.1 L622.8,457.1 L623.3,457.2 L623.8,457.2 L624.3,457.2 L624.8,457.2 L625.3,457.2 L625.8,457.2 L626.3,457.2 L626.8,457.2 L627.3,457.2 L627.8,457.2 L628.3,457.2 L628.8,457.2 L629.3,457.3 L629.8,457.3 L630.3,457.3 L630.8,457.3 L631.3,457.3 L631.8,457.3 L632.3,457.3 L632.8,457.3 L633.3,457.3 L633.8,457.3 L634.3,457.3 L634.8,457.3 L635.3,457.3 L635.8,457.3 L636.3,457.4 L636.8,457.4 L637.3,457.4 L637.8,457.4 L638.3,457.4 L638.8,457.4 L639.3,457.4 L639.8,457.4 L640.3,457.4 L640.8,457.4 L641.3,457.4 L641.8,457.4 L642.3,457.4 L642.8,457.4 L643.3,457.4 L643.8,457.4 L644.3,457.4 L644.8,457.4 L645.3,457.4 L645.8,457.4 L646.3,457.4 L646.8,457.5 L647.3,457.5 L647.8,457.5 L648.3,457.5 L648.8,457.5 L649.3,457.5 L649.8,457.5 L650.3,457.5 L650.8,457.5 L651.3,457.5 L651.8,457.5 L652.3,457.5 L652.8,457.5 L653.3,457.5 L653.8,457.5 L654.3,457.5 L654.8,457.5 L655.3,457.5 L655.8,457.5 L656.3,457.5 L656.8,457.5 L657.3,457.5 L657.8,457.5 L658.3,457.5 L658.8,457.5 L659.3,457.5 L659.8,457.5 L660.3,457.5 L660.8,457.5 L661.3,457.5 L661.8,457.5 L662.3,457.4 L662.8,457.4 L663.3,457.3 L663.8,457.2 L664.3,457 L664.8,456.9 L665.3,456.7 L665.8,456.6 L666.3,456.4 L666.8,456.2 L667.3,456 L667.8,455.9 L668.3,455.7 L668.8,455.6 L669.3,455.4 L669.8,455.3 L670.3,455.2 L670.8,455.1 L671.3,455 L671.8,454.9 L672.3,454.9 L672.8,454.9 L673.3,454.9 L673.8,455 L674.3,455 L674.8,455.1 L675.3,455.1 L675.8,455.2 L676.3,455.3 L676.8,455.4 L677.3,455.5 L677.8,455.6 L678.3,455.8 L678.8,455.9 L679.3,456 L679.8,456.1 L680.3,456.2 L680.8,456.3 L681.3,456.5 L681.8,456.6 L682.3,456.7 L682.8,456.7 L683.3,456.8 L683.8,456.9 L684.3,456.9 L684.8,457 L685.3,457 L685.8,457 L686.3,457.1 L686.8,457.1 L687.3,457.1 L687.8,457.2 L688.3,457.2 L688.8,457.2 L689.3,457.2 L689.8,457.2 L690.3,457.3 L690.8,457.3 L691.3,457.3 L691.8,457.3 L692.3,457.4 L692.8,457.4 L693.3,457.4 L693.8,457.4 L694.3,457.4 L694.8,457.4 L695.3,457.4 L695.8,457.5 L696.3,457.5 L696.8,457.5 L697.3,457.5 L697.8,457.5 L698.3,457.5 L698.8,457.5 L699.3,457.5 L699.8,457.5" fill="none" stroke="#111" stroke-width="1.3"/>
<line x1="489.2" y1="387.8" x2="519.6" y2="386.7" stroke="#333" stroke-width="0.8"/>
<path d="M486.4,387.7 V367.8 H501.2" fill="none" stroke="#666" stroke-width="0.8"/>
<line x1="501.2" y1="365.4" x2="501.2" y2="367.8" stroke="#666" stroke-width="0.8"/>
<text transform="translate(488.3,386.1) rotate(-90)" font-family="Liberation Serif, serif" font-size="5.6" fill="#111">6.5</text>
<path d="M489.2,388.7 l1.7,2.9 h-3.4 z" fill="none" stroke="#222" stroke-width="0.9"/>
<path d="M519.6,387.6 l1.7,2.9 h-3.4 z" fill="none" stroke="#222" stroke-width="0.9"/>
<line x1="547.6" y1="388" x2="590.3" y2="383.2" stroke="#333" stroke-width="0.8"/>
<path d="M545.9,387.6 V375.3 H571.4" fill="none" stroke="#666" stroke-width="0.8"/>
<line x1="571.4" y1="372.9" x2="571.4" y2="375.3" stroke="#666" stroke-width="0.8"/>
<text transform="translate(547.8,386) rotate(-90)" font-family="Liberation Serif, serif" font-size="5.6" fill="#111">7.4</text>
<path d="M547.6,388.9 l1.7,2.9 h-3.4 z" fill="none" stroke="#222" stroke-width="0.9"/>
<path d="M590.3,384.1 l1.7,2.9 h-3.4 z" fill="none" stroke="#222" stroke-width="0.9"/>
<line x1="616" y1="384" x2="658.8" y2="384" stroke="#333" stroke-width="0.8"/>
<path d="M613.7,384 V366.3 H631.8" fill="none" stroke="#666" stroke-width="0.8"/>
<line x1="631.8" y1="363.9" x2="631.8" y2="366.3" stroke="#666" stroke-width="0.8"/>
<text transform="translate(615.6,382.4) rotate(-90)" font-family="Liberation Serif, serif" font-size="5.6" fill="#111">8.3</text>
<path d="M616,384.9 l1.7,2.9 h-3.4 z" fill="none" stroke="#222" stroke-width="0.9"/>
<path d="M658.8,384.9 l1.7,2.9 h-3.4 z" fill="none" stroke="#222" stroke-width="0.9"/>
<line x1="658.8" y1="384" x2="699.3" y2="384" stroke="#333" stroke-width="0.8"/>
<path d="M657.4,384 V328.6 H673.4" fill="none" stroke="#666" stroke-width="0.8"/>
<line x1="673.4" y1="326.2" x2="673.4" y2="328.6" stroke="#666" stroke-width="0.8"/>
<text transform="translate(659.3,382.4) rotate(-90)" font-family="Liberation Serif, serif" font-size="5.6" fill="#111">8.8</text>
<path d="M658.8,384.9 l1.7,2.9 h-3.4 z" fill="none" stroke="#222" stroke-width="0.9"/>
<path d="M699.3,384.9 l1.7,2.9 h-3.4 z" fill="none" stroke="#222" stroke-width="0.9"/>
<text class="lb" font-size="17.6" x="149.60" y="51.60" textLength="61.05" lengthAdjust="spacingAndGlyphs">Mixture</text><text class="lb" font-size="17.6" x="215.23" y="51.60" textLength="32.03" lengthAdjust="spacingAndGlyphs">(500</text><text class="lb" font-size="17.6" x="254.24" y="51.60" textLength="18.13" lengthAdjust="spacingAndGlyphs">ng</text><text class="lb" font-size="17.6" x="277.74" y="51.60" textLength="25.89" lengthAdjust="spacingAndGlyphs">mL</text><text class="lb" font-size="17.6"><tspan x="303.96" y="45.30">-</tspan><tspan x="309.59" y="45.30">1</tspan><tspan x="318.63" y="51.60">)</tspan></text>
<text class="lb" font-size="17.6" x="150.50" y="91.00" textLength="40.60" lengthAdjust="spacingAndGlyphs">REM</text><text class="lb" font-size="17.6" x="193.72" y="91.00" textLength="32.66" lengthAdjust="spacingAndGlyphs">(500</text><text class="lb" font-size="17.6" x="232.01" y="91.00" textLength="19.16" lengthAdjust="spacingAndGlyphs">ng</text><text class="lb" font-size="17.6" x="256.93" y="91.00" textLength="26.52" lengthAdjust="spacingAndGlyphs">mL</text><text class="lb" font-size="17.6"><tspan x="283.56" y="84.70">-</tspan><tspan x="288.79" y="84.70">1</tspan><tspan x="296.63" y="91.00">)</tspan></text>
<text class="lb" font-size="17.6" x="149.79" y="132.70" textLength="38.26" lengthAdjust="spacingAndGlyphs">DAC</text><text class="lb" font-size="17.6" x="192.31" y="132.70" textLength="33.08" lengthAdjust="spacingAndGlyphs">(500</text><text class="lb" font-size="17.6" x="230.33" y="132.70" textLength="18.34" lengthAdjust="spacingAndGlyphs">ng</text><text class="lb" font-size="17.6" x="254.72" y="132.70" textLength="26.83" lengthAdjust="spacingAndGlyphs">mL</text><text class="lb" font-size="17.6"><tspan x="281.26" y="126.40">-</tspan><tspan x="287.09" y="126.40">1</tspan><tspan x="296.13" y="132.70">)</tspan></text>
<text class="lb" font-size="17.6" x="149.60" y="173.80" textLength="36.51" lengthAdjust="spacingAndGlyphs">DEX</text><text class="lb" font-size="17.6" x="190.11" y="173.80" textLength="32.87" lengthAdjust="spacingAndGlyphs">(500</text><text class="lb" font-size="17.6" x="231.02" y="173.80" textLength="18.75" lengthAdjust="spacingAndGlyphs">ng</text><text class="lb" font-size="17.6" x="252.71" y="173.80" textLength="27.25" lengthAdjust="spacingAndGlyphs">mL</text><text class="lb" font-size="17.6"><tspan x="280.36" y="167.50">-</tspan><tspan x="285.59" y="167.50">1</tspan><tspan x="293.73" y="173.80">)</tspan></text>
<text class="lb" font-size="17.6" x="146.92" y="212.70" textLength="47.30" lengthAdjust="spacingAndGlyphs">OSTP</text><text class="lb" font-size="17.6" x="194.42" y="212.70" textLength="32.56" lengthAdjust="spacingAndGlyphs">(500</text><text class="lb" font-size="17.6" x="234.44" y="212.70" textLength="18.23" lengthAdjust="spacingAndGlyphs">ng</text><text class="lb" font-size="17.6" x="256.52" y="212.70" textLength="26.94" lengthAdjust="spacingAndGlyphs">mL</text><text class="lb" font-size="17.6"><tspan x="283.56" y="206.40">-</tspan><tspan x="289.79" y="206.40">1</tspan><tspan x="298.13" y="212.70">)</tspan></text>
<text class="lb" font-size="17.6" x="126.71" y="254.00" textLength="44.31" lengthAdjust="spacingAndGlyphs">Blank</text><text class="lb" font-size="17.6" x="175.99" y="254.00" textLength="15.42" lengthAdjust="spacingAndGlyphs">of</text><text class="lb" font-size="17.6" x="195.22" y="254.00" textLength="36.18" lengthAdjust="spacingAndGlyphs">30%</text><text class="lb" font-size="17.6" x="235.73" y="254.00" textLength="70.58" lengthAdjust="spacingAndGlyphs">methanol</text>
<text class="lb" font-size="17.6" x="41.69" y="368.70" textLength="53.56" lengthAdjust="spacingAndGlyphs">Dosage</text><text class="lb" font-size="17.6" x="100.67" y="368.70" textLength="44.87" lengthAdjust="spacingAndGlyphs">forms</text><text class="lb" font-size="17.6" x="149.23" y="368.70" textLength="59.33" lengthAdjust="spacingAndGlyphs">average</text><text class="lb" font-size="17.6" x="212.60" y="368.70" textLength="55.37" lengthAdjust="spacingAndGlyphs">content</text><text class="lb" font-size="17.6" x="274.83" y="368.70" textLength="64.93" lengthAdjust="spacingAndGlyphs">(solution</text><text class="lb" font-size="17.6" x="346.00" y="368.70" textLength="16.36" lengthAdjust="spacingAndGlyphs">F)</text>
<text class="lb" font-size="17.6" x="42.22" y="436.50" textLength="43.21" lengthAdjust="spacingAndGlyphs">Blank</text><text class="lb" font-size="17.6" x="90.71" y="436.50" textLength="15.01" lengthAdjust="spacingAndGlyphs">of</text><text class="lb" font-size="17.6" x="109.40" y="436.50" textLength="37.46" lengthAdjust="spacingAndGlyphs">30%</text><text class="lb" font-size="17.6" x="151.43" y="436.50" textLength="69.97" lengthAdjust="spacingAndGlyphs">methanol</text>
<text class="lb" font-size="10.5" stroke-width="0.15"><tspan x="555.40" y="22.10">7.3</tspan></text>
<text class="lb" font-size="10.5" stroke-width="0.15"><tspan x="491.44" y="39.50">6.4</tspan></text>
<text class="lb" font-size="10.5" stroke-width="0.15"><tspan x="612.35" y="38.90">8.1</tspan></text>
<text class="lb" font-size="10.5" stroke-width="0.15"><tspan x="664.05" y="23.70">8.6</tspan></text>
<text class="lb" font-size="10.5" stroke-width="0.15"><tspan x="676.85" y="81.60">8.7</tspan></text>
<text class="lb" font-size="10.5" stroke-width="0.15"><tspan x="613.45" y="127.00">8.1</tspan></text>
<text class="lb" font-size="10.5" stroke-width="0.15"><tspan x="557.40" y="151.60">7.3</tspan></text>
<text class="lb" font-size="10.5" stroke-width="0.15"><tspan x="485.24" y="203.80">6.3</tspan></text>
<text class="lb" font-size="10.5" stroke-width="0.15"><tspan x="494.44" y="358.80">6.5</tspan></text>
<text class="lb" font-size="10.5" stroke-width="0.15"><tspan x="564.80" y="367.40">7.4</tspan></text>
<text class="lb" font-size="10.5" stroke-width="0.15"><tspan x="625.05" y="356.20">8.3</tspan></text>
<text class="lb" font-size="10.5" stroke-width="0.15"><tspan x="666.95" y="319.90">8.8</tspan></text>
<text class="lb" font-size="6.9" stroke-width="0" x="494.44" y="400.60" textLength="19.48" lengthAdjust="spacingAndGlyphs">OSTP</text>
<text class="lb" font-size="6.9" stroke-width="0" x="566.67" y="400.40" textLength="15.82" lengthAdjust="spacingAndGlyphs">DEX</text>
<text class="lb" font-size="6.9" stroke-width="0" x="627.37" y="400.40" textLength="15.68" lengthAdjust="spacingAndGlyphs">DAC</text>
<text class="lb" font-size="6.9" stroke-width="0" x="669.38" y="400.40" textLength="16.83" lengthAdjust="spacingAndGlyphs">REM</text>
</svg></body></html>
